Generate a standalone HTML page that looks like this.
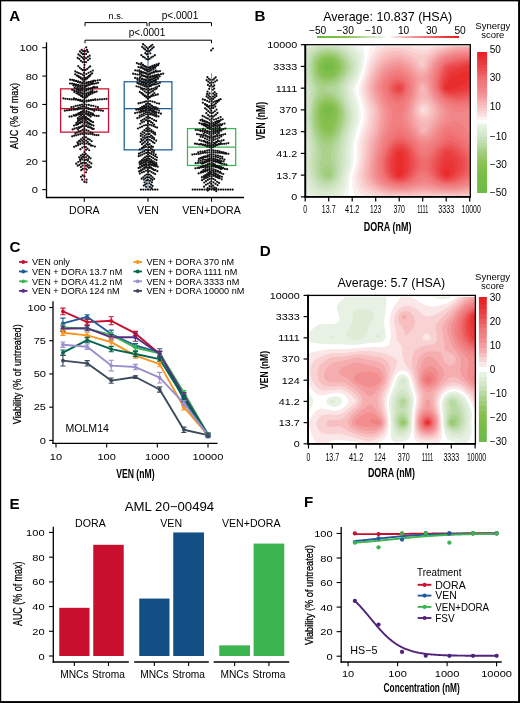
<!DOCTYPE html>
<html><head><meta charset="utf-8"><style>
html,body{margin:0;padding:0;background:#fff;}
svg{display:block;will-change:transform;}
text{font-family:"Liberation Sans", sans-serif;}
</style></head><body>
<svg width="520" height="703" viewBox="0 0 520 703">
<rect x="0" y="0" width="520" height="703" fill="#fff"/>
<text x="9.30" y="20.80" font-size="15.2" text-anchor="start" font-weight="bold" fill="#000" >A</text>
<polyline points="85.00,26.20 85.00,22.60 147.00,22.60 147.00,26.20" stroke="#000" stroke-width="1.0" fill="none" />
<polyline points="149.20,26.20 149.20,22.60 211.50,22.60 211.50,26.20" stroke="#000" stroke-width="1.0" fill="none" />
<polyline points="85.00,43.20 85.00,40.20 211.50,40.20 211.50,43.20" stroke="#000" stroke-width="1.0" fill="none" />
<text x="116.00" y="18.60" font-size="9.2" text-anchor="middle" font-weight="normal" fill="#000" >n.s.</text>
<text x="180.00" y="18.80" font-size="10" text-anchor="middle" font-weight="normal" fill="#000" >p&lt;.0001</text>
<text x="147.00" y="36.30" font-size="10" text-anchor="middle" font-weight="normal" fill="#000" >p&lt;.0001</text>
<line x1="46.50" y1="42.30" x2="46.50" y2="198.20" stroke="#000" stroke-width="1.3" />
<line x1="45.90" y1="197.50" x2="244.00" y2="197.50" stroke="#000" stroke-width="1.3" />
<line x1="42.30" y1="189.60" x2="46.50" y2="189.60" stroke="#000" stroke-width="1.1" />
<text x="38.00" y="193.10" font-size="9.8" text-anchor="end" font-weight="normal" fill="#000" textLength="6.16" lengthAdjust="spacingAndGlyphs">0</text>
<line x1="42.30" y1="161.22" x2="46.50" y2="161.22" stroke="#000" stroke-width="1.1" />
<text x="38.00" y="164.72" font-size="9.8" text-anchor="end" font-weight="normal" fill="#000" textLength="12.32" lengthAdjust="spacingAndGlyphs">20</text>
<line x1="42.30" y1="132.84" x2="46.50" y2="132.84" stroke="#000" stroke-width="1.1" />
<text x="38.00" y="136.34" font-size="9.8" text-anchor="end" font-weight="normal" fill="#000" textLength="12.32" lengthAdjust="spacingAndGlyphs">40</text>
<line x1="42.30" y1="104.46" x2="46.50" y2="104.46" stroke="#000" stroke-width="1.1" />
<text x="38.00" y="107.96" font-size="9.8" text-anchor="end" font-weight="normal" fill="#000" textLength="12.32" lengthAdjust="spacingAndGlyphs">60</text>
<line x1="42.30" y1="76.08" x2="46.50" y2="76.08" stroke="#000" stroke-width="1.1" />
<text x="38.00" y="79.58" font-size="9.8" text-anchor="end" font-weight="normal" fill="#000" textLength="12.32" lengthAdjust="spacingAndGlyphs">80</text>
<line x1="42.30" y1="47.70" x2="46.50" y2="47.70" stroke="#000" stroke-width="1.1" />
<text x="38.00" y="51.20" font-size="9.8" text-anchor="end" font-weight="normal" fill="#000" textLength="18.48" lengthAdjust="spacingAndGlyphs">100</text>
<line x1="84.30" y1="197.50" x2="84.30" y2="201.80" stroke="#000" stroke-width="1.1" />
<text x="84.30" y="214.40" font-size="10.6" text-anchor="middle" font-weight="normal" fill="#000" >DORA</text>
<line x1="148.00" y1="197.50" x2="148.00" y2="201.80" stroke="#000" stroke-width="1.1" />
<text x="148.00" y="214.40" font-size="10.6" text-anchor="middle" font-weight="normal" fill="#000" >VEN</text>
<line x1="211.50" y1="197.50" x2="211.50" y2="201.80" stroke="#000" stroke-width="1.1" />
<text x="211.50" y="214.40" font-size="10.6" text-anchor="middle" font-weight="normal" fill="#000" >VEN+DORA</text>
<text x="18.20" y="116.00" font-size="11.5" text-anchor="middle" font-weight="normal" fill="#000" textLength="66" lengthAdjust="spacingAndGlyphs" transform="rotate(-90 18.20 116.00)" stroke="#000" stroke-width="0.25">AUC (% of max)</text>
<line x1="84.30" y1="47.70" x2="84.30" y2="182.50" stroke="#C8102E" stroke-width="0.9" />
<rect x="60.60" y="88.85" width="47.90" height="43.28" fill="none" stroke="#C8102E" stroke-width="1.25"/>
<line x1="60.60" y1="108.72" x2="108.50" y2="108.72" stroke="#C8102E" stroke-width="1.25" />
<line x1="148.00" y1="47.70" x2="148.00" y2="189.60" stroke="#1B5E96" stroke-width="0.9" />
<rect x="124.20" y="81.76" width="47.70" height="68.11" fill="none" stroke="#1B5E96" stroke-width="1.25"/>
<line x1="124.20" y1="108.72" x2="171.90" y2="108.72" stroke="#1B5E96" stroke-width="1.25" />
<line x1="211.50" y1="73.24" x2="211.50" y2="189.60" stroke="#3CB44F" stroke-width="0.9" />
<rect x="187.50" y="128.58" width="48.20" height="36.89" fill="none" stroke="#3CB44F" stroke-width="1.25"/>
<line x1="187.50" y1="147.03" x2="235.70" y2="147.03" stroke="#3CB44F" stroke-width="1.25" />
<g fill="#111"><circle cx="84.38" cy="51.39" r="1.1"/><circle cx="84.07" cy="54.08" r="1.1"/><circle cx="84.19" cy="56.76" r="1.1"/><circle cx="84.09" cy="59.45" r="1.1"/><circle cx="84.46" cy="62.14" r="1.1"/><circle cx="84.49" cy="64.83" r="1.1"/><circle cx="84.21" cy="67.51" r="1.1"/><circle cx="84.19" cy="70.20" r="1.1"/><circle cx="84.07" cy="72.89" r="1.1"/><circle cx="84.05" cy="75.58" r="1.1"/><circle cx="84.43" cy="77.62" r="1.1"/><circle cx="84.36" cy="79.66" r="1.1"/><circle cx="84.03" cy="81.70" r="1.1"/><circle cx="84.29" cy="83.75" r="1.1"/><circle cx="84.24" cy="85.79" r="1.1"/><circle cx="84.51" cy="87.83" r="1.1"/><circle cx="84.43" cy="89.87" r="1.1"/><circle cx="84.36" cy="91.92" r="1.1"/><circle cx="84.33" cy="93.96" r="1.1"/><circle cx="84.57" cy="96.00" r="1.1"/><circle cx="84.59" cy="98.04" r="1.1"/><circle cx="84.20" cy="100.09" r="1.1"/><circle cx="84.14" cy="102.13" r="1.1"/><circle cx="84.48" cy="104.17" r="1.1"/><circle cx="84.04" cy="106.21" r="1.1"/><circle cx="84.22" cy="108.26" r="1.1"/><circle cx="84.04" cy="110.30" r="1.1"/><circle cx="84.19" cy="112.34" r="1.1"/><circle cx="84.04" cy="115.03" r="1.1"/><circle cx="84.17" cy="117.07" r="1.1"/><circle cx="84.47" cy="119.11" r="1.1"/><circle cx="84.54" cy="121.80" r="1.1"/><circle cx="84.48" cy="123.84" r="1.1"/><circle cx="84.34" cy="126.53" r="1.1"/><circle cx="84.37" cy="128.57" r="1.1"/><circle cx="84.22" cy="130.62" r="1.1"/><circle cx="84.10" cy="132.66" r="1.1"/><circle cx="84.26" cy="134.70" r="1.1"/><circle cx="84.44" cy="136.74" r="1.1"/><circle cx="84.04" cy="139.43" r="1.1"/><circle cx="84.01" cy="142.12" r="1.1"/><circle cx="84.46" cy="144.16" r="1.1"/><circle cx="84.42" cy="146.85" r="1.1"/><circle cx="84.56" cy="152.22" r="1.1"/><circle cx="84.24" cy="154.91" r="1.1"/><circle cx="84.22" cy="157.60" r="1.1"/><circle cx="84.48" cy="160.29" r="1.1"/><circle cx="84.46" cy="162.97" r="1.1"/><circle cx="84.44" cy="176.41" r="1.1"/><circle cx="84.37" cy="181.79" r="1.1"/><circle cx="86.21" cy="47.31" r="1.1"/><circle cx="83.01" cy="51.02" r="1.1"/><circle cx="81.72" cy="49.82" r="1.1"/><circle cx="85.65" cy="51.02" r="1.1"/><circle cx="87.01" cy="49.95" r="1.1"/><circle cx="82.85" cy="54.15" r="1.1"/><circle cx="81.40" cy="52.88" r="1.1"/><circle cx="79.94" cy="51.38" r="1.1"/><circle cx="86.10" cy="53.88" r="1.1"/><circle cx="87.90" cy="51.88" r="1.1"/><circle cx="82.83" cy="58.12" r="1.1"/><circle cx="81.36" cy="56.85" r="1.1"/><circle cx="79.89" cy="55.56" r="1.1"/><circle cx="78.42" cy="54.43" r="1.1"/><circle cx="86.08" cy="58.14" r="1.1"/><circle cx="87.87" cy="56.79" r="1.1"/><circle cx="89.65" cy="55.64" r="1.1"/><circle cx="82.64" cy="62.08" r="1.1"/><circle cx="80.98" cy="60.87" r="1.1"/><circle cx="79.32" cy="59.08" r="1.1"/><circle cx="77.66" cy="57.95" r="1.1"/><circle cx="86.16" cy="62.09" r="1.1"/><circle cx="88.02" cy="60.11" r="1.1"/><circle cx="89.88" cy="58.58" r="1.1"/><circle cx="82.79" cy="70.13" r="1.1"/><circle cx="81.28" cy="69.05" r="1.1"/><circle cx="79.77" cy="67.75" r="1.1"/><circle cx="78.25" cy="66.05" r="1.1"/><circle cx="85.77" cy="69.87" r="1.1"/><circle cx="87.24" cy="68.99" r="1.1"/><circle cx="88.71" cy="67.50" r="1.1"/><circle cx="90.17" cy="66.30" r="1.1"/><circle cx="82.49" cy="74.56" r="1.1"/><circle cx="80.69" cy="73.75" r="1.1"/><circle cx="78.88" cy="73.15" r="1.1"/><circle cx="77.07" cy="72.35" r="1.1"/><circle cx="75.27" cy="71.38" r="1.1"/><circle cx="86.43" cy="74.09" r="1.1"/><circle cx="88.56" cy="72.74" r="1.1"/><circle cx="90.68" cy="71.77" r="1.1"/><circle cx="92.81" cy="70.55" r="1.1"/><circle cx="82.47" cy="78.32" r="1.1"/><circle cx="80.65" cy="77.30" r="1.1"/><circle cx="78.82" cy="76.43" r="1.1"/><circle cx="77.00" cy="75.56" r="1.1"/><circle cx="75.17" cy="74.34" r="1.1"/><circle cx="85.89" cy="78.09" r="1.1"/><circle cx="87.47" cy="77.19" r="1.1"/><circle cx="89.06" cy="75.91" r="1.1"/><circle cx="90.65" cy="74.60" r="1.1"/><circle cx="92.23" cy="73.37" r="1.1"/><circle cx="82.54" cy="79.65" r="1.1"/><circle cx="80.79" cy="78.51" r="1.1"/><circle cx="79.03" cy="77.27" r="1.1"/><circle cx="77.28" cy="75.83" r="1.1"/><circle cx="85.72" cy="79.51" r="1.1"/><circle cx="87.14" cy="78.42" r="1.1"/><circle cx="88.56" cy="77.10" r="1.1"/><circle cx="89.98" cy="75.71" r="1.1"/><circle cx="82.27" cy="82.58" r="1.1"/><circle cx="80.24" cy="82.15" r="1.1"/><circle cx="78.20" cy="81.42" r="1.1"/><circle cx="76.17" cy="80.95" r="1.1"/><circle cx="74.14" cy="80.40" r="1.1"/><circle cx="72.11" cy="79.86" r="1.1"/><circle cx="70.08" cy="79.66" r="1.1"/><circle cx="86.53" cy="82.39" r="1.1"/><circle cx="88.76" cy="81.98" r="1.1"/><circle cx="90.99" cy="81.69" r="1.1"/><circle cx="93.22" cy="81.21" r="1.1"/><circle cx="95.45" cy="80.85" r="1.1"/><circle cx="97.68" cy="80.30" r="1.1"/><circle cx="99.90" cy="80.07" r="1.1"/><circle cx="82.15" cy="83.63" r="1.1"/><circle cx="80.00" cy="82.61" r="1.1"/><circle cx="77.85" cy="81.98" r="1.1"/><circle cx="75.70" cy="81.02" r="1.1"/><circle cx="73.55" cy="80.46" r="1.1"/><circle cx="86.23" cy="83.35" r="1.1"/><circle cx="88.16" cy="82.89" r="1.1"/><circle cx="90.08" cy="82.16" r="1.1"/><circle cx="92.01" cy="81.48" r="1.1"/><circle cx="93.94" cy="80.62" r="1.1"/><circle cx="82.26" cy="85.66" r="1.1"/><circle cx="80.22" cy="85.27" r="1.1"/><circle cx="78.17" cy="84.96" r="1.1"/><circle cx="76.13" cy="84.56" r="1.1"/><circle cx="74.09" cy="83.98" r="1.1"/><circle cx="72.05" cy="83.65" r="1.1"/><circle cx="70.00" cy="83.50" r="1.1"/><circle cx="86.26" cy="85.45" r="1.1"/><circle cx="88.21" cy="85.11" r="1.1"/><circle cx="90.17" cy="84.42" r="1.1"/><circle cx="92.13" cy="83.98" r="1.1"/><circle cx="94.08" cy="83.73" r="1.1"/><circle cx="96.04" cy="83.34" r="1.1"/><circle cx="98.00" cy="82.85" r="1.1"/><circle cx="82.29" cy="87.28" r="1.1"/><circle cx="80.28" cy="86.61" r="1.1"/><circle cx="78.27" cy="85.95" r="1.1"/><circle cx="76.26" cy="84.78" r="1.1"/><circle cx="74.25" cy="84.29" r="1.1"/><circle cx="86.02" cy="86.61" r="1.1"/><circle cx="87.74" cy="85.58" r="1.1"/><circle cx="89.46" cy="84.60" r="1.1"/><circle cx="91.17" cy="83.66" r="1.1"/><circle cx="92.89" cy="82.88" r="1.1"/><circle cx="82.13" cy="88.88" r="1.1"/><circle cx="79.96" cy="88.10" r="1.1"/><circle cx="77.79" cy="87.06" r="1.1"/><circle cx="75.62" cy="85.95" r="1.1"/><circle cx="73.46" cy="85.43" r="1.1"/><circle cx="86.44" cy="89.08" r="1.1"/><circle cx="88.57" cy="88.43" r="1.1"/><circle cx="90.71" cy="88.35" r="1.1"/><circle cx="92.84" cy="87.58" r="1.1"/><circle cx="94.98" cy="87.38" r="1.1"/><circle cx="97.11" cy="87.13" r="1.1"/><circle cx="82.38" cy="90.65" r="1.1"/><circle cx="80.45" cy="90.22" r="1.1"/><circle cx="78.53" cy="89.45" r="1.1"/><circle cx="76.61" cy="88.47" r="1.1"/><circle cx="74.69" cy="87.78" r="1.1"/><circle cx="86.23" cy="90.71" r="1.1"/><circle cx="88.15" cy="89.77" r="1.1"/><circle cx="90.08" cy="88.87" r="1.1"/><circle cx="92.01" cy="87.99" r="1.1"/><circle cx="93.93" cy="86.96" r="1.1"/><circle cx="82.28" cy="93.35" r="1.1"/><circle cx="80.25" cy="92.68" r="1.1"/><circle cx="78.23" cy="91.87" r="1.1"/><circle cx="76.20" cy="91.19" r="1.1"/><circle cx="74.18" cy="90.43" r="1.1"/><circle cx="72.15" cy="89.80" r="1.1"/><circle cx="86.37" cy="93.27" r="1.1"/><circle cx="88.43" cy="93.01" r="1.1"/><circle cx="90.50" cy="92.63" r="1.1"/><circle cx="92.56" cy="92.13" r="1.1"/><circle cx="94.63" cy="91.77" r="1.1"/><circle cx="96.69" cy="91.62" r="1.1"/><circle cx="82.48" cy="93.82" r="1.1"/><circle cx="80.67" cy="92.31" r="1.1"/><circle cx="78.85" cy="90.84" r="1.1"/><circle cx="77.03" cy="89.63" r="1.1"/><circle cx="86.33" cy="94.32" r="1.1"/><circle cx="88.36" cy="92.70" r="1.1"/><circle cx="90.40" cy="91.45" r="1.1"/><circle cx="92.43" cy="90.20" r="1.1"/><circle cx="82.32" cy="96.14" r="1.1"/><circle cx="80.33" cy="95.27" r="1.1"/><circle cx="78.35" cy="94.31" r="1.1"/><circle cx="76.37" cy="93.25" r="1.1"/><circle cx="74.38" cy="92.11" r="1.1"/><circle cx="86.36" cy="95.88" r="1.1"/><circle cx="88.43" cy="95.08" r="1.1"/><circle cx="90.49" cy="94.25" r="1.1"/><circle cx="92.55" cy="93.37" r="1.1"/><circle cx="94.61" cy="92.30" r="1.1"/><circle cx="82.67" cy="97.27" r="1.1"/><circle cx="81.03" cy="95.96" r="1.1"/><circle cx="79.40" cy="94.36" r="1.1"/><circle cx="77.76" cy="92.99" r="1.1"/><circle cx="85.82" cy="97.49" r="1.1"/><circle cx="87.33" cy="96.46" r="1.1"/><circle cx="88.85" cy="94.85" r="1.1"/><circle cx="90.37" cy="93.81" r="1.1"/><circle cx="91.89" cy="92.12" r="1.1"/><circle cx="82.20" cy="100.51" r="1.1"/><circle cx="80.10" cy="99.79" r="1.1"/><circle cx="78.00" cy="100.23" r="1.1"/><circle cx="75.91" cy="99.61" r="1.1"/><circle cx="73.81" cy="99.44" r="1.1"/><circle cx="71.71" cy="99.40" r="1.1"/><circle cx="69.61" cy="99.18" r="1.1"/><circle cx="67.51" cy="99.01" r="1.1"/><circle cx="65.41" cy="98.73" r="1.1"/><circle cx="63.32" cy="98.34" r="1.1"/><circle cx="86.52" cy="100.58" r="1.1"/><circle cx="88.75" cy="100.39" r="1.1"/><circle cx="90.97" cy="100.34" r="1.1"/><circle cx="93.19" cy="99.98" r="1.1"/><circle cx="95.42" cy="99.82" r="1.1"/><circle cx="97.64" cy="99.68" r="1.1"/><circle cx="99.86" cy="99.29" r="1.1"/><circle cx="102.09" cy="99.31" r="1.1"/><circle cx="104.31" cy="99.12" r="1.1"/><circle cx="106.53" cy="98.95" r="1.1"/><circle cx="82.23" cy="101.31" r="1.1"/><circle cx="80.16" cy="100.79" r="1.1"/><circle cx="78.09" cy="99.56" r="1.1"/><circle cx="76.01" cy="99.14" r="1.1"/><circle cx="73.94" cy="98.25" r="1.1"/><circle cx="86.47" cy="101.54" r="1.1"/><circle cx="88.65" cy="100.92" r="1.1"/><circle cx="90.82" cy="100.48" r="1.1"/><circle cx="92.99" cy="99.84" r="1.1"/><circle cx="95.17" cy="99.35" r="1.1"/><circle cx="82.15" cy="104.63" r="1.1"/><circle cx="79.99" cy="105.03" r="1.1"/><circle cx="77.84" cy="105.56" r="1.1"/><circle cx="75.68" cy="105.96" r="1.1"/><circle cx="73.53" cy="106.83" r="1.1"/><circle cx="71.37" cy="107.04" r="1.1"/><circle cx="86.56" cy="104.85" r="1.1"/><circle cx="88.83" cy="104.94" r="1.1"/><circle cx="91.09" cy="105.67" r="1.1"/><circle cx="93.35" cy="105.84" r="1.1"/><circle cx="95.61" cy="106.56" r="1.1"/><circle cx="97.88" cy="107.19" r="1.1"/><circle cx="82.30" cy="106.63" r="1.1"/><circle cx="80.29" cy="107.44" r="1.1"/><circle cx="78.29" cy="107.85" r="1.1"/><circle cx="76.29" cy="108.82" r="1.1"/><circle cx="74.29" cy="109.24" r="1.1"/><circle cx="86.29" cy="107.04" r="1.1"/><circle cx="88.27" cy="108.06" r="1.1"/><circle cx="90.26" cy="109.26" r="1.1"/><circle cx="92.25" cy="109.76" r="1.1"/><circle cx="94.23" cy="110.82" r="1.1"/><circle cx="82.13" cy="108.74" r="1.1"/><circle cx="79.97" cy="108.68" r="1.1"/><circle cx="77.80" cy="109.47" r="1.1"/><circle cx="75.64" cy="109.39" r="1.1"/><circle cx="73.47" cy="109.67" r="1.1"/><circle cx="71.30" cy="109.92" r="1.1"/><circle cx="69.14" cy="110.13" r="1.1"/><circle cx="66.97" cy="110.28" r="1.1"/><circle cx="64.81" cy="110.63" r="1.1"/><circle cx="86.37" cy="108.28" r="1.1"/><circle cx="88.44" cy="108.98" r="1.1"/><circle cx="90.52" cy="109.20" r="1.1"/><circle cx="92.59" cy="109.50" r="1.1"/><circle cx="94.66" cy="109.90" r="1.1"/><circle cx="96.73" cy="109.78" r="1.1"/><circle cx="98.81" cy="110.17" r="1.1"/><circle cx="100.88" cy="110.47" r="1.1"/><circle cx="102.95" cy="110.82" r="1.1"/><circle cx="82.60" cy="111.33" r="1.1"/><circle cx="80.90" cy="112.16" r="1.1"/><circle cx="79.20" cy="113.20" r="1.1"/><circle cx="77.50" cy="114.48" r="1.1"/><circle cx="75.80" cy="115.40" r="1.1"/><circle cx="86.44" cy="111.14" r="1.1"/><circle cx="88.58" cy="111.83" r="1.1"/><circle cx="90.71" cy="112.75" r="1.1"/><circle cx="92.85" cy="113.58" r="1.1"/><circle cx="82.28" cy="111.82" r="1.1"/><circle cx="80.25" cy="112.86" r="1.1"/><circle cx="78.23" cy="113.64" r="1.1"/><circle cx="76.20" cy="114.62" r="1.1"/><circle cx="74.18" cy="115.62" r="1.1"/><circle cx="86.54" cy="111.85" r="1.1"/><circle cx="88.78" cy="112.86" r="1.1"/><circle cx="91.02" cy="113.75" r="1.1"/><circle cx="93.27" cy="114.74" r="1.1"/><circle cx="82.70" cy="114.01" r="1.1"/><circle cx="81.09" cy="115.36" r="1.1"/><circle cx="79.49" cy="116.55" r="1.1"/><circle cx="77.88" cy="118.20" r="1.1"/><circle cx="85.89" cy="113.58" r="1.1"/><circle cx="87.48" cy="114.70" r="1.1"/><circle cx="89.08" cy="115.59" r="1.1"/><circle cx="90.67" cy="116.59" r="1.1"/><circle cx="82.18" cy="113.81" r="1.1"/><circle cx="80.06" cy="114.37" r="1.1"/><circle cx="77.94" cy="114.58" r="1.1"/><circle cx="75.83" cy="115.29" r="1.1"/><circle cx="73.71" cy="115.23" r="1.1"/><circle cx="71.59" cy="116.41" r="1.1"/><circle cx="69.47" cy="116.62" r="1.1"/><circle cx="86.34" cy="113.72" r="1.1"/><circle cx="88.38" cy="114.36" r="1.1"/><circle cx="90.42" cy="114.63" r="1.1"/><circle cx="92.46" cy="115.11" r="1.1"/><circle cx="94.50" cy="115.62" r="1.1"/><circle cx="96.54" cy="115.92" r="1.1"/><circle cx="98.58" cy="115.92" r="1.1"/><circle cx="82.72" cy="116.52" r="1.1"/><circle cx="81.15" cy="117.54" r="1.1"/><circle cx="79.57" cy="118.73" r="1.1"/><circle cx="77.99" cy="120.11" r="1.1"/><circle cx="85.84" cy="116.78" r="1.1"/><circle cx="87.38" cy="118.47" r="1.1"/><circle cx="88.93" cy="119.37" r="1.1"/><circle cx="90.47" cy="120.83" r="1.1"/><circle cx="82.71" cy="118.28" r="1.1"/><circle cx="81.12" cy="119.34" r="1.1"/><circle cx="79.53" cy="120.38" r="1.1"/><circle cx="77.94" cy="121.78" r="1.1"/><circle cx="76.35" cy="122.97" r="1.1"/><circle cx="86.06" cy="118.13" r="1.1"/><circle cx="87.81" cy="119.20" r="1.1"/><circle cx="89.57" cy="120.21" r="1.1"/><circle cx="91.32" cy="121.39" r="1.1"/><circle cx="93.08" cy="122.20" r="1.1"/><circle cx="82.59" cy="120.47" r="1.1"/><circle cx="80.88" cy="121.93" r="1.1"/><circle cx="79.16" cy="122.96" r="1.1"/><circle cx="77.45" cy="124.39" r="1.1"/><circle cx="85.83" cy="120.22" r="1.1"/><circle cx="87.36" cy="121.84" r="1.1"/><circle cx="88.89" cy="123.20" r="1.1"/><circle cx="90.42" cy="124.24" r="1.1"/><circle cx="82.25" cy="122.41" r="1.1"/><circle cx="80.20" cy="123.27" r="1.1"/><circle cx="78.15" cy="124.04" r="1.1"/><circle cx="76.10" cy="124.81" r="1.1"/><circle cx="74.05" cy="125.55" r="1.1"/><circle cx="86.15" cy="122.50" r="1.1"/><circle cx="88.00" cy="123.65" r="1.1"/><circle cx="89.85" cy="124.25" r="1.1"/><circle cx="91.70" cy="124.96" r="1.1"/><circle cx="93.55" cy="125.62" r="1.1"/><circle cx="82.69" cy="125.30" r="1.1"/><circle cx="81.09" cy="126.83" r="1.1"/><circle cx="79.48" cy="128.00" r="1.1"/><circle cx="77.88" cy="129.46" r="1.1"/><circle cx="86.39" cy="125.24" r="1.1"/><circle cx="88.47" cy="126.28" r="1.1"/><circle cx="90.56" cy="127.45" r="1.1"/><circle cx="92.65" cy="128.79" r="1.1"/><circle cx="82.36" cy="126.08" r="1.1"/><circle cx="80.41" cy="126.87" r="1.1"/><circle cx="78.47" cy="127.40" r="1.1"/><circle cx="76.52" cy="127.98" r="1.1"/><circle cx="74.58" cy="128.70" r="1.1"/><circle cx="72.64" cy="129.38" r="1.1"/><circle cx="86.19" cy="125.95" r="1.1"/><circle cx="88.07" cy="127.03" r="1.1"/><circle cx="89.96" cy="127.50" r="1.1"/><circle cx="91.85" cy="128.45" r="1.1"/><circle cx="93.73" cy="128.82" r="1.1"/><circle cx="82.52" cy="129.92" r="1.1"/><circle cx="80.74" cy="130.98" r="1.1"/><circle cx="78.96" cy="131.36" r="1.1"/><circle cx="77.18" cy="132.52" r="1.1"/><circle cx="75.40" cy="133.40" r="1.1"/><circle cx="86.36" cy="130.09" r="1.1"/><circle cx="88.42" cy="130.76" r="1.1"/><circle cx="90.48" cy="132.26" r="1.1"/><circle cx="92.55" cy="133.16" r="1.1"/><circle cx="82.27" cy="133.85" r="1.1"/><circle cx="80.25" cy="134.13" r="1.1"/><circle cx="78.22" cy="134.64" r="1.1"/><circle cx="76.20" cy="135.30" r="1.1"/><circle cx="74.17" cy="135.67" r="1.1"/><circle cx="72.15" cy="136.28" r="1.1"/><circle cx="86.30" cy="133.57" r="1.1"/><circle cx="88.31" cy="134.01" r="1.1"/><circle cx="90.31" cy="133.80" r="1.1"/><circle cx="92.32" cy="134.34" r="1.1"/><circle cx="94.32" cy="134.80" r="1.1"/><circle cx="96.32" cy="135.10" r="1.1"/><circle cx="98.33" cy="135.22" r="1.1"/><circle cx="82.59" cy="137.81" r="1.1"/><circle cx="80.87" cy="139.37" r="1.1"/><circle cx="79.16" cy="140.95" r="1.1"/><circle cx="77.44" cy="142.39" r="1.1"/><circle cx="86.13" cy="137.43" r="1.1"/><circle cx="87.95" cy="138.88" r="1.1"/><circle cx="89.78" cy="139.72" r="1.1"/><circle cx="91.60" cy="141.19" r="1.1"/><circle cx="82.26" cy="140.65" r="1.1"/><circle cx="80.22" cy="141.75" r="1.1"/><circle cx="78.19" cy="143.43" r="1.1"/><circle cx="86.05" cy="140.56" r="1.1"/><circle cx="87.80" cy="141.97" r="1.1"/><circle cx="89.54" cy="143.78" r="1.1"/><circle cx="91.29" cy="145.58" r="1.1"/><circle cx="82.26" cy="143.35" r="1.1"/><circle cx="80.21" cy="144.14" r="1.1"/><circle cx="78.17" cy="145.17" r="1.1"/><circle cx="76.13" cy="145.91" r="1.1"/><circle cx="74.09" cy="146.86" r="1.1"/><circle cx="86.43" cy="143.31" r="1.1"/><circle cx="88.55" cy="144.22" r="1.1"/><circle cx="90.68" cy="145.36" r="1.1"/><circle cx="92.80" cy="145.77" r="1.1"/><circle cx="94.93" cy="146.54" r="1.1"/><circle cx="82.34" cy="147.54" r="1.1"/><circle cx="80.38" cy="149.19" r="1.1"/><circle cx="85.93" cy="147.12" r="1.1"/><circle cx="87.57" cy="148.64" r="1.1"/><circle cx="89.20" cy="150.26" r="1.1"/><circle cx="86.03" cy="149.79" r="1.1"/><circle cx="82.58" cy="154.46" r="1.1"/><circle cx="80.86" cy="155.67" r="1.1"/><circle cx="79.14" cy="157.34" r="1.1"/><circle cx="85.88" cy="154.05" r="1.1"/><circle cx="87.45" cy="155.49" r="1.1"/><circle cx="89.03" cy="156.92" r="1.1"/><circle cx="90.60" cy="158.34" r="1.1"/><circle cx="82.90" cy="156.73" r="1.1"/><circle cx="81.51" cy="157.91" r="1.1"/><circle cx="80.11" cy="159.44" r="1.1"/><circle cx="86.24" cy="157.02" r="1.1"/><circle cx="88.18" cy="159.07" r="1.1"/><circle cx="82.27" cy="159.40" r="1.1"/><circle cx="80.24" cy="160.90" r="1.1"/><circle cx="78.21" cy="161.99" r="1.1"/><circle cx="76.18" cy="163.63" r="1.1"/><circle cx="86.06" cy="159.64" r="1.1"/><circle cx="87.82" cy="160.65" r="1.1"/><circle cx="89.58" cy="162.08" r="1.1"/><circle cx="91.34" cy="163.44" r="1.1"/><circle cx="82.66" cy="162.78" r="1.1"/><circle cx="81.01" cy="163.45" r="1.1"/><circle cx="79.37" cy="164.78" r="1.1"/><circle cx="77.73" cy="165.67" r="1.1"/><circle cx="85.94" cy="163.01" r="1.1"/><circle cx="87.59" cy="164.48" r="1.1"/><circle cx="89.23" cy="165.58" r="1.1"/><circle cx="90.88" cy="167.12" r="1.1"/><circle cx="82.60" cy="165.60" r="1.1"/><circle cx="80.90" cy="167.03" r="1.1"/><circle cx="85.84" cy="165.55" r="1.1"/><circle cx="87.37" cy="166.57" r="1.1"/><circle cx="88.91" cy="167.78" r="1.1"/><circle cx="82.79" cy="168.91" r="1.1"/><circle cx="81.27" cy="170.20" r="1.1"/><circle cx="85.57" cy="168.58" r="1.1"/><circle cx="86.83" cy="169.74" r="1.1"/><circle cx="86.03" cy="172.24" r="1.1"/><circle cx="82.67" cy="175.45" r="1.1"/><circle cx="81.03" cy="176.75" r="1.1"/><circle cx="82.23" cy="179.67" r="1.1"/><circle cx="86.54" cy="179.68" r="1.1"/><circle cx="86.45" cy="182.36" r="1.1"/></g>
<g fill="#111"><circle cx="147.90" cy="48.70" r="1.1"/><circle cx="148.07" cy="51.39" r="1.1"/><circle cx="147.70" cy="54.08" r="1.1"/><circle cx="148.16" cy="56.76" r="1.1"/><circle cx="148.16" cy="59.45" r="1.1"/><circle cx="148.15" cy="67.51" r="1.1"/><circle cx="147.96" cy="69.56" r="1.1"/><circle cx="147.89" cy="71.60" r="1.1"/><circle cx="148.19" cy="74.29" r="1.1"/><circle cx="147.94" cy="76.33" r="1.1"/><circle cx="147.78" cy="78.37" r="1.1"/><circle cx="148.27" cy="80.41" r="1.1"/><circle cx="147.78" cy="82.46" r="1.1"/><circle cx="148.16" cy="84.50" r="1.1"/><circle cx="147.83" cy="86.54" r="1.1"/><circle cx="148.22" cy="88.58" r="1.1"/><circle cx="148.07" cy="90.63" r="1.1"/><circle cx="148.27" cy="92.67" r="1.1"/><circle cx="148.06" cy="94.71" r="1.1"/><circle cx="148.21" cy="96.75" r="1.1"/><circle cx="148.00" cy="98.80" r="1.1"/><circle cx="148.23" cy="101.48" r="1.1"/><circle cx="147.95" cy="103.53" r="1.1"/><circle cx="148.26" cy="106.21" r="1.1"/><circle cx="148.09" cy="108.26" r="1.1"/><circle cx="148.25" cy="110.30" r="1.1"/><circle cx="147.73" cy="112.34" r="1.1"/><circle cx="147.92" cy="114.38" r="1.1"/><circle cx="148.24" cy="116.43" r="1.1"/><circle cx="147.86" cy="118.47" r="1.1"/><circle cx="148.03" cy="121.16" r="1.1"/><circle cx="147.95" cy="123.20" r="1.1"/><circle cx="147.71" cy="125.24" r="1.1"/><circle cx="147.72" cy="127.28" r="1.1"/><circle cx="147.99" cy="129.33" r="1.1"/><circle cx="147.93" cy="131.37" r="1.1"/><circle cx="148.23" cy="134.06" r="1.1"/><circle cx="147.90" cy="136.74" r="1.1"/><circle cx="147.79" cy="139.43" r="1.1"/><circle cx="147.77" cy="142.12" r="1.1"/><circle cx="147.95" cy="144.81" r="1.1"/><circle cx="148.29" cy="147.49" r="1.1"/><circle cx="148.24" cy="150.18" r="1.1"/><circle cx="148.02" cy="152.22" r="1.1"/><circle cx="148.01" cy="154.27" r="1.1"/><circle cx="148.07" cy="156.31" r="1.1"/><circle cx="148.15" cy="158.35" r="1.1"/><circle cx="147.73" cy="160.39" r="1.1"/><circle cx="148.26" cy="162.44" r="1.1"/><circle cx="148.23" cy="165.12" r="1.1"/><circle cx="147.98" cy="167.81" r="1.1"/><circle cx="147.90" cy="169.85" r="1.1"/><circle cx="148.02" cy="171.90" r="1.1"/><circle cx="148.00" cy="174.58" r="1.1"/><circle cx="147.89" cy="177.27" r="1.1"/><circle cx="147.77" cy="179.96" r="1.1"/><circle cx="146.35" cy="47.14" r="1.1"/><circle cx="144.71" cy="45.48" r="1.1"/><circle cx="143.06" cy="44.14" r="1.1"/><circle cx="149.45" cy="47.20" r="1.1"/><circle cx="150.90" cy="45.92" r="1.1"/><circle cx="152.36" cy="44.76" r="1.1"/><circle cx="146.55" cy="50.90" r="1.1"/><circle cx="145.11" cy="49.46" r="1.1"/><circle cx="143.66" cy="48.28" r="1.1"/><circle cx="142.22" cy="46.89" r="1.1"/><circle cx="149.40" cy="51.10" r="1.1"/><circle cx="150.80" cy="49.84" r="1.1"/><circle cx="152.20" cy="48.44" r="1.1"/><circle cx="153.61" cy="47.16" r="1.1"/><circle cx="146.69" cy="54.35" r="1.1"/><circle cx="145.37" cy="53.17" r="1.1"/><circle cx="150.32" cy="53.32" r="1.1"/><circle cx="146.34" cy="59.00" r="1.1"/><circle cx="144.69" cy="57.61" r="1.1"/><circle cx="143.03" cy="56.84" r="1.1"/><circle cx="141.37" cy="55.15" r="1.1"/><circle cx="149.72" cy="58.73" r="1.1"/><circle cx="151.43" cy="57.45" r="1.1"/><circle cx="153.15" cy="56.49" r="1.1"/><circle cx="154.86" cy="55.22" r="1.1"/><circle cx="146.14" cy="66.76" r="1.1"/><circle cx="144.29" cy="66.06" r="1.1"/><circle cx="142.43" cy="65.47" r="1.1"/><circle cx="140.57" cy="64.50" r="1.1"/><circle cx="138.71" cy="63.90" r="1.1"/><circle cx="136.86" cy="63.10" r="1.1"/><circle cx="150.16" cy="66.89" r="1.1"/><circle cx="152.32" cy="65.74" r="1.1"/><circle cx="154.48" cy="65.16" r="1.1"/><circle cx="156.64" cy="64.46" r="1.1"/><circle cx="158.80" cy="63.55" r="1.1"/><circle cx="146.34" cy="67.42" r="1.1"/><circle cx="144.68" cy="66.06" r="1.1"/><circle cx="143.03" cy="64.81" r="1.1"/><circle cx="141.37" cy="63.15" r="1.1"/><circle cx="150.17" cy="68.08" r="1.1"/><circle cx="152.34" cy="66.82" r="1.1"/><circle cx="154.51" cy="66.01" r="1.1"/><circle cx="156.68" cy="65.29" r="1.1"/><circle cx="146.08" cy="69.45" r="1.1"/><circle cx="144.16" cy="68.69" r="1.1"/><circle cx="142.25" cy="67.88" r="1.1"/><circle cx="140.33" cy="67.63" r="1.1"/><circle cx="138.41" cy="67.01" r="1.1"/><circle cx="150.02" cy="68.90" r="1.1"/><circle cx="152.04" cy="68.02" r="1.1"/><circle cx="154.05" cy="67.21" r="1.1"/><circle cx="156.07" cy="65.99" r="1.1"/><circle cx="158.09" cy="65.13" r="1.1"/><circle cx="146.29" cy="70.53" r="1.1"/><circle cx="144.58" cy="69.56" r="1.1"/><circle cx="142.87" cy="68.30" r="1.1"/><circle cx="141.16" cy="67.02" r="1.1"/><circle cx="149.82" cy="70.94" r="1.1"/><circle cx="151.63" cy="70.02" r="1.1"/><circle cx="153.45" cy="69.15" r="1.1"/><circle cx="155.26" cy="67.78" r="1.1"/><circle cx="145.86" cy="73.07" r="1.1"/><circle cx="143.73" cy="72.52" r="1.1"/><circle cx="141.59" cy="71.96" r="1.1"/><circle cx="139.46" cy="71.37" r="1.1"/><circle cx="137.32" cy="70.68" r="1.1"/><circle cx="135.18" cy="70.36" r="1.1"/><circle cx="150.00" cy="73.47" r="1.1"/><circle cx="152.00" cy="72.63" r="1.1"/><circle cx="154.01" cy="72.45" r="1.1"/><circle cx="156.01" cy="71.77" r="1.1"/><circle cx="158.01" cy="71.41" r="1.1"/><circle cx="160.01" cy="71.07" r="1.1"/><circle cx="146.27" cy="73.78" r="1.1"/><circle cx="144.53" cy="72.96" r="1.1"/><circle cx="142.80" cy="72.35" r="1.1"/><circle cx="141.07" cy="71.50" r="1.1"/><circle cx="139.34" cy="70.24" r="1.1"/><circle cx="149.96" cy="73.97" r="1.1"/><circle cx="151.92" cy="72.86" r="1.1"/><circle cx="153.89" cy="71.55" r="1.1"/><circle cx="155.85" cy="70.61" r="1.1"/><circle cx="145.88" cy="76.35" r="1.1"/><circle cx="143.75" cy="75.84" r="1.1"/><circle cx="141.63" cy="75.64" r="1.1"/><circle cx="139.51" cy="74.74" r="1.1"/><circle cx="137.38" cy="74.54" r="1.1"/><circle cx="135.26" cy="74.03" r="1.1"/><circle cx="133.13" cy="73.67" r="1.1"/><circle cx="150.17" cy="76.32" r="1.1"/><circle cx="152.34" cy="75.77" r="1.1"/><circle cx="154.51" cy="75.33" r="1.1"/><circle cx="156.68" cy="75.11" r="1.1"/><circle cx="158.85" cy="74.78" r="1.1"/><circle cx="161.02" cy="74.19" r="1.1"/><circle cx="163.19" cy="73.71" r="1.1"/><circle cx="146.37" cy="77.45" r="1.1"/><circle cx="144.73" cy="76.27" r="1.1"/><circle cx="143.10" cy="75.58" r="1.1"/><circle cx="141.47" cy="74.09" r="1.1"/><circle cx="139.83" cy="73.06" r="1.1"/><circle cx="150.00" cy="77.65" r="1.1"/><circle cx="152.00" cy="77.02" r="1.1"/><circle cx="154.01" cy="76.40" r="1.1"/><circle cx="156.01" cy="75.70" r="1.1"/><circle cx="158.01" cy="74.69" r="1.1"/><circle cx="145.86" cy="79.78" r="1.1"/><circle cx="143.72" cy="79.64" r="1.1"/><circle cx="141.57" cy="79.17" r="1.1"/><circle cx="139.43" cy="78.85" r="1.1"/><circle cx="137.29" cy="78.33" r="1.1"/><circle cx="135.15" cy="77.95" r="1.1"/><circle cx="149.93" cy="79.56" r="1.1"/><circle cx="151.87" cy="79.30" r="1.1"/><circle cx="153.80" cy="78.34" r="1.1"/><circle cx="155.74" cy="77.56" r="1.1"/><circle cx="157.67" cy="77.22" r="1.1"/><circle cx="159.61" cy="76.45" r="1.1"/><circle cx="146.03" cy="80.70" r="1.1"/><circle cx="144.06" cy="79.60" r="1.1"/><circle cx="142.10" cy="78.60" r="1.1"/><circle cx="140.13" cy="77.20" r="1.1"/><circle cx="150.08" cy="80.45" r="1.1"/><circle cx="152.16" cy="79.39" r="1.1"/><circle cx="154.24" cy="78.38" r="1.1"/><circle cx="156.32" cy="76.83" r="1.1"/><circle cx="145.89" cy="83.06" r="1.1"/><circle cx="143.79" cy="82.06" r="1.1"/><circle cx="141.68" cy="81.43" r="1.1"/><circle cx="139.58" cy="80.49" r="1.1"/><circle cx="137.47" cy="79.85" r="1.1"/><circle cx="150.00" cy="82.50" r="1.1"/><circle cx="152.01" cy="81.52" r="1.1"/><circle cx="154.01" cy="80.59" r="1.1"/><circle cx="156.01" cy="79.72" r="1.1"/><circle cx="158.01" cy="78.72" r="1.1"/><circle cx="145.98" cy="83.85" r="1.1"/><circle cx="143.96" cy="82.92" r="1.1"/><circle cx="141.94" cy="82.44" r="1.1"/><circle cx="139.92" cy="81.01" r="1.1"/><circle cx="149.91" cy="83.75" r="1.1"/><circle cx="151.82" cy="82.18" r="1.1"/><circle cx="153.72" cy="81.06" r="1.1"/><circle cx="155.63" cy="79.97" r="1.1"/><circle cx="145.86" cy="85.16" r="1.1"/><circle cx="143.72" cy="84.59" r="1.1"/><circle cx="141.58" cy="83.97" r="1.1"/><circle cx="139.45" cy="83.36" r="1.1"/><circle cx="137.31" cy="82.85" r="1.1"/><circle cx="149.99" cy="85.61" r="1.1"/><circle cx="151.99" cy="84.61" r="1.1"/><circle cx="153.98" cy="84.54" r="1.1"/><circle cx="155.97" cy="84.34" r="1.1"/><circle cx="157.97" cy="83.55" r="1.1"/><circle cx="159.96" cy="82.76" r="1.1"/><circle cx="146.14" cy="86.87" r="1.1"/><circle cx="144.27" cy="86.11" r="1.1"/><circle cx="142.41" cy="85.24" r="1.1"/><circle cx="140.54" cy="84.51" r="1.1"/><circle cx="138.68" cy="83.68" r="1.1"/><circle cx="149.59" cy="86.36" r="1.1"/><circle cx="151.18" cy="85.64" r="1.1"/><circle cx="152.77" cy="84.46" r="1.1"/><circle cx="154.36" cy="83.34" r="1.1"/><circle cx="155.95" cy="82.13" r="1.1"/><circle cx="146.09" cy="89.39" r="1.1"/><circle cx="144.17" cy="88.76" r="1.1"/><circle cx="142.26" cy="88.32" r="1.1"/><circle cx="140.34" cy="87.37" r="1.1"/><circle cx="138.43" cy="86.74" r="1.1"/><circle cx="136.51" cy="86.26" r="1.1"/><circle cx="149.85" cy="89.63" r="1.1"/><circle cx="151.71" cy="88.95" r="1.1"/><circle cx="153.56" cy="88.48" r="1.1"/><circle cx="155.42" cy="87.53" r="1.1"/><circle cx="157.27" cy="86.81" r="1.1"/><circle cx="159.13" cy="85.96" r="1.1"/><circle cx="146.29" cy="92.51" r="1.1"/><circle cx="144.58" cy="91.30" r="1.1"/><circle cx="142.87" cy="89.67" r="1.1"/><circle cx="141.16" cy="88.70" r="1.1"/><circle cx="149.70" cy="92.87" r="1.1"/><circle cx="151.40" cy="91.71" r="1.1"/><circle cx="153.10" cy="90.89" r="1.1"/><circle cx="154.80" cy="89.51" r="1.1"/><circle cx="156.50" cy="88.71" r="1.1"/><circle cx="146.37" cy="96.43" r="1.1"/><circle cx="144.73" cy="95.39" r="1.1"/><circle cx="143.10" cy="94.34" r="1.1"/><circle cx="141.46" cy="93.21" r="1.1"/><circle cx="139.83" cy="91.90" r="1.1"/><circle cx="149.96" cy="96.93" r="1.1"/><circle cx="151.91" cy="96.07" r="1.1"/><circle cx="153.87" cy="95.61" r="1.1"/><circle cx="155.83" cy="94.92" r="1.1"/><circle cx="157.79" cy="94.42" r="1.1"/><circle cx="146.44" cy="97.40" r="1.1"/><circle cx="144.87" cy="96.04" r="1.1"/><circle cx="143.31" cy="94.63" r="1.1"/><circle cx="141.75" cy="93.16" r="1.1"/><circle cx="149.59" cy="97.41" r="1.1"/><circle cx="151.18" cy="95.68" r="1.1"/><circle cx="152.78" cy="94.40" r="1.1"/><circle cx="154.37" cy="93.01" r="1.1"/><circle cx="146.10" cy="101.44" r="1.1"/><circle cx="144.20" cy="101.92" r="1.1"/><circle cx="142.30" cy="102.49" r="1.1"/><circle cx="140.40" cy="102.93" r="1.1"/><circle cx="138.51" cy="103.38" r="1.1"/><circle cx="150.22" cy="101.00" r="1.1"/><circle cx="152.44" cy="101.54" r="1.1"/><circle cx="154.66" cy="102.16" r="1.1"/><circle cx="156.88" cy="103.23" r="1.1"/><circle cx="159.10" cy="103.55" r="1.1"/><circle cx="146.07" cy="104.18" r="1.1"/><circle cx="144.15" cy="105.86" r="1.1"/><circle cx="142.22" cy="106.91" r="1.1"/><circle cx="140.30" cy="108.45" r="1.1"/><circle cx="149.81" cy="103.98" r="1.1"/><circle cx="151.63" cy="105.63" r="1.1"/><circle cx="153.44" cy="107.19" r="1.1"/><circle cx="155.25" cy="108.12" r="1.1"/><circle cx="146.11" cy="104.86" r="1.1"/><circle cx="144.22" cy="106.33" r="1.1"/><circle cx="142.33" cy="107.06" r="1.1"/><circle cx="140.44" cy="108.24" r="1.1"/><circle cx="138.54" cy="109.64" r="1.1"/><circle cx="149.96" cy="104.71" r="1.1"/><circle cx="151.91" cy="106.12" r="1.1"/><circle cx="153.87" cy="106.91" r="1.1"/><circle cx="155.82" cy="107.47" r="1.1"/><circle cx="157.78" cy="108.29" r="1.1"/><circle cx="146.22" cy="106.67" r="1.1"/><circle cx="144.43" cy="107.83" r="1.1"/><circle cx="142.65" cy="109.05" r="1.1"/><circle cx="140.86" cy="110.33" r="1.1"/><circle cx="149.79" cy="107.00" r="1.1"/><circle cx="151.58" cy="108.66" r="1.1"/><circle cx="153.36" cy="110.29" r="1.1"/><circle cx="155.15" cy="111.86" r="1.1"/><circle cx="146.04" cy="107.65" r="1.1"/><circle cx="144.08" cy="108.15" r="1.1"/><circle cx="142.12" cy="108.71" r="1.1"/><circle cx="140.15" cy="108.89" r="1.1"/><circle cx="138.19" cy="109.27" r="1.1"/><circle cx="136.23" cy="109.60" r="1.1"/><circle cx="150.22" cy="108.04" r="1.1"/><circle cx="152.44" cy="108.35" r="1.1"/><circle cx="154.65" cy="109.41" r="1.1"/><circle cx="156.87" cy="109.64" r="1.1"/><circle cx="159.09" cy="110.58" r="1.1"/><circle cx="145.98" cy="109.36" r="1.1"/><circle cx="143.96" cy="110.70" r="1.1"/><circle cx="141.95" cy="111.40" r="1.1"/><circle cx="139.93" cy="112.39" r="1.1"/><circle cx="149.63" cy="110.16" r="1.1"/><circle cx="151.25" cy="110.76" r="1.1"/><circle cx="152.88" cy="111.93" r="1.1"/><circle cx="154.51" cy="112.93" r="1.1"/><circle cx="156.13" cy="114.00" r="1.1"/><circle cx="145.85" cy="110.52" r="1.1"/><circle cx="143.69" cy="111.14" r="1.1"/><circle cx="141.54" cy="111.62" r="1.1"/><circle cx="139.39" cy="112.22" r="1.1"/><circle cx="137.23" cy="112.58" r="1.1"/><circle cx="135.08" cy="113.11" r="1.1"/><circle cx="150.15" cy="109.97" r="1.1"/><circle cx="152.30" cy="110.83" r="1.1"/><circle cx="154.45" cy="111.88" r="1.1"/><circle cx="156.60" cy="112.23" r="1.1"/><circle cx="158.75" cy="112.83" r="1.1"/><circle cx="160.90" cy="113.67" r="1.1"/><circle cx="145.94" cy="112.19" r="1.1"/><circle cx="143.88" cy="113.44" r="1.1"/><circle cx="141.82" cy="114.54" r="1.1"/><circle cx="139.76" cy="115.58" r="1.1"/><circle cx="149.65" cy="112.43" r="1.1"/><circle cx="151.30" cy="113.23" r="1.1"/><circle cx="152.95" cy="114.36" r="1.1"/><circle cx="154.60" cy="115.46" r="1.1"/><circle cx="156.25" cy="116.50" r="1.1"/><circle cx="145.87" cy="114.24" r="1.1"/><circle cx="143.74" cy="115.47" r="1.1"/><circle cx="141.60" cy="116.35" r="1.1"/><circle cx="139.47" cy="117.40" r="1.1"/><circle cx="137.34" cy="118.15" r="1.1"/><circle cx="150.10" cy="114.29" r="1.1"/><circle cx="152.20" cy="114.70" r="1.1"/><circle cx="154.30" cy="115.45" r="1.1"/><circle cx="156.40" cy="115.69" r="1.1"/><circle cx="158.50" cy="116.47" r="1.1"/><circle cx="146.26" cy="117.32" r="1.1"/><circle cx="144.52" cy="118.80" r="1.1"/><circle cx="142.78" cy="119.76" r="1.1"/><circle cx="141.05" cy="120.81" r="1.1"/><circle cx="150.03" cy="117.79" r="1.1"/><circle cx="152.07" cy="118.86" r="1.1"/><circle cx="154.10" cy="120.16" r="1.1"/><circle cx="156.13" cy="120.90" r="1.1"/><circle cx="146.06" cy="120.14" r="1.1"/><circle cx="144.12" cy="121.55" r="1.1"/><circle cx="142.19" cy="122.41" r="1.1"/><circle cx="140.25" cy="123.75" r="1.1"/><circle cx="149.53" cy="120.79" r="1.1"/><circle cx="151.05" cy="122.15" r="1.1"/><circle cx="152.58" cy="123.08" r="1.1"/><circle cx="154.10" cy="124.59" r="1.1"/><circle cx="145.99" cy="125.06" r="1.1"/><circle cx="143.97" cy="125.48" r="1.1"/><circle cx="141.96" cy="126.69" r="1.1"/><circle cx="139.94" cy="127.50" r="1.1"/><circle cx="137.93" cy="128.50" r="1.1"/><circle cx="149.82" cy="124.73" r="1.1"/><circle cx="151.65" cy="125.36" r="1.1"/><circle cx="153.47" cy="126.12" r="1.1"/><circle cx="155.29" cy="126.91" r="1.1"/><circle cx="157.12" cy="127.59" r="1.1"/><circle cx="146.21" cy="128.70" r="1.1"/><circle cx="144.41" cy="130.17" r="1.1"/><circle cx="142.62" cy="131.78" r="1.1"/><circle cx="140.83" cy="133.56" r="1.1"/><circle cx="149.73" cy="128.62" r="1.1"/><circle cx="151.46" cy="130.09" r="1.1"/><circle cx="153.20" cy="131.59" r="1.1"/><circle cx="154.93" cy="132.86" r="1.1"/><circle cx="146.19" cy="131.09" r="1.1"/><circle cx="144.38" cy="132.96" r="1.1"/><circle cx="142.57" cy="134.54" r="1.1"/><circle cx="140.76" cy="135.93" r="1.1"/><circle cx="149.80" cy="131.12" r="1.1"/><circle cx="151.60" cy="131.96" r="1.1"/><circle cx="153.41" cy="133.36" r="1.1"/><circle cx="155.21" cy="134.39" r="1.1"/><circle cx="146.29" cy="134.39" r="1.1"/><circle cx="144.58" cy="135.78" r="1.1"/><circle cx="142.88" cy="137.29" r="1.1"/><circle cx="141.17" cy="139.02" r="1.1"/><circle cx="149.51" cy="133.81" r="1.1"/><circle cx="151.02" cy="135.49" r="1.1"/><circle cx="152.53" cy="136.54" r="1.1"/><circle cx="154.04" cy="138.09" r="1.1"/><circle cx="146.50" cy="137.31" r="1.1"/><circle cx="145.00" cy="138.09" r="1.1"/><circle cx="143.50" cy="139.67" r="1.1"/><circle cx="141.99" cy="140.72" r="1.1"/><circle cx="140.49" cy="141.94" r="1.1"/><circle cx="150.05" cy="136.93" r="1.1"/><circle cx="152.09" cy="138.21" r="1.1"/><circle cx="154.14" cy="139.48" r="1.1"/><circle cx="156.19" cy="140.63" r="1.1"/><circle cx="146.51" cy="140.06" r="1.1"/><circle cx="145.01" cy="141.71" r="1.1"/><circle cx="143.52" cy="142.88" r="1.1"/><circle cx="142.03" cy="144.18" r="1.1"/><circle cx="149.63" cy="139.82" r="1.1"/><circle cx="151.26" cy="140.84" r="1.1"/><circle cx="152.89" cy="142.16" r="1.1"/><circle cx="154.52" cy="143.06" r="1.1"/><circle cx="146.57" cy="143.85" r="1.1"/><circle cx="145.14" cy="145.29" r="1.1"/><circle cx="143.71" cy="146.38" r="1.1"/><circle cx="142.28" cy="147.84" r="1.1"/><circle cx="149.64" cy="144.18" r="1.1"/><circle cx="151.28" cy="146.09" r="1.1"/><circle cx="152.91" cy="146.86" r="1.1"/><circle cx="145.97" cy="146.84" r="1.1"/><circle cx="143.94" cy="147.70" r="1.1"/><circle cx="141.90" cy="148.32" r="1.1"/><circle cx="139.87" cy="149.39" r="1.1"/><circle cx="149.49" cy="146.93" r="1.1"/><circle cx="150.98" cy="148.11" r="1.1"/><circle cx="152.47" cy="149.57" r="1.1"/><circle cx="153.96" cy="150.88" r="1.1"/><circle cx="146.18" cy="149.90" r="1.1"/><circle cx="144.36" cy="151.01" r="1.1"/><circle cx="142.55" cy="151.85" r="1.1"/><circle cx="140.73" cy="152.77" r="1.1"/><circle cx="138.91" cy="153.68" r="1.1"/><circle cx="149.94" cy="150.26" r="1.1"/><circle cx="151.87" cy="151.96" r="1.1"/><circle cx="153.81" cy="153.00" r="1.1"/><circle cx="155.75" cy="154.55" r="1.1"/><circle cx="146.15" cy="152.88" r="1.1"/><circle cx="144.31" cy="153.55" r="1.1"/><circle cx="142.46" cy="154.49" r="1.1"/><circle cx="140.61" cy="155.45" r="1.1"/><circle cx="138.76" cy="156.17" r="1.1"/><circle cx="149.78" cy="153.20" r="1.1"/><circle cx="151.56" cy="154.04" r="1.1"/><circle cx="153.34" cy="155.12" r="1.1"/><circle cx="155.13" cy="156.15" r="1.1"/><circle cx="156.91" cy="157.30" r="1.1"/><circle cx="146.48" cy="156.36" r="1.1"/><circle cx="144.95" cy="157.23" r="1.1"/><circle cx="143.43" cy="158.60" r="1.1"/><circle cx="141.90" cy="160.10" r="1.1"/><circle cx="140.38" cy="161.36" r="1.1"/><circle cx="149.72" cy="156.01" r="1.1"/><circle cx="151.45" cy="157.08" r="1.1"/><circle cx="153.17" cy="158.06" r="1.1"/><circle cx="154.89" cy="159.36" r="1.1"/><circle cx="156.61" cy="160.03" r="1.1"/><circle cx="146.30" cy="158.95" r="1.1"/><circle cx="144.60" cy="159.86" r="1.1"/><circle cx="142.91" cy="160.70" r="1.1"/><circle cx="141.21" cy="161.84" r="1.1"/><circle cx="139.51" cy="162.46" r="1.1"/><circle cx="149.66" cy="158.97" r="1.1"/><circle cx="151.31" cy="160.06" r="1.1"/><circle cx="152.97" cy="161.23" r="1.1"/><circle cx="154.62" cy="162.25" r="1.1"/><circle cx="156.28" cy="163.12" r="1.1"/><circle cx="146.04" cy="160.85" r="1.1"/><circle cx="144.08" cy="162.04" r="1.1"/><circle cx="142.12" cy="163.38" r="1.1"/><circle cx="140.16" cy="164.08" r="1.1"/><circle cx="149.78" cy="160.99" r="1.1"/><circle cx="151.57" cy="162.05" r="1.1"/><circle cx="153.35" cy="163.53" r="1.1"/><circle cx="155.14" cy="164.71" r="1.1"/><circle cx="145.95" cy="161.82" r="1.1"/><circle cx="143.90" cy="162.77" r="1.1"/><circle cx="141.86" cy="163.59" r="1.1"/><circle cx="139.81" cy="164.53" r="1.1"/><circle cx="150.13" cy="161.96" r="1.1"/><circle cx="152.25" cy="162.81" r="1.1"/><circle cx="154.38" cy="163.77" r="1.1"/><circle cx="156.50" cy="164.85" r="1.1"/><circle cx="146.02" cy="163.57" r="1.1"/><circle cx="144.05" cy="164.80" r="1.1"/><circle cx="142.07" cy="165.91" r="1.1"/><circle cx="140.09" cy="167.45" r="1.1"/><circle cx="149.88" cy="163.39" r="1.1"/><circle cx="151.76" cy="164.51" r="1.1"/><circle cx="153.63" cy="165.44" r="1.1"/><circle cx="155.51" cy="166.25" r="1.1"/><circle cx="146.10" cy="164.89" r="1.1"/><circle cx="144.20" cy="165.65" r="1.1"/><circle cx="142.31" cy="166.31" r="1.1"/><circle cx="140.41" cy="167.34" r="1.1"/><circle cx="138.51" cy="168.07" r="1.1"/><circle cx="149.94" cy="164.58" r="1.1"/><circle cx="151.89" cy="165.02" r="1.1"/><circle cx="153.83" cy="165.73" r="1.1"/><circle cx="155.77" cy="166.14" r="1.1"/><circle cx="157.71" cy="166.72" r="1.1"/><circle cx="146.14" cy="166.66" r="1.1"/><circle cx="144.28" cy="167.87" r="1.1"/><circle cx="142.42" cy="169.50" r="1.1"/><circle cx="140.56" cy="170.82" r="1.1"/><circle cx="149.61" cy="166.46" r="1.1"/><circle cx="151.22" cy="167.72" r="1.1"/><circle cx="152.83" cy="169.11" r="1.1"/><circle cx="154.44" cy="170.25" r="1.1"/><circle cx="146.23" cy="167.58" r="1.1"/><circle cx="144.45" cy="168.68" r="1.1"/><circle cx="142.68" cy="169.44" r="1.1"/><circle cx="140.91" cy="170.27" r="1.1"/><circle cx="139.13" cy="171.38" r="1.1"/><circle cx="149.87" cy="167.85" r="1.1"/><circle cx="151.74" cy="168.51" r="1.1"/><circle cx="153.60" cy="169.59" r="1.1"/><circle cx="155.47" cy="170.06" r="1.1"/><circle cx="157.34" cy="171.13" r="1.1"/><circle cx="145.96" cy="170.76" r="1.1"/><circle cx="143.92" cy="171.82" r="1.1"/><circle cx="141.88" cy="172.39" r="1.1"/><circle cx="139.84" cy="173.61" r="1.1"/><circle cx="149.80" cy="170.99" r="1.1"/><circle cx="151.60" cy="172.10" r="1.1"/><circle cx="153.39" cy="173.19" r="1.1"/><circle cx="155.19" cy="174.11" r="1.1"/><circle cx="146.40" cy="174.51" r="1.1"/><circle cx="144.81" cy="175.76" r="1.1"/><circle cx="143.21" cy="177.44" r="1.1"/><circle cx="141.62" cy="178.63" r="1.1"/><circle cx="149.54" cy="174.49" r="1.1"/><circle cx="151.09" cy="175.79" r="1.1"/><circle cx="152.63" cy="177.31" r="1.1"/><circle cx="154.18" cy="178.84" r="1.1"/><circle cx="146.64" cy="177.26" r="1.1"/><circle cx="145.27" cy="178.27" r="1.1"/><circle cx="143.91" cy="179.55" r="1.1"/><circle cx="149.45" cy="177.31" r="1.1"/><circle cx="150.90" cy="178.71" r="1.1"/><circle cx="152.35" cy="179.97" r="1.1"/><circle cx="146.27" cy="180.54" r="1.1"/><circle cx="144.54" cy="182.25" r="1.1"/><circle cx="149.96" cy="180.79" r="1.1"/><circle cx="151.92" cy="182.34" r="1.1"/><circle cx="146.60" cy="183.52" r="1.1"/><circle cx="145.20" cy="184.56" r="1.1"/><circle cx="143.80" cy="185.62" r="1.1"/><circle cx="149.52" cy="183.25" r="1.1"/><circle cx="151.04" cy="184.76" r="1.1"/><circle cx="152.56" cy="185.95" r="1.1"/><circle cx="146.12" cy="186.81" r="1.1"/><circle cx="149.84" cy="186.90" r="1.1"/><circle cx="151.68" cy="188.20" r="1.1"/><circle cx="148.00" cy="189.60" r="1.1"/><circle cx="150.35" cy="189.60" r="1.1"/><circle cx="145.65" cy="189.60" r="1.1"/><circle cx="152.70" cy="189.60" r="1.1"/><circle cx="143.30" cy="189.60" r="1.1"/><circle cx="155.05" cy="189.60" r="1.1"/><circle cx="140.95" cy="189.60" r="1.1"/><circle cx="157.40" cy="189.60" r="1.1"/></g>
<g fill="#111"><circle cx="211.48" cy="82.36" r="1.1"/><circle cx="211.23" cy="85.05" r="1.1"/><circle cx="211.58" cy="98.49" r="1.1"/><circle cx="211.66" cy="101.17" r="1.1"/><circle cx="211.56" cy="103.86" r="1.1"/><circle cx="211.33" cy="105.91" r="1.1"/><circle cx="211.64" cy="107.95" r="1.1"/><circle cx="211.27" cy="110.64" r="1.1"/><circle cx="211.72" cy="113.32" r="1.1"/><circle cx="211.79" cy="116.01" r="1.1"/><circle cx="211.68" cy="118.70" r="1.1"/><circle cx="211.46" cy="121.39" r="1.1"/><circle cx="211.43" cy="123.43" r="1.1"/><circle cx="211.73" cy="125.47" r="1.1"/><circle cx="211.21" cy="127.51" r="1.1"/><circle cx="211.74" cy="129.56" r="1.1"/><circle cx="211.37" cy="131.60" r="1.1"/><circle cx="211.42" cy="133.64" r="1.1"/><circle cx="211.38" cy="135.68" r="1.1"/><circle cx="211.44" cy="137.72" r="1.1"/><circle cx="211.63" cy="139.77" r="1.1"/><circle cx="211.80" cy="141.81" r="1.1"/><circle cx="211.44" cy="143.85" r="1.1"/><circle cx="211.34" cy="145.89" r="1.1"/><circle cx="211.37" cy="147.94" r="1.1"/><circle cx="211.56" cy="149.98" r="1.1"/><circle cx="211.62" cy="152.02" r="1.1"/><circle cx="211.61" cy="154.06" r="1.1"/><circle cx="211.56" cy="156.11" r="1.1"/><circle cx="211.62" cy="158.15" r="1.1"/><circle cx="211.59" cy="160.19" r="1.1"/><circle cx="211.72" cy="162.23" r="1.1"/><circle cx="211.59" cy="164.28" r="1.1"/><circle cx="211.79" cy="166.32" r="1.1"/><circle cx="211.59" cy="168.36" r="1.1"/><circle cx="211.65" cy="170.40" r="1.1"/><circle cx="211.23" cy="172.45" r="1.1"/><circle cx="211.68" cy="174.49" r="1.1"/><circle cx="211.66" cy="176.53" r="1.1"/><circle cx="211.46" cy="178.57" r="1.1"/><circle cx="211.30" cy="181.26" r="1.1"/><circle cx="211.27" cy="183.95" r="1.1"/><circle cx="211.37" cy="186.64" r="1.1"/><circle cx="210.14" cy="79.82" r="1.1"/><circle cx="208.77" cy="78.76" r="1.1"/><circle cx="207.41" cy="77.14" r="1.1"/><circle cx="212.90" cy="79.80" r="1.1"/><circle cx="214.30" cy="78.62" r="1.1"/><circle cx="215.70" cy="77.30" r="1.1"/><circle cx="209.89" cy="83.04" r="1.1"/><circle cx="208.28" cy="81.65" r="1.1"/><circle cx="206.67" cy="80.21" r="1.1"/><circle cx="213.32" cy="82.77" r="1.1"/><circle cx="215.13" cy="81.62" r="1.1"/><circle cx="216.95" cy="80.33" r="1.1"/><circle cx="209.72" cy="86.42" r="1.1"/><circle cx="207.95" cy="84.91" r="1.1"/><circle cx="212.88" cy="86.59" r="1.1"/><circle cx="214.26" cy="85.41" r="1.1"/><circle cx="209.18" cy="88.83" r="1.1"/><circle cx="212.87" cy="89.76" r="1.1"/><circle cx="214.24" cy="88.49" r="1.1"/><circle cx="209.53" cy="93.43" r="1.1"/><circle cx="207.56" cy="91.53" r="1.1"/><circle cx="213.09" cy="93.54" r="1.1"/><circle cx="214.68" cy="92.17" r="1.1"/><circle cx="210.01" cy="96.82" r="1.1"/><circle cx="208.53" cy="95.43" r="1.1"/><circle cx="207.04" cy="93.90" r="1.1"/><circle cx="213.13" cy="96.65" r="1.1"/><circle cx="214.75" cy="94.97" r="1.1"/><circle cx="216.38" cy="93.87" r="1.1"/><circle cx="209.84" cy="99.43" r="1.1"/><circle cx="208.18" cy="97.83" r="1.1"/><circle cx="206.52" cy="96.44" r="1.1"/><circle cx="213.15" cy="99.18" r="1.1"/><circle cx="214.79" cy="97.40" r="1.1"/><circle cx="216.44" cy="96.06" r="1.1"/><circle cx="209.32" cy="101.95" r="1.1"/><circle cx="207.14" cy="100.90" r="1.1"/><circle cx="204.96" cy="99.91" r="1.1"/><circle cx="202.78" cy="99.40" r="1.1"/><circle cx="213.31" cy="102.23" r="1.1"/><circle cx="215.11" cy="101.34" r="1.1"/><circle cx="216.92" cy="100.79" r="1.1"/><circle cx="218.72" cy="99.80" r="1.1"/><circle cx="220.53" cy="99.15" r="1.1"/><circle cx="209.34" cy="106.06" r="1.1"/><circle cx="207.18" cy="105.20" r="1.1"/><circle cx="205.02" cy="104.14" r="1.1"/><circle cx="202.86" cy="102.75" r="1.1"/><circle cx="212.97" cy="105.64" r="1.1"/><circle cx="214.43" cy="104.64" r="1.1"/><circle cx="215.90" cy="103.41" r="1.1"/><circle cx="217.36" cy="101.95" r="1.1"/><circle cx="218.83" cy="100.71" r="1.1"/><circle cx="210.04" cy="108.73" r="1.1"/><circle cx="208.58" cy="107.22" r="1.1"/><circle cx="207.13" cy="106.16" r="1.1"/><circle cx="205.67" cy="104.65" r="1.1"/><circle cx="213.41" cy="108.10" r="1.1"/><circle cx="215.32" cy="106.54" r="1.1"/><circle cx="209.90" cy="112.60" r="1.1"/><circle cx="208.30" cy="111.16" r="1.1"/><circle cx="206.70" cy="109.58" r="1.1"/><circle cx="205.10" cy="108.30" r="1.1"/><circle cx="213.18" cy="112.52" r="1.1"/><circle cx="214.87" cy="111.23" r="1.1"/><circle cx="216.55" cy="109.57" r="1.1"/><circle cx="209.78" cy="116.41" r="1.1"/><circle cx="208.07" cy="115.05" r="1.1"/><circle cx="206.35" cy="113.17" r="1.1"/><circle cx="212.99" cy="116.73" r="1.1"/><circle cx="214.48" cy="115.54" r="1.1"/><circle cx="215.97" cy="114.60" r="1.1"/><circle cx="217.46" cy="112.92" r="1.1"/><circle cx="209.72" cy="119.80" r="1.1"/><circle cx="207.94" cy="118.56" r="1.1"/><circle cx="206.16" cy="117.86" r="1.1"/><circle cx="204.39" cy="116.73" r="1.1"/><circle cx="202.61" cy="115.89" r="1.1"/><circle cx="213.77" cy="119.49" r="1.1"/><circle cx="216.05" cy="119.01" r="1.1"/><circle cx="218.32" cy="118.16" r="1.1"/><circle cx="220.59" cy="117.07" r="1.1"/><circle cx="209.32" cy="122.98" r="1.1"/><circle cx="207.14" cy="122.11" r="1.1"/><circle cx="204.96" cy="121.60" r="1.1"/><circle cx="202.78" cy="121.13" r="1.1"/><circle cx="200.60" cy="120.16" r="1.1"/><circle cx="213.36" cy="123.09" r="1.1"/><circle cx="215.22" cy="121.91" r="1.1"/><circle cx="217.09" cy="121.15" r="1.1"/><circle cx="218.95" cy="120.87" r="1.1"/><circle cx="220.81" cy="119.97" r="1.1"/><circle cx="222.67" cy="119.25" r="1.1"/><circle cx="209.66" cy="124.06" r="1.1"/><circle cx="207.83" cy="122.62" r="1.1"/><circle cx="205.99" cy="121.49" r="1.1"/><circle cx="204.16" cy="120.86" r="1.1"/><circle cx="202.32" cy="119.65" r="1.1"/><circle cx="213.52" cy="123.98" r="1.1"/><circle cx="215.54" cy="123.37" r="1.1"/><circle cx="217.57" cy="122.08" r="1.1"/><circle cx="219.59" cy="121.26" r="1.1"/><circle cx="209.48" cy="125.74" r="1.1"/><circle cx="207.47" cy="125.12" r="1.1"/><circle cx="205.45" cy="124.86" r="1.1"/><circle cx="203.44" cy="123.92" r="1.1"/><circle cx="201.42" cy="123.65" r="1.1"/><circle cx="199.41" cy="123.20" r="1.1"/><circle cx="213.67" cy="125.93" r="1.1"/><circle cx="215.83" cy="125.66" r="1.1"/><circle cx="218.00" cy="125.00" r="1.1"/><circle cx="220.17" cy="124.38" r="1.1"/><circle cx="222.33" cy="124.06" r="1.1"/><circle cx="224.50" cy="123.55" r="1.1"/><circle cx="209.82" cy="126.74" r="1.1"/><circle cx="208.14" cy="125.75" r="1.1"/><circle cx="206.46" cy="124.56" r="1.1"/><circle cx="204.78" cy="123.58" r="1.1"/><circle cx="213.27" cy="126.50" r="1.1"/><circle cx="215.03" cy="125.04" r="1.1"/><circle cx="216.80" cy="123.54" r="1.1"/><circle cx="218.57" cy="122.43" r="1.1"/><circle cx="209.62" cy="128.36" r="1.1"/><circle cx="207.75" cy="127.49" r="1.1"/><circle cx="205.87" cy="126.14" r="1.1"/><circle cx="204.00" cy="125.44" r="1.1"/><circle cx="202.12" cy="124.39" r="1.1"/><circle cx="213.48" cy="128.52" r="1.1"/><circle cx="215.46" cy="127.56" r="1.1"/><circle cx="217.44" cy="126.59" r="1.1"/><circle cx="219.42" cy="125.96" r="1.1"/><circle cx="221.40" cy="125.18" r="1.1"/><circle cx="209.77" cy="129.12" r="1.1"/><circle cx="208.04" cy="128.15" r="1.1"/><circle cx="206.31" cy="126.62" r="1.1"/><circle cx="204.58" cy="124.41" r="1.1"/><circle cx="213.57" cy="129.95" r="1.1"/><circle cx="215.65" cy="129.38" r="1.1"/><circle cx="217.72" cy="128.45" r="1.1"/><circle cx="219.79" cy="127.74" r="1.1"/><circle cx="209.25" cy="131.56" r="1.1"/><circle cx="207.00" cy="131.49" r="1.1"/><circle cx="204.75" cy="131.03" r="1.1"/><circle cx="202.50" cy="130.69" r="1.1"/><circle cx="200.25" cy="130.16" r="1.1"/><circle cx="198.00" cy="130.03" r="1.1"/><circle cx="195.75" cy="129.96" r="1.1"/><circle cx="213.48" cy="131.49" r="1.1"/><circle cx="215.46" cy="131.04" r="1.1"/><circle cx="217.43" cy="130.58" r="1.1"/><circle cx="219.41" cy="129.91" r="1.1"/><circle cx="221.39" cy="129.58" r="1.1"/><circle cx="223.37" cy="129.11" r="1.1"/><circle cx="225.35" cy="128.48" r="1.1"/><circle cx="209.39" cy="132.26" r="1.1"/><circle cx="207.28" cy="131.17" r="1.1"/><circle cx="205.18" cy="130.06" r="1.1"/><circle cx="203.07" cy="128.92" r="1.1"/><circle cx="213.56" cy="132.37" r="1.1"/><circle cx="215.62" cy="131.51" r="1.1"/><circle cx="217.69" cy="130.62" r="1.1"/><circle cx="219.75" cy="129.28" r="1.1"/><circle cx="209.29" cy="134.10" r="1.1"/><circle cx="207.08" cy="133.05" r="1.1"/><circle cx="204.87" cy="132.46" r="1.1"/><circle cx="202.66" cy="131.46" r="1.1"/><circle cx="200.45" cy="130.91" r="1.1"/><circle cx="213.48" cy="133.79" r="1.1"/><circle cx="215.45" cy="133.19" r="1.1"/><circle cx="217.43" cy="132.34" r="1.1"/><circle cx="219.40" cy="131.50" r="1.1"/><circle cx="221.38" cy="130.56" r="1.1"/><circle cx="209.43" cy="136.64" r="1.1"/><circle cx="207.36" cy="136.43" r="1.1"/><circle cx="205.29" cy="135.77" r="1.1"/><circle cx="203.22" cy="135.43" r="1.1"/><circle cx="201.15" cy="134.96" r="1.1"/><circle cx="199.08" cy="134.51" r="1.1"/><circle cx="197.01" cy="134.19" r="1.1"/><circle cx="213.46" cy="136.51" r="1.1"/><circle cx="215.42" cy="136.55" r="1.1"/><circle cx="217.38" cy="136.03" r="1.1"/><circle cx="219.34" cy="135.29" r="1.1"/><circle cx="221.29" cy="135.15" r="1.1"/><circle cx="223.25" cy="134.62" r="1.1"/><circle cx="225.21" cy="134.07" r="1.1"/><circle cx="209.53" cy="138.03" r="1.1"/><circle cx="207.57" cy="136.88" r="1.1"/><circle cx="205.60" cy="135.30" r="1.1"/><circle cx="203.63" cy="133.90" r="1.1"/><circle cx="213.31" cy="137.91" r="1.1"/><circle cx="215.12" cy="136.43" r="1.1"/><circle cx="216.93" cy="134.77" r="1.1"/><circle cx="218.74" cy="133.22" r="1.1"/><circle cx="209.33" cy="140.39" r="1.1"/><circle cx="207.16" cy="139.46" r="1.1"/><circle cx="204.98" cy="138.42" r="1.1"/><circle cx="202.81" cy="137.09" r="1.1"/><circle cx="200.64" cy="136.65" r="1.1"/><circle cx="213.45" cy="140.05" r="1.1"/><circle cx="215.40" cy="139.35" r="1.1"/><circle cx="217.35" cy="138.48" r="1.1"/><circle cx="219.30" cy="137.57" r="1.1"/><circle cx="221.25" cy="136.32" r="1.1"/><circle cx="209.48" cy="142.86" r="1.1"/><circle cx="207.47" cy="142.06" r="1.1"/><circle cx="205.45" cy="141.95" r="1.1"/><circle cx="203.43" cy="141.18" r="1.1"/><circle cx="201.42" cy="140.70" r="1.1"/><circle cx="199.40" cy="139.92" r="1.1"/><circle cx="213.52" cy="142.75" r="1.1"/><circle cx="215.54" cy="142.52" r="1.1"/><circle cx="217.57" cy="141.51" r="1.1"/><circle cx="219.59" cy="141.25" r="1.1"/><circle cx="221.61" cy="140.66" r="1.1"/><circle cx="223.63" cy="140.12" r="1.1"/><circle cx="209.43" cy="145.44" r="1.1"/><circle cx="207.36" cy="145.24" r="1.1"/><circle cx="205.28" cy="144.85" r="1.1"/><circle cx="203.21" cy="144.60" r="1.1"/><circle cx="201.14" cy="144.34" r="1.1"/><circle cx="199.07" cy="144.41" r="1.1"/><circle cx="197.00" cy="143.96" r="1.1"/><circle cx="194.93" cy="143.68" r="1.1"/><circle cx="213.60" cy="145.06" r="1.1"/><circle cx="215.71" cy="144.65" r="1.1"/><circle cx="217.81" cy="144.62" r="1.1"/><circle cx="219.92" cy="144.36" r="1.1"/><circle cx="222.02" cy="143.98" r="1.1"/><circle cx="224.13" cy="143.80" r="1.1"/><circle cx="226.23" cy="143.57" r="1.1"/><circle cx="228.34" cy="143.04" r="1.1"/><circle cx="209.66" cy="145.45" r="1.1"/><circle cx="207.82" cy="143.61" r="1.1"/><circle cx="205.98" cy="142.51" r="1.1"/><circle cx="204.14" cy="141.13" r="1.1"/><circle cx="213.15" cy="145.07" r="1.1"/><circle cx="214.80" cy="143.26" r="1.1"/><circle cx="216.45" cy="142.13" r="1.1"/><circle cx="218.10" cy="140.48" r="1.1"/><circle cx="209.33" cy="147.05" r="1.1"/><circle cx="207.17" cy="146.38" r="1.1"/><circle cx="205.00" cy="145.59" r="1.1"/><circle cx="202.83" cy="144.92" r="1.1"/><circle cx="200.67" cy="144.20" r="1.1"/><circle cx="213.36" cy="147.09" r="1.1"/><circle cx="215.21" cy="146.04" r="1.1"/><circle cx="217.07" cy="145.09" r="1.1"/><circle cx="218.92" cy="144.05" r="1.1"/><circle cx="220.78" cy="143.20" r="1.1"/><circle cx="209.27" cy="150.16" r="1.1"/><circle cx="207.05" cy="150.61" r="1.1"/><circle cx="204.82" cy="151.17" r="1.1"/><circle cx="202.59" cy="151.63" r="1.1"/><circle cx="200.36" cy="151.72" r="1.1"/><circle cx="198.14" cy="152.23" r="1.1"/><circle cx="213.52" cy="150.44" r="1.1"/><circle cx="215.53" cy="150.74" r="1.1"/><circle cx="217.55" cy="150.88" r="1.1"/><circle cx="219.56" cy="151.40" r="1.1"/><circle cx="221.58" cy="152.09" r="1.1"/><circle cx="223.59" cy="152.43" r="1.1"/><circle cx="225.61" cy="153.16" r="1.1"/><circle cx="209.37" cy="152.28" r="1.1"/><circle cx="207.24" cy="152.69" r="1.1"/><circle cx="205.11" cy="152.65" r="1.1"/><circle cx="202.98" cy="152.89" r="1.1"/><circle cx="200.85" cy="153.41" r="1.1"/><circle cx="198.72" cy="153.91" r="1.1"/><circle cx="196.59" cy="153.99" r="1.1"/><circle cx="194.46" cy="154.16" r="1.1"/><circle cx="192.33" cy="154.55" r="1.1"/><circle cx="213.62" cy="152.34" r="1.1"/><circle cx="215.73" cy="152.56" r="1.1"/><circle cx="217.85" cy="152.73" r="1.1"/><circle cx="219.97" cy="152.81" r="1.1"/><circle cx="222.08" cy="153.05" r="1.1"/><circle cx="224.20" cy="153.38" r="1.1"/><circle cx="226.32" cy="153.68" r="1.1"/><circle cx="228.43" cy="153.75" r="1.1"/><circle cx="209.63" cy="154.57" r="1.1"/><circle cx="207.77" cy="155.42" r="1.1"/><circle cx="205.90" cy="156.32" r="1.1"/><circle cx="204.03" cy="156.64" r="1.1"/><circle cx="202.17" cy="157.28" r="1.1"/><circle cx="200.30" cy="158.05" r="1.1"/><circle cx="213.65" cy="154.49" r="1.1"/><circle cx="215.79" cy="155.32" r="1.1"/><circle cx="217.94" cy="155.55" r="1.1"/><circle cx="220.09" cy="156.46" r="1.1"/><circle cx="222.23" cy="156.94" r="1.1"/><circle cx="209.40" cy="156.44" r="1.1"/><circle cx="207.30" cy="156.83" r="1.1"/><circle cx="205.20" cy="157.26" r="1.1"/><circle cx="203.10" cy="157.97" r="1.1"/><circle cx="201.00" cy="158.32" r="1.1"/><circle cx="198.90" cy="158.96" r="1.1"/><circle cx="213.66" cy="156.57" r="1.1"/><circle cx="215.83" cy="156.90" r="1.1"/><circle cx="217.99" cy="157.43" r="1.1"/><circle cx="220.16" cy="158.61" r="1.1"/><circle cx="222.32" cy="158.71" r="1.1"/><circle cx="224.49" cy="159.55" r="1.1"/><circle cx="209.88" cy="158.48" r="1.1"/><circle cx="208.25" cy="159.82" r="1.1"/><circle cx="206.63" cy="160.98" r="1.1"/><circle cx="205.01" cy="162.42" r="1.1"/><circle cx="203.39" cy="163.35" r="1.1"/><circle cx="213.68" cy="158.54" r="1.1"/><circle cx="215.87" cy="159.64" r="1.1"/><circle cx="218.05" cy="160.84" r="1.1"/><circle cx="220.23" cy="161.88" r="1.1"/><circle cx="209.34" cy="158.72" r="1.1"/><circle cx="207.19" cy="159.36" r="1.1"/><circle cx="205.03" cy="159.84" r="1.1"/><circle cx="202.87" cy="159.85" r="1.1"/><circle cx="200.72" cy="160.66" r="1.1"/><circle cx="198.56" cy="161.05" r="1.1"/><circle cx="213.50" cy="159.23" r="1.1"/><circle cx="215.50" cy="159.43" r="1.1"/><circle cx="217.50" cy="159.77" r="1.1"/><circle cx="219.51" cy="160.43" r="1.1"/><circle cx="221.51" cy="161.04" r="1.1"/><circle cx="223.51" cy="161.47" r="1.1"/><circle cx="209.58" cy="160.39" r="1.1"/><circle cx="207.67" cy="161.23" r="1.1"/><circle cx="205.75" cy="161.98" r="1.1"/><circle cx="203.83" cy="162.53" r="1.1"/><circle cx="201.91" cy="163.61" r="1.1"/><circle cx="213.40" cy="160.49" r="1.1"/><circle cx="215.29" cy="161.12" r="1.1"/><circle cx="217.19" cy="161.63" r="1.1"/><circle cx="219.09" cy="162.59" r="1.1"/><circle cx="220.99" cy="163.34" r="1.1"/><circle cx="209.24" cy="161.66" r="1.1"/><circle cx="206.98" cy="161.58" r="1.1"/><circle cx="204.71" cy="162.05" r="1.1"/><circle cx="202.45" cy="162.20" r="1.1"/><circle cx="200.19" cy="162.79" r="1.1"/><circle cx="197.93" cy="163.04" r="1.1"/><circle cx="195.67" cy="163.14" r="1.1"/><circle cx="213.63" cy="161.47" r="1.1"/><circle cx="215.76" cy="161.84" r="1.1"/><circle cx="217.89" cy="162.34" r="1.1"/><circle cx="220.03" cy="162.93" r="1.1"/><circle cx="222.16" cy="163.74" r="1.1"/><circle cx="224.29" cy="164.04" r="1.1"/><circle cx="226.42" cy="164.55" r="1.1"/><circle cx="209.60" cy="163.73" r="1.1"/><circle cx="207.70" cy="164.22" r="1.1"/><circle cx="205.81" cy="165.36" r="1.1"/><circle cx="203.91" cy="166.24" r="1.1"/><circle cx="202.01" cy="167.10" r="1.1"/><circle cx="213.23" cy="163.84" r="1.1"/><circle cx="214.96" cy="164.55" r="1.1"/><circle cx="216.70" cy="166.11" r="1.1"/><circle cx="218.43" cy="167.03" r="1.1"/><circle cx="220.16" cy="168.54" r="1.1"/><circle cx="209.38" cy="164.37" r="1.1"/><circle cx="207.25" cy="165.06" r="1.1"/><circle cx="205.13" cy="165.74" r="1.1"/><circle cx="203.01" cy="166.09" r="1.1"/><circle cx="200.88" cy="167.02" r="1.1"/><circle cx="198.76" cy="167.51" r="1.1"/><circle cx="213.43" cy="164.29" r="1.1"/><circle cx="215.36" cy="165.31" r="1.1"/><circle cx="217.28" cy="165.74" r="1.1"/><circle cx="219.21" cy="166.30" r="1.1"/><circle cx="221.14" cy="167.10" r="1.1"/><circle cx="223.07" cy="167.74" r="1.1"/><circle cx="209.47" cy="166.54" r="1.1"/><circle cx="207.45" cy="167.67" r="1.1"/><circle cx="205.42" cy="169.12" r="1.1"/><circle cx="203.39" cy="170.20" r="1.1"/><circle cx="213.40" cy="165.80" r="1.1"/><circle cx="215.31" cy="166.57" r="1.1"/><circle cx="217.21" cy="166.89" r="1.1"/><circle cx="219.12" cy="167.79" r="1.1"/><circle cx="221.02" cy="168.89" r="1.1"/><circle cx="209.49" cy="166.73" r="1.1"/><circle cx="207.47" cy="166.87" r="1.1"/><circle cx="205.46" cy="167.27" r="1.1"/><circle cx="203.45" cy="167.17" r="1.1"/><circle cx="201.44" cy="167.34" r="1.1"/><circle cx="199.42" cy="167.90" r="1.1"/><circle cx="197.41" cy="168.02" r="1.1"/><circle cx="195.40" cy="168.29" r="1.1"/><circle cx="213.73" cy="166.57" r="1.1"/><circle cx="215.96" cy="167.25" r="1.1"/><circle cx="218.19" cy="167.60" r="1.1"/><circle cx="220.42" cy="167.81" r="1.1"/><circle cx="222.66" cy="168.45" r="1.1"/><circle cx="224.89" cy="168.90" r="1.1"/><circle cx="227.12" cy="169.16" r="1.1"/><circle cx="209.50" cy="168.94" r="1.1"/><circle cx="207.51" cy="169.84" r="1.1"/><circle cx="205.51" cy="170.71" r="1.1"/><circle cx="203.51" cy="171.00" r="1.1"/><circle cx="201.52" cy="171.65" r="1.1"/><circle cx="213.64" cy="169.33" r="1.1"/><circle cx="215.79" cy="170.12" r="1.1"/><circle cx="217.93" cy="170.89" r="1.1"/><circle cx="220.07" cy="171.89" r="1.1"/><circle cx="209.35" cy="170.17" r="1.1"/><circle cx="207.20" cy="170.86" r="1.1"/><circle cx="205.06" cy="171.54" r="1.1"/><circle cx="202.91" cy="172.25" r="1.1"/><circle cx="200.76" cy="172.72" r="1.1"/><circle cx="198.61" cy="173.45" r="1.1"/><circle cx="213.46" cy="170.49" r="1.1"/><circle cx="215.43" cy="171.29" r="1.1"/><circle cx="217.39" cy="171.67" r="1.1"/><circle cx="219.36" cy="172.64" r="1.1"/><circle cx="221.32" cy="173.32" r="1.1"/><circle cx="223.29" cy="174.00" r="1.1"/><circle cx="209.92" cy="171.88" r="1.1"/><circle cx="208.34" cy="172.95" r="1.1"/><circle cx="206.76" cy="174.24" r="1.1"/><circle cx="205.18" cy="175.26" r="1.1"/><circle cx="203.60" cy="176.68" r="1.1"/><circle cx="213.46" cy="172.02" r="1.1"/><circle cx="215.41" cy="173.40" r="1.1"/><circle cx="217.37" cy="174.90" r="1.1"/><circle cx="219.32" cy="176.28" r="1.1"/><circle cx="209.57" cy="173.66" r="1.1"/><circle cx="207.65" cy="174.40" r="1.1"/><circle cx="205.72" cy="175.62" r="1.1"/><circle cx="203.79" cy="176.24" r="1.1"/><circle cx="201.87" cy="177.36" r="1.1"/><circle cx="213.60" cy="173.39" r="1.1"/><circle cx="215.70" cy="174.13" r="1.1"/><circle cx="217.80" cy="174.94" r="1.1"/><circle cx="219.90" cy="176.00" r="1.1"/><circle cx="222.00" cy="176.87" r="1.1"/><circle cx="209.80" cy="174.20" r="1.1"/><circle cx="208.10" cy="175.46" r="1.1"/><circle cx="206.41" cy="176.50" r="1.1"/><circle cx="204.71" cy="177.20" r="1.1"/><circle cx="213.33" cy="174.78" r="1.1"/><circle cx="215.16" cy="175.69" r="1.1"/><circle cx="216.99" cy="176.90" r="1.1"/><circle cx="218.82" cy="177.94" r="1.1"/><circle cx="209.61" cy="176.03" r="1.1"/><circle cx="207.72" cy="177.38" r="1.1"/><circle cx="205.83" cy="178.04" r="1.1"/><circle cx="203.94" cy="179.07" r="1.1"/><circle cx="202.05" cy="180.15" r="1.1"/><circle cx="213.54" cy="175.77" r="1.1"/><circle cx="215.58" cy="176.76" r="1.1"/><circle cx="217.62" cy="177.37" r="1.1"/><circle cx="219.65" cy="178.21" r="1.1"/><circle cx="221.69" cy="179.32" r="1.1"/><circle cx="209.68" cy="178.84" r="1.1"/><circle cx="207.86" cy="179.94" r="1.1"/><circle cx="206.04" cy="181.15" r="1.1"/><circle cx="204.23" cy="182.49" r="1.1"/><circle cx="213.38" cy="178.95" r="1.1"/><circle cx="215.26" cy="180.04" r="1.1"/><circle cx="217.14" cy="181.86" r="1.1"/><circle cx="219.02" cy="182.94" r="1.1"/><circle cx="209.64" cy="182.55" r="1.1"/><circle cx="207.78" cy="183.76" r="1.1"/><circle cx="205.92" cy="184.74" r="1.1"/><circle cx="204.06" cy="186.67" r="1.1"/><circle cx="213.51" cy="182.31" r="1.1"/><circle cx="215.51" cy="183.86" r="1.1"/><circle cx="217.52" cy="185.04" r="1.1"/><circle cx="209.59" cy="186.18" r="1.1"/><circle cx="207.68" cy="188.18" r="1.1"/><circle cx="213.11" cy="185.70" r="1.1"/><circle cx="214.71" cy="187.55" r="1.1"/><circle cx="216.32" cy="188.46" r="1.1"/><circle cx="209.62" cy="188.60" r="1.1"/><circle cx="207.74" cy="190.58" r="1.1"/><circle cx="213.08" cy="188.43" r="1.1"/><circle cx="214.67" cy="189.61" r="1.1"/><circle cx="216.25" cy="191.10" r="1.1"/><circle cx="211.50" cy="189.60" r="1.1"/><circle cx="213.85" cy="189.60" r="1.1"/><circle cx="209.15" cy="189.60" r="1.1"/><circle cx="216.20" cy="189.60" r="1.1"/><circle cx="206.80" cy="189.60" r="1.1"/><circle cx="218.55" cy="189.60" r="1.1"/><circle cx="204.45" cy="189.60" r="1.1"/><circle cx="220.90" cy="189.60" r="1.1"/><circle cx="202.10" cy="189.60" r="1.1"/><circle cx="223.25" cy="189.60" r="1.1"/><circle cx="199.75" cy="189.60" r="1.1"/><circle cx="225.60" cy="189.60" r="1.1"/><circle cx="197.40" cy="189.60" r="1.1"/><circle cx="227.95" cy="189.60" r="1.1"/><circle cx="195.05" cy="189.60" r="1.1"/><circle cx="230.30" cy="189.60" r="1.1"/><circle cx="192.70" cy="189.60" r="1.1"/><circle cx="232.65" cy="189.60" r="1.1"/><circle cx="211.20" cy="50.40" r="1.1"/><circle cx="212.90" cy="48.50" r="1.1"/></g>
<text x="254.50" y="21.00" font-size="15.2" text-anchor="start" font-weight="bold" fill="#000" >B</text>
<text x="323.20" y="20.50" font-size="13" text-anchor="start" font-weight="normal" fill="#000" textLength="129" lengthAdjust="spacingAndGlyphs">Average: 10.837 (HSA)</text>
<g><path fill="#fcf0f0" fill-rule="evenodd" d="M369.8 46.5L470 46.5L470 196L355.8 196L354.6 194.5L353.4 192L352.6 188.5L352.2 175.5L354.2 170L356 163L356.5 158.5L356.5 148L357 143L358.7 135L362.5 123L363.5 115.5L362.8 107.5L358.7 94L358.3 89L359.1 85.5L365.1 68.5Z"/><path fill="#fbe3e3" fill-rule="evenodd" d="M376.9 47L377.4 46.5L470 46.5L470 196L365.1 196L360.5 193.2L357.6 190L356.4 187.5L355.7 184.5L355.1 176L358.7 161L359.1 156L359.1 147L359.8 141.5L361.4 135L365 124L366.2 115L366.1 111.5L365.4 107.5L361.2 93.5L361 88L362.2 83L370.5 57.7L373.5 51.5Z"/><path fill="#fad7d7" fill-rule="evenodd" d="M384.1 47L385.1 46.5L409.3 46.5L418.5 49.7L422.5 50.4L426.5 49.5L433.8 46.5L470 46.5L470 196L376.6 196L370.5 194.2L366.5 192.3L363 190L360.5 187L359.3 184.5L358.5 181.5L358 178L358.1 174.5L361 160.5L362.3 142.5L363.6 137L367.5 125L368.9 114.5L368.3 108.5L363.6 93L363.2 89.5L363.5 86L364.7 81.5L370 65.9L373 58.8L375.4 55L378 51.8L381 49.1ZM422.5 108.8L421.8 109.5L422 110.7L423 111.3L424 111L424.4 110.5L424.5 109.5L423.5 108.7Z"/><path fill="#f9cbcb" fill-rule="evenodd" d="M439.5 47L441.4 46.5L470 46.5L470 195.3L466.1 196L446 195.7L430 196L423 195.4L418.6 196L401.4 196L399 195.7L396.8 196L383.2 196L371.5 191.5L366.5 188.6L363.5 185.4L361.5 181L360.7 175.5L361.1 171.5L363.2 160.5L364.8 143L366 138L369.8 127L371.6 114.5L371.1 109L365.9 93L365.4 89.5L365.5 86.5L367.1 80L373 64.3L376.1 59L380 54.5L385 50.9L390 48.8L396 48.1L403.5 48.8L409 50.5L418.5 54.5L422 55.1L425 54.2L434 49.2ZM423 106L421.5 106.7L420.4 108L419.8 109.5L419.9 111L420.7 112.5L422 113.6L423.5 114.2L425 114.1L426.5 113.3L427.4 112L427.8 110.5L427.6 109L426.9 107.5L425.8 106.5L424.5 105.9Z"/><path fill="#f8bfc0" fill-rule="evenodd" d="M447 47L448.5 46.5L470 46.5L470 193.8L461.5 195.2L457 195.5L446 194.6L435.5 194.8L423.5 193.8L410.5 195.3L399 194.5L390 195L383 193.8L374 190.1L369 187L366 183.8L364 179.5L363.3 174.5L367.2 143.5L368.4 139L372.2 128.5L373.6 120.5L374.3 112L374.1 109.5L370.1 99.5L368.2 93.5L367.5 90L367.5 86.5L369.2 79.5L374.7 66L379 59.7L384.5 54.9L390.5 52.1L393.5 51.5L397 51.3L401 51.7L404.5 52.5L411.8 56L415.3 58.5L417.9 61L420.8 66.5L422 67.3L423 67.3L424.1 66L424.4 62.5L425.2 60L427.1 57.5L429.6 55L433.5 52.1L437.5 49.9ZM423 102.8L421 104L419 106.3L418 109L418 111.5L419 114L421 116.3L423.5 117.8L425.5 117.8L427.5 116.9L429.5 114.8L430.5 112.3L430.6 109.5L429.4 106.5L427.5 104.1L425 102.8Z"/><path fill="#f7b5b6" fill-rule="evenodd" d="M452.1 47L453.8 46.5L470 46.5L470 192.2L461 193.7L456 194.1L437 193.5L424 192.3L409.5 193.8L399 193.4L391.5 193.5L384.5 192.4L376.5 189.1L371.6 186L368.5 182.8L366.4 178.5L365.7 174L366 170L369.6 144L371.2 138.5L374.4 131L376.1 120L376.7 112L376.4 109L372.3 99.5L370.1 93L369.4 89.5L369.4 86.5L371.2 79.5L376.5 67.5L380.5 62L386 57.5L392 55L398 54.3L403 55.3L408.5 57.8L413 61.4L419 68.3L421 69.3L423 69.4L424.5 68.6L425.5 67.6L429.2 59.5L431.1 57L433.9 54.5L437 52.4L440.5 50.7ZM422.5 87.3L421.6 88.5L422 89.6L423 90L423.7 89.5L424 88.5L423.5 87.6ZM423 98.4L420.5 100.6L417.5 105L416.3 108.5L416.1 111.5L417 115.1L419.5 119.2L422.5 122.4L424 123.2L425 123.3L428 121.6L431.5 117.5L433.1 114L433.4 110.5L432.1 106.5L429.5 102.5L425.5 98.8L424 98.2Z"/><path fill="#f5aaac" fill-rule="evenodd" d="M460.4 47L470 46.7L470 190.6L460.5 192.3L455 192.8L438.5 192.2L424 190.7L408.5 192.5L393.5 192.3L389.5 191.9L385.5 191L381.5 189.5L377.5 187.4L373.3 184.5L370.2 181L368.5 177L368 172.5L369.5 159L371.7 145.5L373.4 139L376.7 131.5L378.8 115.5L378.4 109L372.2 93L371.3 89.5L371.3 86.5L371.9 83.5L373.2 79.5L378.5 68.8L382.5 63.7L387.4 60L393 57.8L398.5 57.3L402.5 58.1L406.5 60L410.6 63L418 70.7L420.5 72L423 72L425 70.9L426.8 69L430.3 62L432.2 59L434.6 56.5L437.5 54.3L441.5 52.1L446 50.5L454 48.1ZM421.5 85.4L420.5 86.4L419.8 88L419.8 94L419.4 96.5L415.1 106L414.3 109L414.2 111.5L415.1 116.5L419.4 125.5L421.1 131L422 132.3L423 132.6L424.8 132L426.3 130.5L433 120.7L435.4 116L436.1 112L435.6 109L434.4 106L427.3 95L425.5 87L424.5 85.7L423.5 85.2Z"/><path fill="#f4a0a2" fill-rule="evenodd" d="M461.6 48.5L470 48.1L470 189.1L460 191L454 191.6L439.5 191L424 189L408 191.2L396 191.1L391.5 190.8L387.5 190L383.5 188.6L379.4 186.5L375.2 183.5L372.2 180L370.7 176.5L370.1 172L371.1 160.5L373.6 147L375.4 140L378.8 131L380.9 118L381 113L380.3 108.5L374.2 93L373.1 88.5L373.3 85.5L374.5 81.5L379 72.4L383 66.8L387.5 63.1L390.5 61.6L393.5 60.6L399 60.2L403 61.1L407 63.3L410.2 66L418 74.1L421 76.2L422.5 76.5L424.5 75.1L427 72.1L433.5 60.4L435.6 58L438.5 55.6L443 53.1L448.5 51.2L455.5 49.4ZM422 81.2L420 83.2L418.5 86.5L417.2 95.5L413 107L412.3 113L412.6 116L413.6 119.5L418.6 131L421 133.8L424 134.6L426 134L427.5 133.1L431 129L437.4 118.5L438.5 115.5L438.9 112.5L438.5 110L437.3 107L429.8 95L426.5 84.8L424 81.7L423 81.2Z"/><path fill="#f39799" fill-rule="evenodd" d="M469.8 49.5L470 187.5L460 189.7L453.5 190.4L440.5 189.9L424 187.3L420 187.6L408.5 189.8L398.5 190.1L393 189.7L388.5 188.8L384 187.1L380 184.9L376.4 182L373.8 178.5L372.4 174.5L372.1 170L372.9 160.5L374.7 153L375.6 147.5L377.6 140L381.4 129L383.2 118.5L383.3 113L382.4 108.5L375.9 92L374.8 88L375.4 85L376.8 81L381 73.2L384.8 68.5L389 65.3L394 63.2L398.5 62.7L402.5 63.6L406.5 65.9L411 70L415.6 75.5L417.3 78.5L417.6 82L415.3 95.5L410.7 109L410.2 113L410.5 117L412.7 124L417.6 133L419.5 134.9L421.5 136.1L423.5 136.6L426 136.4L429.5 134.5L432.5 131L440.2 119L441.3 116.5L441.8 114L441.7 111.5L440.6 108.5L433.5 98L431.3 94L427.2 80.5L427.1 78L427.5 76L432.4 65.5L434.8 61.5L437.5 58.5L440.8 56L444.5 54.1L450.5 52.1L456.5 50.7Z"/><path fill="#f28e90" fill-rule="evenodd" d="M467.7 51L470 50.8L470 185.9L460 188.4L453 189.3L446.5 189.2L440.5 188.7L427.5 185.8L424 185.5L420 185.9L408.4 188.5L399.5 189L394.5 188.7L390 187.8L386 186.4L382 184.3L378.5 181.5L375.8 178L374.4 174L374 169L374.7 160.5L377.5 148L379.6 140.5L383.9 128L385.7 119L385.7 113.5L384.9 109L378.3 92.5L377 88.5L377.1 86.5L378.2 83L381.6 76L385 71.6L389 68.2L393.5 66.1L398 65.2L401.5 65.9L405.5 68.1L409 71L412.5 75L414 77.5L415 80L415.3 82.5L415.1 86L413.7 95L409.8 105.5L408.6 110L408 115L408.4 119.5L409.5 123L411.2 126.5L414.5 132L416.9 135L419 136.9L421.5 138.4L424 139L426.5 138.8L430 137L433.5 133.4L443.5 119L444.7 116.5L445.1 114.5L445.1 112L444.1 109.5L434.4 96.5L432.3 92.5L430.9 88L429.6 82L429.4 78L430.4 74L433.1 67.5L435.3 63.5L437.7 60.5L441 57.6L444.5 55.7L449.5 53.8L455.5 52.3Z"/><path fill="#f28789" fill-rule="evenodd" d="M464.7 52.5L470 52.2L470 184.2L458.5 187.4L449 188.2L439.5 187.3L427 183.8L424 183.4L420.5 183.8L407.5 187.4L402.5 187.9L397.5 187.8L390.5 186.6L384 183.7L380.4 181L377.7 177.5L376.3 173.5L375.8 168L376.4 160.5L379.2 148.5L381.3 141.5L387.1 126L388.6 119L388.6 114.5L387.6 109L381.5 95L379.5 89L379.5 86.5L380 84L383 77.5L386 73.7L389.8 70.5L393.5 68.8L398 67.9L401 68.4L405 70.5L408.1 73L411 76.5L412.4 79L413.3 82L413.5 85.5L413.2 89.5L411.9 95.5L408 105L406.6 109.5L405.5 116L405.8 120.5L407 124L409.3 128L413.2 133.5L416.5 137.2L419.5 139.7L422 141.1L424.5 141.7L427 141.3L430.5 139.5L434 136.3L441 126.4L447.7 119L448.9 117L449.4 115L449.1 112.5L447.6 109.5L437.1 98L434.8 94.5L433.1 90.5L431.6 84.5L431.2 79.5L431.9 75L433.8 69.5L435.8 65.5L437.8 62.5L440.5 59.8L443.5 57.7L447.5 55.9L453 54.2L458.5 53.1Z"/><path fill="#f17f82" fill-rule="evenodd" d="M470 53.5L470 108.5L468.1 109L461.5 112.3L459.5 112.7L457.5 112.6L454 110.9L445 103.9L440.5 99.8L437 95.5L434.8 91.5L433.3 86.5L432.8 81L433.2 76.5L435 70.5L437.4 65.5L440.1 62L443.5 59.3L448 57.1L454.5 55.3L461.5 54.1ZM394.5 71L397 70.6L399.5 70.7L404 72.5L408.5 76.5L411.1 81L411.9 86L411.2 92.5L409.9 96.5L404.8 107.5L402.2 116L401.9 119.5L403.3 123.5L407.1 129L413.5 136.7L419.5 142.4L422.5 144.4L424.5 144.9L427 144.5L429.5 143.3L432.5 141L435.5 138L441.3 129.5L443.5 127L447.5 124L452.5 121.6L456 120.8L458.5 121.3L461.5 123.4L464.2 126.5L467.6 132.5L470 135.2L470 182.5L463.5 184.7L457.5 186.3L452.5 187L447 187.1L438.5 185.9L426 181.2L423 180.8L409 185.7L404 186.6L398.5 186.8L393 186L388 184.3L383.5 181.5L380.1 178L378.4 174.5L377.7 170.5L377.5 165L378.2 159.5L382.5 144L391.3 123.5L392.3 120.5L392.5 118L392 114L390.3 108L385 97.9L382.7 92.5L381.8 89L381.8 86L383.4 81L386.3 76.5L390.2 73Z"/><path fill="#f07a7c" fill-rule="evenodd" d="M466.1 55L470 54.8L470 105.9L461.5 107.7L457 107.6L452.5 106.2L447 103.1L442 99.3L438.5 95.5L436.4 92L434.8 87.5L434.2 82.5L434.6 77.5L436 72L437.9 67.5L440.1 64L443.3 61L447 59L452.5 57.1L459 55.8ZM394.5 73.5L397 73L399.5 73.2L402 74L404.5 75.4L406.8 77.5L408.6 80L409.7 82.5L410.3 85.5L410.1 90.5L408.6 95.5L402.7 105.5L400.9 110.5L400 111.6L398.5 112.3L397 112L396 111.1L393.4 106.5L387.7 98.5L385.3 93.5L384 88.5L384.4 84L386.6 79.5L390 75.9ZM396.2 125.5L397.5 125.2L399 125.5L403 128.3L418.7 145L423.5 151.2L424.5 150.8L429 147.2L435.5 141.3L439.1 137L443.1 130.5L445.5 128.3L449 126.8L452.5 126.5L456 127.3L458.9 129L470 140.9L470 180.6L463 183.4L456.5 185.2L450.5 186L445 185.9L439.5 184.8L434 182.8L428.1 179.5L423 175.5L419.5 179L415 181.9L410 184.1L404.5 185.4L399 185.7L394 185.1L389.5 183.5L385.5 181.2L382 177.7L380 173.5L379.1 167L379.7 160L382.3 150L385.5 141.5L392.5 129.1L394.5 126.7Z"/><path fill="#f07375" fill-rule="evenodd" d="M463.7 56.5L470 56.1L470 103.4L461.5 104.8L456.5 104.8L452 103.6L447 101.2L442.5 97.9L439.5 94.8L437.4 91.5L436.1 87.5L435.6 83L435.9 78.5L437.2 73L438.9 68.5L441 65L443.5 62.4L446.5 60.6L451 59L457.1 57.5ZM396.2 75.5L400.5 75.8L404.5 78L407.5 81.7L408.4 84L408.9 86.5L408.4 91.5L406.2 96.5L404 99.4L401.5 101.9L399.5 103.2L398 103.5L396 103.1L394 102L390.1 98L387.2 93L386.1 88L386.6 84L388.8 80L392.2 77ZM396.9 130.5L399 130L401 130.7L409 137.5L413.4 142L416.6 146L418.4 149L420.9 154.5L422 155.4L423.5 155.9L425.3 155.5L427 154.2L431.8 148.5L439.4 140.5L442.5 136.5L445.5 130.9L447.5 130.2L450.5 130.3L453 131L456 132.6L461.5 137.1L470 146.1L470 178.6L463.5 181.6L456.5 183.9L450.5 184.9L445 184.8L440 183.7L435 181.6L430.3 178.5L425.5 174L423 173.1L420.9 174L417.2 178L414 180.5L410 182.6L405.5 184L400.5 184.7L396 184.3L392 183.2L388 181.2L384 177.6L381.8 173.5L380.7 167L381.2 160.5L383.4 152L387 142.9L392 135.4L395 132Z"/><path fill="#ef6b6d" fill-rule="evenodd" d="M467.6 57.5L470 57.5L470 101L462.5 102.3L458.5 102.5L454 102L449.5 100.6L445 98.2L441.7 95.5L439.3 92.5L437.7 89L436.9 85L437 80.5L438.1 75L439.8 70L441.2 67L443 64.6L447 61.8L456.5 59ZM395.3 78L399.5 77.8L403 79.3L405.7 82L407.3 86L407.1 90.5L405.5 94.5L402.5 97.9L399 99.7L397.5 99.8L395.5 99.3L392.5 97.3L389.9 94L388.3 89.5L388.2 86L389.6 82.5L392 79.8ZM397.6 135L399.5 134.6L402 135.4L406 137.9L409.5 140.8L412.5 143.9L414.8 147L419.5 156.2L421.5 158.2L424 159.2L426 158.8L428.4 157L435.4 148L447.5 136.1L449 135.4L450.5 135.5L455.5 137.4L461.5 142L470 151.1L470 176.2L463.1 180L456.7 182.5L450.5 183.8L445 183.7L440.5 182.6L436 180.5L432.1 177.5L426.5 171.2L425 170.3L423.5 170.1L421.5 170.7L420 171.8L415.4 177L413 179.1L410 181L406.6 182.5L402.5 183.4L398 183.5L394 182.7L390.5 181.2L386.4 178L383.8 174L382.4 168L382.6 161L384.7 153L388.3 144.5L392.5 138.8L395 136.6Z"/><path fill="#ee6264" fill-rule="evenodd" d="M465.1 59L470 58.8L470 98.6L462.5 100L458 100.4L453 99.9L448.5 98.5L445 96.6L441.8 94L439.7 91L438.6 88L438.1 84.5L438.5 80L439.8 74.5L441.5 69.6L443.8 65.5L447 63.2L454.5 60.9ZM396.3 80L399.5 79.9L402.5 81.2L404.7 83.5L405.8 86.5L405.7 90L404.5 93L402 95.7L399 97L396 96.7L393.5 95.2L391.4 92.5L390.2 89L390.4 86L391.5 83.4L393.5 81.3ZM398.7 138.5L401.5 138.6L404.5 139.8L408 142.1L411 145.1L414.3 150L417 156.2L420.2 162L420.8 164.5L420.3 166.5L419.1 168.5L415.1 174.5L412.4 177.5L409.8 179.5L407 181L404 182L400.5 182.5L397 182.3L394 181.5L391 180L388 177.5L386.4 175.5L385.2 173L384.3 170L383.9 166L384.1 161.5L385.1 157L386.9 151.5L388.9 147L391 143.8L393.5 141.2L396 139.5ZM448.1 141L450 140.6L452.5 140.8L457 142.8L461 146.1L467.9 153.5L470 157.1L470 171.3L469 173.5L467.6 175L461.3 179L454 181.9L447.5 182.8L444 182.4L441 181.6L437.8 180L435.1 178L432.8 175.5L430.5 172L428.4 167.5L427.9 165L429.1 161.5L437 149.5L442.5 144.3L445.5 142.2Z"/><path fill="#ed5759" fill-rule="evenodd" d="M464.1 60.5L470 60.1L470 96.3L462 97.9L457 98.4L451.5 97.8L447 96.3L444 94.4L441.6 92L440.2 89.5L439.4 86.5L439.4 83L440.1 79L441.7 73.5L443.8 68L445.5 65.5L447.5 64.5L454.4 62.5ZM396.8 82L399 81.8L401.5 82.7L403.4 84.5L404.3 86.5L404.4 89L403.5 91.5L401.8 93.5L399.5 94.6L397 94.6L395 93.6L393.4 92L392.3 89.5L392.2 87L393 84.9L394.7 83ZM398.2 141.5L401 141.3L404 142.1L407 143.9L409.7 146.5L411.5 149L413.3 152.5L416.2 160L416.9 163.5L416.7 166.5L415.6 169.5L413.8 173L411.5 176L409.3 178L406.5 179.8L403.5 181L400.5 181.4L397.5 181.3L395 180.6L392.5 179.4L390 177.5L388.3 175.5L386.9 173L386 170L385.5 166.5L385.6 162.5L386.3 158.5L387.8 153.5L389.5 149.5L391.3 146.5L393.5 144.1L396 142.3ZM448.1 144.5L451.5 144.4L455 145.6L458 147.6L463 152.2L465.3 155L466.9 158L467.9 161L468.1 164.5L467.7 168L466.8 171L465.2 173.5L463.2 175.5L459.5 178L455 180.2L451 181.4L447 181.7L444 181.3L441.5 180.5L438.8 179L436.4 177L434.4 174.5L433.1 172L432.1 169L431.8 166L432.2 163L433.4 160L438.2 151.5L440.4 149L443 146.8L445.5 145.4Z"/><path fill="#ec4d4f" fill-rule="evenodd" d="M467.6 61.5L470 61.5L470 94.1L460.5 96L454.5 96.5L449 95.6L444.5 93.4L442.5 91.5L441.3 89.5L440.6 87L440.5 84.5L441.1 81L442.5 76L446.3 66.5L459.3 63ZM397.1 84L399 83.8L400.5 84.2L401.7 85L402.7 86.5L403 88L402.6 90L401.5 91.5L400 92.4L398 92.6L396.5 92.1L395.2 91L394.4 89.5L394.2 87.5L394.7 86L395.5 85ZM398 144L400.5 143.7L403.5 144.3L406 145.7L408.5 148L410.2 150.5L411.8 154L413.5 159L414.2 163L414 166L413.2 169.5L411.8 172.5L410.1 175L408 177.2L405.5 178.9L403 179.9L400.5 180.4L398 180.3L395.5 179.6L393 178.3L391 176.5L388.5 172.5L387.2 166.5L387.8 159L390.3 151.5L393.5 146.7L395.5 145.1ZM447.3 147.5L450 147.4L453 148.1L456 149.9L459.5 152.9L461.9 155.5L463.5 158L464.6 161L465 164L464.7 167L463.9 170L462.5 172.5L460.3 175L457 177.5L454 179.1L450.5 180.3L447.5 180.6L445 180.4L442.5 179.7L438.6 177L436.9 175L435.6 172.5L434.8 170L434.6 167.5L434.9 164.5L435.7 161.5L439.4 153.5L443 149.5L445 148.3Z"/><path fill="#eb4547" fill-rule="evenodd" d="M466.8 63L470 62.9L470 91.8L459.5 94.1L454 94.7L448.5 94L444.5 92L442.2 89L441.7 87L441.8 84.5L444 76.7L447.5 69.2L448.8 68L451.2 67ZM397.4 86L399.5 85.7L401 86.7L401.5 88.5L400.5 90.2L398.5 90.7L397.5 90.4L396.6 89.5L396.2 87.5ZM398.9 146L401 145.9L403.5 146.6L405.7 148L407.6 150L409.1 152.5L410.2 155.5L411.7 163L411 169L408.7 174L407 176L404.5 177.9L402.5 178.9L400 179.3L398 179.2L395.8 178.5L394 177.4L392 175.5L389.9 171.5L389 166L389.6 159L391.8 152L393.4 149.5L395 147.9L397 146.6ZM447.3 150L449.5 150.1L452.1 151L455 152.9L457.8 155.5L459.5 157.5L460.9 160L461.6 162.5L461.8 165L461.5 167.5L460.4 170.5L457.1 175L454.6 177L452 178.4L449.5 179.3L447 179.5L443.5 178.8L440.1 176.5L437.9 173L437 168.5L438.1 162.5L441.5 154.5L444 151.3Z"/><path fill="#ea3c3e" fill-rule="evenodd" d="M467 64.5L470 64.3L470 89.4L458 92.2L453 92.9L448.5 92.6L444.9 91L443.6 89.5L443 88L443 84.5L446 76.7L449 71.5L450.7 70L453 68.9ZM398.5 87.5L399.5 87.4L400 88L399.5 88.9L399 89L398.3 88.5ZM399.1 148L401 148L403 148.6L405 150L406.5 151.9L408.4 156.5L409.3 163.5L408.8 169L406.9 173.5L405.3 175.5L403.6 177L401.5 178L399.5 178.3L396.3 177.5L393.5 175L391.6 171L390.9 166L391.5 159L393.2 153L395.8 149.5ZM445.9 152.5L447.5 152.3L449.4 153L454.1 156.5L457.2 160.5L458.5 165L457.7 169.5L455.1 174L451.7 177L447.5 178.4L444.5 178L442.1 176.5L440.3 174L439.4 170.5L439.5 167.5L440.5 164.1L444.2 154.5L445 153.1Z"/><path fill="#ea3536" fill-rule="evenodd" d="M468.1 66L470 65.8L470 85.7L466.4 87.5L452.9 91L448 91.1L445 89.7L444 87.5L444.5 84.5L448 77.7L451 73.6L455 71ZM398.7 150L400.5 149.9L402 150.3L404.5 152.6L406 156.5L406.6 162.5L406.4 168.5L405.2 172.5L402.6 176L401 176.9L399.5 177.2L397 176.5L395 174.5L393.6 171L393.1 167L393.5 160.5L394.5 154.5L396.2 151.5ZM447.4 160L449.5 159.6L452.5 161.5L454.1 164L454.7 167.5L453.9 171L451.9 174.5L449.5 176.5L446.5 177.3L444.5 176.8L443 175.5L441.9 173L441.7 170.5L442.2 168L443.5 165L445.5 162Z"/><path fill="#e92d2d" fill-rule="evenodd" d="M465.7 71.5L467.5 71.4L468.5 71.9L469.4 75L469.2 77.5L468.6 79.5L466 82.9L462.5 85L451.8 89L448 89.7L446.5 89.5L445.5 88.8L445.1 87.5L446 85.1L450.5 79.1L453 76.5L457.5 73.8ZM398.3 152L400 151.7L401.6 152.5L402.9 154.5L403.3 157L403.4 168.5L403 171.5L401.5 175L399.5 176.2L398 175.8L396.9 174.5L396 170L396.6 161L396.5 155L397.2 153ZM447 168L448.5 167.8L449.5 168.4L450.2 170L450.3 171.5L449.8 173.5L448.8 175L447.5 176L446 176.2L444.4 175L444 172.5L445 169.8Z"/><path fill="#f1f7ef" fill-rule="evenodd" d="M306 46.5L362 46.5L364 50.5L364.6 54L364.7 58L363.5 67L361.2 75L356 87L355.5 89L356 93.5L359 102.5L360.2 107.5L360.9 112.5L360.9 117L360 122.5L356.4 134L354.3 144L353.7 152.5L353.9 161L352.4 168L350.2 175.5L348.7 191L349 196L306 196Z"/><path fill="#e6f1e1" fill-rule="evenodd" d="M306 46.5L355.3 46.5L357.5 48.5L359.5 51L360.9 53.5L361.7 56L362.2 59.5L362.2 63L360.8 70.5L357.5 79.1L352.3 88.5L353.6 94L357.4 106L358.3 112L358.4 117.5L357.2 124L354.2 133L352 144L351.1 153L351.5 160.5L350.6 166L348.3 175L346.5 185L343.3 196L307.5 196L306 192.6Z"/><path fill="#e0edd9" fill-rule="evenodd" d="M306 46.5L350.6 46.5L354.1 49.5L356.7 52.5L358.5 55.5L359.7 59L360.1 65L358.8 71L356.3 77.5L351 86.5L350.4 88.5L351 93L355 105.5L356 112L356.1 116L355.3 122.5L352.2 132L349.5 146L349 151L349.2 160L348.6 165.5L345.3 180L343.8 185L341 190.8L337.2 196L313.1 196L310.7 193L308.7 189.5L306 181.8Z"/><path fill="#daead1" fill-rule="evenodd" d="M307.2 47L307.6 46.5L347.2 46.5L352.1 51L355 54.5L357.1 58.5L358.1 62.5L358.1 67L356.7 72L354.2 77.5L349.5 85.5L348.6 88.5L348.5 91L348.9 93.5L352.8 105.5L353.9 113.5L354 117L353.2 123L350.3 132L347.3 146.5L346.8 150.5L346.7 163.5L344.5 175.3L343.2 180L341.6 184L339.5 187.6L337.1 190.5L335 192.3L332.5 193.7L325 195.8L321.5 195.7L318.5 194.6L315.5 192.6L312.5 189.4L310.5 186.2L309 182.7L306 170.8L306 157.9L307 152.5L306 135.2L306 49Z"/><path fill="#d3e6c8" fill-rule="evenodd" d="M310.7 47L311.3 46.5L343.7 46.5L349 50.9L352.6 55L355.2 59.5L356.3 64L356.2 67.5L355.1 71.5L353 76L347.8 85L346.6 89L346.6 91.5L347 94L350.9 106L352 113.5L352.1 117.5L351.2 123.5L348.2 133.5L345 147.5L344.6 164L343.1 173.5L340.7 181L339 184L337 186.6L335 188.5L332.5 190.1L329.5 191.3L326.5 192L323 192L319.5 191L316.5 189.1L314 186.5L312.1 183.5L310.6 180L307.6 167.5L307.5 162L308.7 154.5L308.9 150.5L307.4 132L306 124L306 115.9L307 110L306.8 101.5L307.7 90L307.4 87L306 82.1L306 55.3L308 50.5Z"/><path fill="#cce2be" fill-rule="evenodd" d="M314.5 47L315.4 46.5L339.5 46.5L345 50L349.7 54.5L353 59.6L354.6 65L354.5 67.5L353.4 71L351.3 75.5L346 84.5L344.5 89.5L344.9 94L349.2 106.5L350.2 113.5L350.3 117.5L349.4 124L345.8 136L342.7 148L342.4 165L341.3 173.5L339.2 179.5L336 184.3L334 186.1L331.5 187.6L326.5 189L323 188.8L320 187.8L317.5 186.1L315.1 183.5L313.3 180.5L312 177L310.3 171L309.7 166.5L309.6 162.5L310.6 154L310.7 149L308.9 132.5L307.5 124L307.2 119.5L308.1 110L308.3 101.5L309.5 90L309.1 86.5L306.8 78L306.4 72.5L307.1 66.5L307.1 60L307.9 56L310.5 50.8Z"/><path fill="#c5dfb4" fill-rule="evenodd" d="M319.5 47L324.7 46.5L334 47L337.5 47.8L340.5 49.2L345.2 52.5L348.9 56.5L351.5 61L353 66L352.7 68L351.1 72L343.7 85L342.2 89.5L342.8 94L347.5 106.5L348.5 112.5L348.7 117L347.6 124.5L341.6 143.5L340.4 148.5L340.2 166.5L339.4 173.5L337.7 178.5L334.8 182.5L331 185.2L326.5 186.3L322 185.6L318 183L315.2 179L313.1 173.5L312.2 169L311.8 165L312.8 152L312.7 148L308.6 121L309.7 103L311.4 91L311 87L308.8 79L308.1 75L308.7 60L310 55.5L312.5 51.5L315.5 48.9Z"/><path fill="#bcdba8" fill-rule="evenodd" d="M321.2 48.5L325 48.1L333 48.6L336.5 49.3L340.2 51L344.3 54L347.4 57.5L349.7 61.5L351 66L350.6 68.5L348.8 73L341.1 85.5L339.7 89.5L340.3 93.5L344.3 102L345.9 106.5L346.9 111.5L347.2 116.5L346.8 120.5L345.8 125L339.1 144.5L338 149L337.7 155L338.1 168L337.7 173L336.2 177.5L334 180.6L331 182.8L327 183.9L323 183.3L319.5 181L317 177.6L315.2 173L314.2 165.5L315.1 152.5L315.1 149L310.6 126L309.9 120L311 104.5L313.3 93.5L313.5 90.5L313.1 87L310.5 79L309.6 74.5L309.4 70L310.1 61L311.4 56.5L314 52.6L317.3 50Z"/><path fill="#b3d69a" fill-rule="evenodd" d="M322.2 50L326.5 49.6L332.5 50L336 50.8L339.5 52.5L343 55.1L346 58.5L348.1 62.5L348.9 66L348.3 69.5L346.2 74.5L343.3 79L337.1 87L336.2 89L336.8 92L342 101L344.3 106.5L345.5 112.5L345.5 118.5L344.7 123L343.1 128.5L336.3 145.5L335 150L334.9 157L336.1 169.5L335.5 174.5L334.2 177.5L332.5 179.5L330 181.1L327 181.7L324 181.2L321 179.2L319 176.5L317.5 172.5L316.8 166L317.9 153.5L317.8 149.5L312.4 128L311.2 119L311.4 113.5L312.4 104.5L315.7 93L316 90.5L315.4 87L312.2 79L311.1 74.5L310.8 69.5L311.3 62.5L312.5 58L315 54.1L318.2 51.5Z"/><path fill="#aad28c" fill-rule="evenodd" d="M325.9 51L330 51.1L334 51.7L337 52.8L340 54.6L342.7 57L345 60L346.5 63.5L346.9 66.5L346.5 69.5L345.1 73L343 76.7L340 80.4L334.5 85.2L332 86.4L328.3 87L327.5 87.5L326.9 88.5L327.6 90L332 92L334.5 93.9L339.5 100L341.5 103.5L342.9 107L343.9 111L344.2 115L343.5 121.5L341 130L338.5 136L332.6 147L331.2 150.5L331.4 158.5L333.9 170L333.6 174.5L332.8 176.5L331.5 178.1L329.5 179.3L327.5 179.7L325 179.2L323 177.9L321.1 175.5L320 172.5L319.7 167L321.4 156.5L321.7 151L321 148L317 138.5L315 132.2L313.1 124L312.5 117.5L312.9 110.5L314 103.9L315.4 99.5L318.8 92.5L319.5 90L319.1 88L314.8 80.5L312.9 75.5L312.1 69.5L312.6 62.5L314.2 58L317 54.4L321 52Z"/><path fill="#a3ce80" fill-rule="evenodd" d="M324.8 52.5L328.5 52.3L332.5 52.8L336 54L339 55.7L341.5 58L343.6 61L344.8 64L345.1 67L344.4 70.5L342.9 74L340.5 77.4L337.5 80.4L335 82.3L332 83.7L324 85.4L322 85L320 83.8L316.3 79.5L314 74L313.4 67.5L314.3 61.5L316.5 57.2L320 54.1ZM323.8 93.5L326.5 93.4L330.5 94.5L333.5 96.2L336 98.3L338.6 101.5L340.8 105.5L342.2 109.5L342.7 113.5L342.5 118L341.7 122.5L339.7 129L337.6 134L335 138.4L332 142.2L329 144.8L327 145.4L325 145L323 143.6L321 141.3L318.8 137.5L315.4 128L313.8 119L314.2 110L316 102.6L317.5 99.4L319.5 96.5L321.5 94.6ZM326.4 165L328 165.5L329.5 167.1L331 169.7L331.7 172L331.8 174L331.1 176L330 177.1L328.5 177.7L326.5 177.5L325 176.6L323.7 175L323 173L322.9 170.5L323.5 168L325 165.7Z"/><path fill="#9ccb73" fill-rule="evenodd" d="M324.3 54L327.5 53.6L331 53.8L334 54.6L336.9 56L339.5 58L341.2 60L342.6 62.5L343.4 65.5L343.3 68.5L342.4 71.5L340.8 74.5L338.8 77L336.5 79.1L333.5 81L330.5 82.1L327 82.8L324.5 82.8L322.5 82.3L319 79.9L316.1 75.5L314.7 70L315 64L316.7 59.5L319.8 56ZM324.1 96.5L326.5 96.1L329.5 96.6L332.5 97.9L335 99.8L337.4 102.5L339.3 105.5L340.6 109L341.2 112.5L341.2 116.5L340.5 120.7L338.7 127L336.9 131.5L335 135L332.5 138.1L330 140.1L327.5 141L325.5 140.8L323.5 139.7L321.5 137.8L320 135.5L318.5 132.4L316.9 127.5L315.2 118.5L315.4 111L317 104.2L318.3 101.5L320 99.2L322 97.5ZM326.9 173L328 172.5L329 173L329.8 174.5L329.5 175.5L328.5 176L327.2 175.5L326.7 174.5Z"/><path fill="#95c767" fill-rule="evenodd" d="M326.1 55L329 54.9L332 55.3L334.5 56.2L337 57.7L338.9 59.5L340.5 61.7L341.5 64L341.9 66.5L341.6 69L340.8 71.5L339.3 74L337.5 76.2L335 78.2L332.5 79.6L329.5 80.5L327 80.8L323 80.2L319.5 77.7L316.9 73.5L315.9 68.5L316.4 63.5L318.5 59.3L321.7 56.5ZM325.5 98.5L328 98.4L330.5 99L333 100.3L335 102L337 104.4L338.5 107L339.5 110L339.9 113L339.7 116.5L338.9 120.5L337.1 126.5L335.2 131L333.5 133.9L331.6 136L329.5 137.3L327.5 137.8L325.5 137.5L323.5 136.3L320.5 132.3L317.7 124.5L316.5 116.5L316.8 110L318.5 104.5L321.5 100.5L323.5 99.2Z"/><path fill="#8ec45b" fill-rule="evenodd" d="M325.2 56.5L330 56.2L334.5 57.7L336.5 59.1L338.4 61L340.2 65L340.3 67L340 69.5L338.9 72L337.5 74L333.5 77.3L329 78.9L325 78.8L321.5 77.2L318.8 74L317.4 70L317.3 65.5L318.6 61.5L321.5 58.2ZM325.5 100.5L327.5 100.3L330 100.7L334 103.1L335.7 105L337.2 107.5L338.4 112.5L338.2 116L337.5 119.5L334 129.2L331.3 133.5L329.5 134.7L328 135.1L326 134.8L324.5 134L322 130.8L319.1 123L317.9 116L318.1 110.5L319.5 105.8L322 102.4Z"/><path fill="#87c150" fill-rule="evenodd" d="M326.5 57.5L330.5 57.6L334.5 59.2L337.5 62.2L338.9 66L338.3 70L336.1 73.5L332.5 76.2L328.5 77.4L325 77L322 75.4L319.7 72.5L318.5 68.5L318.8 64.5L320.5 61L323 58.8ZM325.1 102.5L327 102.1L329 102.2L332.8 104L335.5 107.1L336.9 111.5L336.7 116L335 121.4L330.7 131L329.5 132.4L328.5 132.8L327 132.5L326 131.9L323.5 128.5L320.6 121.5L319.3 115.5L319.4 111L320.3 107.5L322.2 104.5Z"/><path fill="#84c04e" fill-rule="evenodd" d="M325.5 59L329 58.6L332.5 59.5L335.3 61.5L337.1 64.5L337.4 68L336.3 71L334 73.6L330.5 75.4L327 75.8L324 74.9L321.8 73L320.1 70L319.8 66.5L320.8 63L322.8 60.5ZM325.8 104L329 103.8L332 105.1L334.5 108L335.5 111.5L335.1 115.5L333.5 119.8L330.5 124.6L329 126.2L328 126.7L327 126.6L326 125.9L324 123.3L321.8 118.5L320.8 114L320.9 110.5L321.9 107.5L323.5 105.4Z"/><path fill="#80bf4c" fill-rule="evenodd" d="M326.4 60L329.5 59.8L332.5 60.8L334.5 62.5L335.9 65L336 68L335 70.5L333 72.7L330 74.1L327 74.3L324.5 73.4L322.4 71.5L321.3 69L321.1 66L321.9 63.5L324 61.1ZM326.3 105.5L329 105.3L331.5 106.4L333.2 108.5L334 111L333.8 114L332.5 117.1L330.5 119.7L328 121L326.5 120.6L324.5 118.7L323 116L322.3 113L322.4 110.5L323 108.5L324.5 106.5Z"/><path fill="#7dbe4a" fill-rule="evenodd" d="M327.4 61L330 61.1L332.2 62L334 63.9L334.8 66L334.5 68.5L333.4 70.5L331.5 72.1L329 72.9L326.5 72.7L324.5 71.6L323.1 70L322.4 68L322.5 65.5L323.4 63.5L325 61.9ZM326.5 107L328 106.6L330 107L331.5 108.2L332.4 110L332.5 112L331.6 114.5L330 116.2L328.5 116.9L327 116.7L325.5 115.6L324 112.5L324 110.5L324.5 109Z"/><path fill="#79bd48" fill-rule="evenodd" d="M326.4 62.5L328 62.1L330 62.3L331.6 63L332.9 64.5L333.5 66L333.3 68L332.5 69.6L331 70.9L329 71.5L327 71.4L325.3 70.5L324.1 69L323.6 67.5L323.8 65.5L325 63.5ZM328.3 108L329.5 108.2L330.5 109L331 111L330 113L328 113.7L327 113.4L326.2 112.5L325.7 110.5L326.5 108.8Z"/><path fill="#76bc46" fill-rule="evenodd" d="M327 63.5L328.5 63.2L330 63.4L331.9 65L332.2 67.5L331.5 68.8L330.5 69.7L329 70.2L327.5 70.1L326.3 69.5L325.4 68.5L324.9 67L325.1 65.5L326 64.2ZM328 109.5L329.2 109.5L329.5 110L329 111L328.2 111L327.7 110.5Z"/><path fill="#74bc46" fill-rule="evenodd" d="M327.6 64.5L329.5 64.4L330.8 65.5L331 67L330 68.5L328 68.9L326.5 67.8L326.2 66Z"/><path fill="#72bc47" fill-rule="evenodd" d="M328.1 65.5L329 65.4L329.7 66L329.8 67L329 67.6L328 67.5L327.5 67L327.6 66Z"/></g>
<rect x="305.50" y="44.70" width="164.80" height="152.00" fill="none" stroke="#000" stroke-width="1.3"/>
<line x1="305.20" y1="44.00" x2="305.20" y2="197.50" stroke="#000" stroke-width="1.8" />
<line x1="304.50" y1="196.80" x2="471.00" y2="196.80" stroke="#000" stroke-width="1.8" />
<line x1="300.80" y1="44.70" x2="305.00" y2="44.70" stroke="#000" stroke-width="1.2" />
<text x="297.30" y="48.15" font-size="9.8" text-anchor="end" font-weight="normal" fill="#000" textLength="29.98" lengthAdjust="spacingAndGlyphs">10000</text>
<line x1="300.80" y1="66.44" x2="305.00" y2="66.44" stroke="#000" stroke-width="1.2" />
<text x="297.30" y="69.89" font-size="9.8" text-anchor="end" font-weight="normal" fill="#000" textLength="23.98" lengthAdjust="spacingAndGlyphs">3333</text>
<line x1="300.80" y1="88.18" x2="305.00" y2="88.18" stroke="#000" stroke-width="1.2" />
<text x="297.30" y="91.63" font-size="9.8" text-anchor="end" font-weight="normal" fill="#000" textLength="21.58" lengthAdjust="spacingAndGlyphs">1111</text>
<line x1="300.80" y1="109.92" x2="305.00" y2="109.92" stroke="#000" stroke-width="1.2" />
<text x="297.30" y="113.37" font-size="9.8" text-anchor="end" font-weight="normal" fill="#000" textLength="17.99" lengthAdjust="spacingAndGlyphs">370</text>
<line x1="300.80" y1="131.66" x2="305.00" y2="131.66" stroke="#000" stroke-width="1.2" />
<text x="297.30" y="135.11" font-size="9.8" text-anchor="end" font-weight="normal" fill="#000" textLength="17.99" lengthAdjust="spacingAndGlyphs">123</text>
<line x1="300.80" y1="153.40" x2="305.00" y2="153.40" stroke="#000" stroke-width="1.2" />
<text x="297.30" y="156.85" font-size="9.8" text-anchor="end" font-weight="normal" fill="#000" textLength="20.98" lengthAdjust="spacingAndGlyphs">41.2</text>
<line x1="300.80" y1="175.14" x2="305.00" y2="175.14" stroke="#000" stroke-width="1.2" />
<text x="297.30" y="178.59" font-size="9.8" text-anchor="end" font-weight="normal" fill="#000" textLength="20.98" lengthAdjust="spacingAndGlyphs">13.7</text>
<line x1="300.80" y1="196.88" x2="305.00" y2="196.88" stroke="#000" stroke-width="1.2" />
<text x="297.30" y="200.33" font-size="9.8" text-anchor="end" font-weight="normal" fill="#000" textLength="6.00" lengthAdjust="spacingAndGlyphs">0</text>
<line x1="305.20" y1="197.00" x2="305.20" y2="201.50" stroke="#000" stroke-width="1.2" />
<text x="305.20" y="212.80" font-size="10.4" text-anchor="middle" font-weight="normal" fill="#000" textLength="3.8" lengthAdjust="spacingAndGlyphs">0</text>
<line x1="328.70" y1="197.00" x2="328.70" y2="201.50" stroke="#000" stroke-width="1.2" />
<text x="328.70" y="212.80" font-size="10.4" text-anchor="middle" font-weight="normal" fill="#000" textLength="13.8" lengthAdjust="spacingAndGlyphs">13.7</text>
<line x1="352.20" y1="197.00" x2="352.20" y2="201.50" stroke="#000" stroke-width="1.2" />
<text x="352.20" y="212.80" font-size="10.4" text-anchor="middle" font-weight="normal" fill="#000" textLength="14.3" lengthAdjust="spacingAndGlyphs">41.2</text>
<line x1="375.70" y1="197.00" x2="375.70" y2="201.50" stroke="#000" stroke-width="1.2" />
<text x="375.70" y="212.80" font-size="10.4" text-anchor="middle" font-weight="normal" fill="#000" textLength="11.2" lengthAdjust="spacingAndGlyphs">123</text>
<line x1="399.20" y1="197.00" x2="399.20" y2="201.50" stroke="#000" stroke-width="1.2" />
<text x="399.20" y="212.80" font-size="10.4" text-anchor="middle" font-weight="normal" fill="#000" textLength="11.5" lengthAdjust="spacingAndGlyphs">370</text>
<line x1="422.70" y1="197.00" x2="422.70" y2="201.50" stroke="#000" stroke-width="1.2" />
<text x="422.70" y="212.80" font-size="10.4" text-anchor="middle" font-weight="normal" fill="#000" textLength="11" lengthAdjust="spacingAndGlyphs">1111</text>
<line x1="446.20" y1="197.00" x2="446.20" y2="201.50" stroke="#000" stroke-width="1.2" />
<text x="446.20" y="212.80" font-size="10.4" text-anchor="middle" font-weight="normal" fill="#000" textLength="15.8" lengthAdjust="spacingAndGlyphs">3333</text>
<line x1="469.70" y1="197.00" x2="469.70" y2="201.50" stroke="#000" stroke-width="1.2" />
<text x="471.20" y="212.80" font-size="10.4" text-anchor="middle" font-weight="normal" fill="#000" textLength="19.2" lengthAdjust="spacingAndGlyphs">10000</text>
<text x="363.80" y="230.60" font-size="12.8" text-anchor="start" font-weight="bold" fill="#000" textLength="47.6" lengthAdjust="spacingAndGlyphs">DORA (nM)</text>
<text x="265.40" y="121.00" font-size="12.5" text-anchor="middle" font-weight="bold" fill="#000" textLength="38" lengthAdjust="spacingAndGlyphs" transform="rotate(-90 265.40 121.00)">VEN (nM)</text>
<g><rect x="317" y="36" width="1" height="2" fill="#6cbb48"/><rect x="318" y="36" width="1" height="2" fill="#6dbb48"/><rect x="319" y="36" width="1" height="2" fill="#6ebb48"/><rect x="320" y="36" width="1" height="2" fill="#6ebb48"/><rect x="321" y="36" width="1" height="2" fill="#6fbb47"/><rect x="322" y="36" width="1" height="2" fill="#70bb47"/><rect x="323" y="36" width="1" height="2" fill="#71bb47"/><rect x="324" y="36" width="1" height="2" fill="#71bc47"/><rect x="325" y="36" width="1" height="2" fill="#72bc47"/><rect x="326" y="36" width="1" height="2" fill="#73bc47"/><rect x="327" y="36" width="1" height="2" fill="#73bc47"/><rect x="328" y="36" width="1" height="2" fill="#74bc46"/><rect x="329" y="36" width="1" height="2" fill="#75bc46"/><rect x="330" y="36" width="1" height="2" fill="#76bc46"/><rect x="331" y="36" width="1" height="2" fill="#76bc46"/><rect x="332" y="36" width="1" height="2" fill="#78bc47"/><rect x="333" y="36" width="1" height="2" fill="#79bd48"/><rect x="334" y="36" width="1" height="2" fill="#7abd48"/><rect x="335" y="36" width="1" height="2" fill="#7bbe49"/><rect x="336" y="36" width="1" height="2" fill="#7cbe4a"/><rect x="337" y="36" width="1" height="2" fill="#7ebe4a"/><rect x="338" y="36" width="1" height="2" fill="#7fbf4b"/><rect x="339" y="36" width="1" height="2" fill="#80bf4c"/><rect x="340" y="36" width="1" height="2" fill="#81bf4d"/><rect x="341" y="36" width="1" height="2" fill="#82c04d"/><rect x="342" y="36" width="1" height="2" fill="#84c04e"/><rect x="343" y="36" width="1" height="2" fill="#85c04f"/><rect x="344" y="36" width="1" height="2" fill="#86c14f"/><rect x="345" y="36" width="1" height="2" fill="#87c150"/><rect x="346" y="36" width="1" height="2" fill="#8ac254"/><rect x="347" y="36" width="1" height="2" fill="#8cc358"/><rect x="348" y="36" width="1" height="2" fill="#8ec45c"/><rect x="349" y="36" width="1" height="2" fill="#91c660"/><rect x="350" y="36" width="1" height="2" fill="#93c764"/><rect x="351" y="36" width="1" height="2" fill="#96c868"/><rect x="352" y="36" width="1" height="2" fill="#98c96d"/><rect x="353" y="36" width="1" height="2" fill="#9bca71"/><rect x="354" y="36" width="1" height="2" fill="#9dcc76"/><rect x="355" y="36" width="1" height="2" fill="#a0cd7a"/><rect x="356" y="36" width="1" height="2" fill="#a2ce7e"/><rect x="357" y="36" width="1" height="2" fill="#a5cf83"/><rect x="358" y="36" width="1" height="2" fill="#a7d187"/><rect x="359" y="36" width="1" height="2" fill="#aad28c"/><rect x="360" y="36" width="1" height="2" fill="#add390"/><rect x="361" y="36" width="1" height="2" fill="#b0d595"/><rect x="362" y="36" width="1" height="2" fill="#b3d69a"/><rect x="363" y="36" width="1" height="2" fill="#b6d89f"/><rect x="364" y="36" width="1" height="2" fill="#badaa4"/><rect x="365" y="36" width="1" height="2" fill="#bddba9"/><rect x="366" y="36" width="1" height="2" fill="#c0ddae"/><rect x="367" y="36" width="1" height="2" fill="#c3deb2"/><rect x="368" y="36" width="1" height="2" fill="#c6dfb6"/><rect x="369" y="36" width="1" height="2" fill="#c8e1b9"/><rect x="370" y="36" width="1" height="2" fill="#cbe2bc"/><rect x="371" y="36" width="1" height="2" fill="#cde3c0"/><rect x="372" y="36" width="1" height="2" fill="#d0e4c3"/><rect x="373" y="36" width="1" height="2" fill="#d2e6c7"/><rect x="374" y="36" width="1" height="2" fill="#d5e7ca"/><rect x="375" y="36" width="1" height="2" fill="#d7e8cd"/><rect x="376" y="36" width="1" height="2" fill="#d9e9d0"/><rect x="377" y="36" width="1" height="2" fill="#dcebd3"/><rect x="378" y="36" width="1" height="2" fill="#deecd6"/><rect x="379" y="36" width="1" height="2" fill="#e0edd9"/><rect x="380" y="36" width="1" height="2" fill="#e2eedc"/><rect x="381" y="36" width="1" height="2" fill="#e4f0df"/><rect x="382" y="36" width="1" height="2" fill="#e6f1e2"/><rect x="383" y="36" width="1" height="2" fill="#e9f3e5"/><rect x="384" y="36" width="1" height="2" fill="#eef5eb"/><rect x="391" y="36" width="1" height="2" fill="#fceded"/><rect x="392" y="36" width="1" height="2" fill="#fbe8e8"/><rect x="393" y="36" width="1" height="2" fill="#fbe4e4"/><rect x="394" y="36" width="1" height="2" fill="#fadfdf"/><rect x="395" y="36" width="1" height="2" fill="#fadbdb"/><rect x="396" y="36" width="1" height="2" fill="#fad7d7"/><rect x="397" y="36" width="1" height="2" fill="#f9d3d3"/><rect x="398" y="36" width="1" height="2" fill="#f9cece"/><rect x="399" y="36" width="1" height="2" fill="#f9caca"/><rect x="400" y="36" width="1" height="2" fill="#f8c6c6"/><rect x="401" y="36" width="1" height="2" fill="#f8c2c2"/><rect x="402" y="36" width="1" height="2" fill="#f8bebe"/><rect x="403" y="36" width="1" height="2" fill="#f7babb"/><rect x="404" y="36" width="1" height="2" fill="#f7b7b7"/><rect x="405" y="36" width="1" height="2" fill="#f6b3b4"/><rect x="406" y="36" width="1" height="2" fill="#f6afb0"/><rect x="407" y="36" width="1" height="2" fill="#f6abad"/><rect x="408" y="36" width="1" height="2" fill="#f5a7a9"/><rect x="409" y="36" width="1" height="2" fill="#f5a4a6"/><rect x="410" y="36" width="1" height="2" fill="#f4a1a3"/><rect x="411" y="36" width="1" height="2" fill="#f49ea0"/><rect x="412" y="36" width="1" height="2" fill="#f49a9c"/><rect x="413" y="36" width="1" height="2" fill="#f39799"/><rect x="414" y="36" width="1" height="2" fill="#f39496"/><rect x="415" y="36" width="1" height="2" fill="#f39193"/><rect x="416" y="36" width="1" height="2" fill="#f28e90"/><rect x="417" y="36" width="1" height="2" fill="#f28b8d"/><rect x="418" y="36" width="1" height="2" fill="#f2888b"/><rect x="419" y="36" width="1" height="2" fill="#f28688"/><rect x="420" y="36" width="1" height="2" fill="#f18386"/><rect x="421" y="36" width="1" height="2" fill="#f18183"/><rect x="422" y="36" width="1" height="2" fill="#f17e81"/><rect x="423" y="36" width="1" height="2" fill="#f17c7f"/><rect x="424" y="36" width="1" height="2" fill="#f17a7d"/><rect x="425" y="36" width="1" height="2" fill="#f0787b"/><rect x="426" y="36" width="1" height="2" fill="#f07779"/><rect x="427" y="36" width="1" height="2" fill="#f07476"/><rect x="428" y="36" width="1" height="2" fill="#ef7173"/><rect x="429" y="36" width="1" height="2" fill="#ef6e70"/><rect x="430" y="36" width="1" height="2" fill="#ef6b6d"/><rect x="431" y="36" width="1" height="2" fill="#ee686a"/><rect x="432" y="36" width="1" height="2" fill="#ee6567"/><rect x="433" y="36" width="1" height="2" fill="#ee6264"/><rect x="434" y="36" width="1" height="2" fill="#ed5e60"/><rect x="435" y="36" width="1" height="2" fill="#ed5a5c"/><rect x="436" y="36" width="1" height="2" fill="#ed5759"/><rect x="437" y="36" width="1" height="2" fill="#ec5355"/><rect x="438" y="36" width="1" height="2" fill="#ec4f51"/><rect x="439" y="36" width="1" height="2" fill="#ec4c4e"/><rect x="440" y="36" width="1" height="2" fill="#eb494b"/><rect x="441" y="36" width="1" height="2" fill="#eb4648"/><rect x="442" y="36" width="1" height="2" fill="#eb4345"/><rect x="443" y="36" width="1" height="2" fill="#ea4042"/><rect x="444" y="36" width="1" height="2" fill="#ea3d3f"/><rect x="445" y="36" width="1" height="2" fill="#ea3a3c"/><rect x="446" y="36" width="1" height="2" fill="#ea3839"/><rect x="447" y="36" width="1" height="2" fill="#ea3536"/><rect x="448" y="36" width="1" height="2" fill="#e93233"/><rect x="449" y="36" width="1" height="2" fill="#e93030"/><rect x="450" y="36" width="1" height="2" fill="#e92d2d"/><rect x="451" y="36" width="1" height="2" fill="#e92b2b"/><rect x="452" y="36" width="1" height="2" fill="#e92829"/><rect x="453" y="36" width="1" height="2" fill="#e92627"/><rect x="454" y="36" width="1" height="2" fill="#e82325"/><rect x="455" y="36" width="1" height="2" fill="#e82122"/><rect x="456" y="36" width="1" height="2" fill="#e81e20"/><rect x="457" y="36" width="1" height="2" fill="#e81d1f"/><rect x="458" y="36" width="1" height="2" fill="#e81c1e"/></g>
<text x="317.60" y="33.80" font-size="10.2" text-anchor="middle" font-weight="normal" fill="#000" >−50</text>
<text x="345.20" y="33.80" font-size="10.2" text-anchor="middle" font-weight="normal" fill="#000" >−30</text>
<text x="373.60" y="33.80" font-size="10.2" text-anchor="middle" font-weight="normal" fill="#000" >−10</text>
<text x="403.60" y="33.80" font-size="10.2" text-anchor="middle" font-weight="normal" fill="#000" >10</text>
<text x="431.60" y="33.80" font-size="10.2" text-anchor="middle" font-weight="normal" fill="#000" >30</text>
<text x="460.10" y="33.80" font-size="10.2" text-anchor="middle" font-weight="normal" fill="#000" >50</text>
<g><rect x="477.10" y="52.00" width="10.00" height="1" fill="#e81f21"/><rect x="477.10" y="53.00" width="10.00" height="3" fill="#e92627"/><rect x="477.10" y="56.00" width="10.00" height="3" fill="#e92d2d"/><rect x="477.10" y="59.00" width="10.00" height="3" fill="#ea3536"/><rect x="477.10" y="62.00" width="10.00" height="3" fill="#ea3c3e"/><rect x="477.10" y="65.00" width="10.00" height="3" fill="#eb4547"/><rect x="477.10" y="68.00" width="10.00" height="3" fill="#ec4d4f"/><rect x="477.10" y="71.00" width="10.00" height="3" fill="#ed5759"/><rect x="477.10" y="74.00" width="10.00" height="2" fill="#ee6264"/><rect x="477.10" y="76.00" width="10.00" height="3" fill="#ef6b6d"/><rect x="477.10" y="79.00" width="10.00" height="3" fill="#f07375"/><rect x="477.10" y="82.00" width="10.00" height="3" fill="#f07a7c"/><rect x="477.10" y="85.00" width="10.00" height="3" fill="#f17f82"/><rect x="477.10" y="88.00" width="10.00" height="3" fill="#f28789"/><rect x="477.10" y="91.00" width="10.00" height="3" fill="#f28e90"/><rect x="477.10" y="94.00" width="10.00" height="3" fill="#f39799"/><rect x="477.10" y="97.00" width="10.00" height="2" fill="#f4a0a2"/><rect x="477.10" y="99.00" width="10.00" height="3" fill="#f5aaac"/><rect x="477.10" y="102.00" width="10.00" height="3" fill="#f7b5b6"/><rect x="477.10" y="105.00" width="10.00" height="3" fill="#f8bfc0"/><rect x="477.10" y="108.00" width="10.00" height="3" fill="#f9cbcb"/><rect x="477.10" y="111.00" width="10.00" height="3" fill="#fad7d7"/><rect x="477.10" y="114.00" width="10.00" height="3" fill="#fbe3e3"/><rect x="477.10" y="117.00" width="10.00" height="3" fill="#fcf0f0"/><rect x="477.10" y="123.00" width="10.00" height="2" fill="#f1f7ef"/><rect x="477.10" y="125.00" width="10.00" height="3" fill="#e6f1e1"/><rect x="477.10" y="128.00" width="10.00" height="3" fill="#e0edd9"/><rect x="477.10" y="131.00" width="10.00" height="3" fill="#daead1"/><rect x="477.10" y="134.00" width="10.00" height="3" fill="#d3e6c8"/><rect x="477.10" y="137.00" width="10.00" height="3" fill="#cce2be"/><rect x="477.10" y="140.00" width="10.00" height="3" fill="#c5dfb4"/><rect x="477.10" y="143.00" width="10.00" height="3" fill="#bcdba8"/><rect x="477.10" y="146.00" width="10.00" height="2" fill="#b3d69a"/><rect x="477.10" y="148.00" width="10.00" height="3" fill="#aad28c"/><rect x="477.10" y="151.00" width="10.00" height="3" fill="#a3ce80"/><rect x="477.10" y="154.00" width="10.00" height="3" fill="#9ccb73"/><rect x="477.10" y="157.00" width="10.00" height="3" fill="#95c767"/><rect x="477.10" y="160.00" width="10.00" height="3" fill="#8ec45b"/><rect x="477.10" y="163.00" width="10.00" height="3" fill="#87c150"/><rect x="477.10" y="166.00" width="10.00" height="3" fill="#84c04e"/><rect x="477.10" y="169.00" width="10.00" height="2" fill="#80bf4c"/><rect x="477.10" y="171.00" width="10.00" height="3" fill="#7dbe4a"/><rect x="477.10" y="174.00" width="10.00" height="3" fill="#79bd48"/><rect x="477.10" y="177.00" width="10.00" height="3" fill="#76bc46"/><rect x="477.10" y="180.00" width="10.00" height="3" fill="#74bc46"/><rect x="477.10" y="183.00" width="10.00" height="3" fill="#72bc47"/><rect x="477.10" y="186.00" width="10.00" height="3" fill="#70bb47"/><rect x="477.10" y="189.00" width="10.00" height="3" fill="#6ebb48"/><rect x="477.10" y="192.00" width="10.00" height="1" fill="#6cbb48"/></g>
<text x="489.80" y="53.00" font-size="10" text-anchor="start" font-weight="normal" fill="#000" >50</text>
<text x="489.80" y="81.40" font-size="10" text-anchor="start" font-weight="normal" fill="#000" >30</text>
<text x="489.80" y="110.10" font-size="10" text-anchor="start" font-weight="normal" fill="#000" >10</text>
<text x="489.80" y="140.20" font-size="10" text-anchor="start" font-weight="normal" fill="#000" >−10</text>
<text x="489.80" y="168.20" font-size="10" text-anchor="start" font-weight="normal" fill="#000" >−30</text>
<text x="489.80" y="196.40" font-size="10" text-anchor="start" font-weight="normal" fill="#000" >−50</text>
<text x="492.80" y="29.20" font-size="9.5" text-anchor="middle" font-weight="normal" fill="#000" >Synergy</text>
<text x="492.80" y="38.40" font-size="9.5" text-anchor="middle" font-weight="normal" fill="#000" >score</text>
<text x="9.50" y="252.00" font-size="15.2" text-anchor="start" font-weight="bold" fill="#000" >C</text>
<line x1="19.00" y1="262.00" x2="27.50" y2="262.00" stroke="#C8102E" stroke-width="1.8" />
<circle cx="23.25" cy="262.00" r="1.9" fill="#C8102E"/>
<text x="32.00" y="265.20" font-size="9.1" text-anchor="start" font-weight="normal" fill="#000" >VEN only</text>
<line x1="19.00" y1="271.50" x2="27.50" y2="271.50" stroke="#1F5C99" stroke-width="1.8" />
<circle cx="23.25" cy="271.50" r="1.9" fill="#1F5C99"/>
<text x="32.00" y="274.70" font-size="9.1" text-anchor="start" font-weight="normal" fill="#000" >VEN + DORA 13.7 nM</text>
<line x1="19.00" y1="281.30" x2="27.50" y2="281.30" stroke="#3CB44F" stroke-width="1.8" />
<circle cx="23.25" cy="281.30" r="1.9" fill="#3CB44F"/>
<text x="32.00" y="284.50" font-size="9.1" text-anchor="start" font-weight="normal" fill="#000" >VEN + DORA 41.2 nM</text>
<line x1="19.00" y1="290.90" x2="27.50" y2="290.90" stroke="#5B2C83" stroke-width="1.8" />
<circle cx="23.25" cy="290.90" r="1.9" fill="#5B2C83"/>
<text x="32.00" y="294.10" font-size="9.1" text-anchor="start" font-weight="normal" fill="#000" >VEN + DORA 124 nM</text>
<line x1="133.50" y1="262.00" x2="142.00" y2="262.00" stroke="#F7941D" stroke-width="1.8" />
<circle cx="137.75" cy="262.00" r="1.9" fill="#F7941D"/>
<text x="146.50" y="265.20" font-size="9.1" text-anchor="start" font-weight="normal" fill="#000" >VEN + DORA 370 nM</text>
<line x1="133.50" y1="271.50" x2="142.00" y2="271.50" stroke="#00664F" stroke-width="1.8" />
<circle cx="137.75" cy="271.50" r="1.9" fill="#00664F"/>
<text x="146.50" y="274.70" font-size="9.1" text-anchor="start" font-weight="normal" fill="#000" >VEN + DORA 1111 nM</text>
<line x1="133.50" y1="281.30" x2="142.00" y2="281.30" stroke="#9C8FD0" stroke-width="1.8" />
<circle cx="137.75" cy="281.30" r="1.9" fill="#9C8FD0"/>
<text x="146.50" y="284.50" font-size="9.1" text-anchor="start" font-weight="normal" fill="#000" >VEN + DORA 3333 nM</text>
<line x1="133.50" y1="290.90" x2="142.00" y2="290.90" stroke="#3C4A5C" stroke-width="1.8" />
<circle cx="137.75" cy="290.90" r="1.9" fill="#3C4A5C"/>
<text x="146.50" y="294.10" font-size="9.1" text-anchor="start" font-weight="normal" fill="#000" >VEN + DORA 10000 nM</text>
<line x1="53.00" y1="301.30" x2="53.00" y2="444.00" stroke="#000" stroke-width="1.3" />
<line x1="52.40" y1="443.30" x2="217.50" y2="443.30" stroke="#000" stroke-width="1.3" />
<line x1="49.20" y1="440.40" x2="53.00" y2="440.40" stroke="#000" stroke-width="1.1" />
<text x="46.00" y="443.70" font-size="9.8" text-anchor="end" font-weight="normal" fill="#000" textLength="6.16" lengthAdjust="spacingAndGlyphs">0</text>
<line x1="49.20" y1="407.17" x2="53.00" y2="407.17" stroke="#000" stroke-width="1.1" />
<text x="46.00" y="410.47" font-size="9.8" text-anchor="end" font-weight="normal" fill="#000" textLength="12.32" lengthAdjust="spacingAndGlyphs">25</text>
<line x1="49.20" y1="373.95" x2="53.00" y2="373.95" stroke="#000" stroke-width="1.1" />
<text x="46.00" y="377.25" font-size="9.8" text-anchor="end" font-weight="normal" fill="#000" textLength="12.32" lengthAdjust="spacingAndGlyphs">50</text>
<line x1="49.20" y1="340.72" x2="53.00" y2="340.72" stroke="#000" stroke-width="1.1" />
<text x="46.00" y="344.02" font-size="9.8" text-anchor="end" font-weight="normal" fill="#000" textLength="12.32" lengthAdjust="spacingAndGlyphs">75</text>
<line x1="49.20" y1="307.50" x2="53.00" y2="307.50" stroke="#000" stroke-width="1.1" />
<text x="46.00" y="310.80" font-size="9.8" text-anchor="end" font-weight="normal" fill="#000" textLength="18.48" lengthAdjust="spacingAndGlyphs">100</text>
<line x1="56.00" y1="443.30" x2="56.00" y2="447.60" stroke="#000" stroke-width="1.1" />
<text x="56.00" y="460.20" font-size="9.8" text-anchor="middle" font-weight="normal" fill="#000" textLength="12.32" lengthAdjust="spacingAndGlyphs">10</text>
<line x1="106.67" y1="443.30" x2="106.67" y2="447.60" stroke="#000" stroke-width="1.1" />
<text x="106.67" y="460.20" font-size="9.8" text-anchor="middle" font-weight="normal" fill="#000" textLength="18.48" lengthAdjust="spacingAndGlyphs">100</text>
<line x1="157.34" y1="443.30" x2="157.34" y2="447.60" stroke="#000" stroke-width="1.1" />
<text x="157.34" y="460.20" font-size="9.8" text-anchor="middle" font-weight="normal" fill="#000" textLength="24.64" lengthAdjust="spacingAndGlyphs">1000</text>
<line x1="208.01" y1="443.30" x2="208.01" y2="447.60" stroke="#000" stroke-width="1.1" />
<text x="208.01" y="460.20" font-size="9.8" text-anchor="middle" font-weight="normal" fill="#000" textLength="30.80" lengthAdjust="spacingAndGlyphs">10000</text>
<text x="116.20" y="477.70" font-size="12.3" text-anchor="start" font-weight="bold" fill="#000" textLength="38.4" lengthAdjust="spacingAndGlyphs">VEN (nM)</text>
<text x="21.40" y="374.20" font-size="11.8" text-anchor="middle" font-weight="normal" fill="#000" textLength="100" lengthAdjust="spacingAndGlyphs" transform="rotate(-90 21.40 374.20)" stroke="#000" stroke-width="0.25">Viability (% of untreated)</text>
<text x="65.50" y="432.00" font-size="10.4" text-anchor="start" font-weight="normal" fill="#000" textLength="43.4" lengthAdjust="spacingAndGlyphs">MOLM14</text>
<polyline points="62.93,311.49 87.16,322.12 111.23,320.79 135.46,333.42 159.66,354.01 183.83,396.54 208.01,435.08" stroke="#C8102E" stroke-width="1.9" fill="none" stroke-linejoin="round"/>
<polyline points="62.93,323.45 87.16,316.80 111.23,334.08 135.46,345.51 159.66,352.69 183.83,399.20 208.01,436.41" stroke="#1F5C99" stroke-width="1.9" fill="none" stroke-linejoin="round"/>
<polyline points="62.93,327.43 87.16,328.76 111.23,334.88 135.46,347.77 159.66,353.35 183.83,392.56 208.01,434.42" stroke="#3CB44F" stroke-width="1.9" fill="none" stroke-linejoin="round"/>
<polyline points="62.93,328.76 87.16,328.10 111.23,337.27 135.46,337.27 159.66,354.01 183.83,395.21 208.01,435.08" stroke="#5B2C83" stroke-width="1.9" fill="none" stroke-linejoin="round"/>
<polyline points="62.93,332.75 87.16,335.41 111.23,342.05 135.46,355.61 159.66,364.12 183.83,407.17 208.01,435.08" stroke="#F7941D" stroke-width="1.9" fill="none" stroke-linejoin="round"/>
<polyline points="62.93,352.69 87.16,340.06 111.23,349.10 135.46,354.01 159.66,359.07 183.83,397.87 208.01,434.42" stroke="#00664F" stroke-width="1.9" fill="none" stroke-linejoin="round"/>
<polyline points="62.93,344.71 87.16,346.71 111.23,365.58 135.46,367.04 159.66,377.67 183.83,403.19 208.01,435.08" stroke="#9C8FD0" stroke-width="1.9" fill="none" stroke-linejoin="round"/>
<polyline points="62.93,360.66 87.16,363.32 111.23,380.59 135.46,377.01 159.66,389.50 183.83,429.77 208.01,435.08" stroke="#3C4A5C" stroke-width="1.9" fill="none" stroke-linejoin="round"/>
<path d="M62.93 308.16V314.81M60.33 308.16h5.2M60.33 314.81h5.2" stroke="#C8102E" stroke-width="1.1" fill="none"/>
<circle cx="62.93" cy="311.49" r="1.9" fill="#C8102E"/>
<path d="M87.16 319.46V324.78M84.56 319.46h5.2M84.56 324.78h5.2" stroke="#C8102E" stroke-width="1.1" fill="none"/>
<circle cx="87.16" cy="322.12" r="1.9" fill="#C8102E"/>
<path d="M111.23 316.80V324.78M108.63 316.80h5.2M108.63 324.78h5.2" stroke="#C8102E" stroke-width="1.1" fill="none"/>
<circle cx="111.23" cy="320.79" r="1.9" fill="#C8102E"/>
<path d="M135.46 331.42V335.41M132.86 331.42h5.2M132.86 335.41h5.2" stroke="#C8102E" stroke-width="1.1" fill="none"/>
<circle cx="135.46" cy="333.42" r="1.9" fill="#C8102E"/>
<path d="M159.66 351.36V356.67M157.06 351.36h5.2M157.06 356.67h5.2" stroke="#C8102E" stroke-width="1.1" fill="none"/>
<circle cx="159.66" cy="354.01" r="1.9" fill="#C8102E"/>
<path d="M183.83 393.88V399.20M181.23 393.88h5.2M181.23 399.20h5.2" stroke="#C8102E" stroke-width="1.1" fill="none"/>
<circle cx="183.83" cy="396.54" r="1.9" fill="#C8102E"/>
<path d="M208.01 433.75V436.41M205.41 433.75h5.2M205.41 436.41h5.2" stroke="#C8102E" stroke-width="1.1" fill="none"/>
<circle cx="208.01" cy="435.08" r="1.9" fill="#C8102E"/>
<path d="M62.93 318.13V328.76M60.33 318.13h5.2M60.33 328.76h5.2" stroke="#1F5C99" stroke-width="1.1" fill="none"/>
<circle cx="62.93" cy="323.45" r="1.9" fill="#1F5C99"/>
<path d="M87.16 314.81V318.80M84.56 314.81h5.2M84.56 318.80h5.2" stroke="#1F5C99" stroke-width="1.1" fill="none"/>
<circle cx="87.16" cy="316.80" r="1.9" fill="#1F5C99"/>
<path d="M111.23 330.09V338.07M108.63 330.09h5.2M108.63 338.07h5.2" stroke="#1F5C99" stroke-width="1.1" fill="none"/>
<circle cx="111.23" cy="334.08" r="1.9" fill="#1F5C99"/>
<path d="M135.46 343.52V347.50M132.86 343.52h5.2M132.86 347.50h5.2" stroke="#1F5C99" stroke-width="1.1" fill="none"/>
<circle cx="135.46" cy="345.51" r="1.9" fill="#1F5C99"/>
<path d="M159.66 348.70V356.67M157.06 348.70h5.2M157.06 356.67h5.2" stroke="#1F5C99" stroke-width="1.1" fill="none"/>
<circle cx="159.66" cy="352.69" r="1.9" fill="#1F5C99"/>
<path d="M183.83 396.54V401.86M181.23 396.54h5.2M181.23 401.86h5.2" stroke="#1F5C99" stroke-width="1.1" fill="none"/>
<circle cx="183.83" cy="399.20" r="1.9" fill="#1F5C99"/>
<path d="M208.01 435.08V437.74M205.41 435.08h5.2M205.41 437.74h5.2" stroke="#1F5C99" stroke-width="1.1" fill="none"/>
<circle cx="208.01" cy="436.41" r="1.9" fill="#1F5C99"/>
<path d="M62.93 324.78V330.09M60.33 324.78h5.2M60.33 330.09h5.2" stroke="#3CB44F" stroke-width="1.1" fill="none"/>
<circle cx="62.93" cy="327.43" r="1.9" fill="#3CB44F"/>
<path d="M87.16 326.77V330.76M84.56 326.77h5.2M84.56 330.76h5.2" stroke="#3CB44F" stroke-width="1.1" fill="none"/>
<circle cx="87.16" cy="328.76" r="1.9" fill="#3CB44F"/>
<path d="M111.23 332.22V337.54M108.63 332.22h5.2M108.63 337.54h5.2" stroke="#3CB44F" stroke-width="1.1" fill="none"/>
<circle cx="111.23" cy="334.88" r="1.9" fill="#3CB44F"/>
<path d="M135.46 345.11V350.43M132.86 345.11h5.2M132.86 350.43h5.2" stroke="#3CB44F" stroke-width="1.1" fill="none"/>
<circle cx="135.46" cy="347.77" r="1.9" fill="#3CB44F"/>
<path d="M159.66 351.36V355.34M157.06 351.36h5.2M157.06 355.34h5.2" stroke="#3CB44F" stroke-width="1.1" fill="none"/>
<circle cx="159.66" cy="353.35" r="1.9" fill="#3CB44F"/>
<path d="M183.83 390.56V394.55M181.23 390.56h5.2M181.23 394.55h5.2" stroke="#3CB44F" stroke-width="1.1" fill="none"/>
<circle cx="183.83" cy="392.56" r="1.9" fill="#3CB44F"/>
<path d="M208.01 433.09V435.75M205.41 433.09h5.2M205.41 435.75h5.2" stroke="#3CB44F" stroke-width="1.1" fill="none"/>
<circle cx="208.01" cy="434.42" r="1.9" fill="#3CB44F"/>
<path d="M62.93 326.11V331.42M60.33 326.11h5.2M60.33 331.42h5.2" stroke="#5B2C83" stroke-width="1.1" fill="none"/>
<circle cx="62.93" cy="328.76" r="1.9" fill="#5B2C83"/>
<path d="M87.16 325.44V330.76M84.56 325.44h5.2M84.56 330.76h5.2" stroke="#5B2C83" stroke-width="1.1" fill="none"/>
<circle cx="87.16" cy="328.10" r="1.9" fill="#5B2C83"/>
<path d="M111.23 334.61V339.93M108.63 334.61h5.2M108.63 339.93h5.2" stroke="#5B2C83" stroke-width="1.1" fill="none"/>
<circle cx="111.23" cy="337.27" r="1.9" fill="#5B2C83"/>
<path d="M135.46 333.28V341.26M132.86 333.28h5.2M132.86 341.26h5.2" stroke="#5B2C83" stroke-width="1.1" fill="none"/>
<circle cx="135.46" cy="337.27" r="1.9" fill="#5B2C83"/>
<path d="M159.66 351.36V356.67M157.06 351.36h5.2M157.06 356.67h5.2" stroke="#5B2C83" stroke-width="1.1" fill="none"/>
<circle cx="159.66" cy="354.01" r="1.9" fill="#5B2C83"/>
<path d="M183.83 392.56V397.87M181.23 392.56h5.2M181.23 397.87h5.2" stroke="#5B2C83" stroke-width="1.1" fill="none"/>
<circle cx="183.83" cy="395.21" r="1.9" fill="#5B2C83"/>
<path d="M208.01 433.75V436.41M205.41 433.75h5.2M205.41 436.41h5.2" stroke="#5B2C83" stroke-width="1.1" fill="none"/>
<circle cx="208.01" cy="435.08" r="1.9" fill="#5B2C83"/>
<path d="M62.93 330.09V335.41M60.33 330.09h5.2M60.33 335.41h5.2" stroke="#F7941D" stroke-width="1.1" fill="none"/>
<circle cx="62.93" cy="332.75" r="1.9" fill="#F7941D"/>
<path d="M87.16 332.75V338.07M84.56 332.75h5.2M84.56 338.07h5.2" stroke="#F7941D" stroke-width="1.1" fill="none"/>
<circle cx="87.16" cy="335.41" r="1.9" fill="#F7941D"/>
<path d="M111.23 338.07V346.04M108.63 338.07h5.2M108.63 346.04h5.2" stroke="#F7941D" stroke-width="1.1" fill="none"/>
<circle cx="111.23" cy="342.05" r="1.9" fill="#F7941D"/>
<path d="M135.46 352.95V358.27M132.86 352.95h5.2M132.86 358.27h5.2" stroke="#F7941D" stroke-width="1.1" fill="none"/>
<circle cx="135.46" cy="355.61" r="1.9" fill="#F7941D"/>
<path d="M159.66 361.46V366.77M157.06 361.46h5.2M157.06 366.77h5.2" stroke="#F7941D" stroke-width="1.1" fill="none"/>
<circle cx="159.66" cy="364.12" r="1.9" fill="#F7941D"/>
<path d="M183.83 404.52V409.83M181.23 404.52h5.2M181.23 409.83h5.2" stroke="#F7941D" stroke-width="1.1" fill="none"/>
<circle cx="183.83" cy="407.17" r="1.9" fill="#F7941D"/>
<path d="M208.01 433.75V436.41M205.41 433.75h5.2M205.41 436.41h5.2" stroke="#F7941D" stroke-width="1.1" fill="none"/>
<circle cx="208.01" cy="435.08" r="1.9" fill="#F7941D"/>
<path d="M62.93 350.03V355.34M60.33 350.03h5.2M60.33 355.34h5.2" stroke="#00664F" stroke-width="1.1" fill="none"/>
<circle cx="62.93" cy="352.69" r="1.9" fill="#00664F"/>
<path d="M87.16 337.40V342.72M84.56 337.40h5.2M84.56 342.72h5.2" stroke="#00664F" stroke-width="1.1" fill="none"/>
<circle cx="87.16" cy="340.06" r="1.9" fill="#00664F"/>
<path d="M111.23 346.44V351.76M108.63 346.44h5.2M108.63 351.76h5.2" stroke="#00664F" stroke-width="1.1" fill="none"/>
<circle cx="111.23" cy="349.10" r="1.9" fill="#00664F"/>
<path d="M135.46 351.36V356.67M132.86 351.36h5.2M132.86 356.67h5.2" stroke="#00664F" stroke-width="1.1" fill="none"/>
<circle cx="135.46" cy="354.01" r="1.9" fill="#00664F"/>
<path d="M159.66 357.07V361.06M157.06 357.07h5.2M157.06 361.06h5.2" stroke="#00664F" stroke-width="1.1" fill="none"/>
<circle cx="159.66" cy="359.07" r="1.9" fill="#00664F"/>
<path d="M183.83 395.21V400.53M181.23 395.21h5.2M181.23 400.53h5.2" stroke="#00664F" stroke-width="1.1" fill="none"/>
<circle cx="183.83" cy="397.87" r="1.9" fill="#00664F"/>
<path d="M208.01 433.09V435.75M205.41 433.09h5.2M205.41 435.75h5.2" stroke="#00664F" stroke-width="1.1" fill="none"/>
<circle cx="208.01" cy="434.42" r="1.9" fill="#00664F"/>
<path d="M62.93 342.05V347.37M60.33 342.05h5.2M60.33 347.37h5.2" stroke="#9C8FD0" stroke-width="1.1" fill="none"/>
<circle cx="62.93" cy="344.71" r="1.9" fill="#9C8FD0"/>
<path d="M87.16 344.05V349.36M84.56 344.05h5.2M84.56 349.36h5.2" stroke="#9C8FD0" stroke-width="1.1" fill="none"/>
<circle cx="87.16" cy="346.71" r="1.9" fill="#9C8FD0"/>
<path d="M111.23 360.26V370.89M108.63 360.26h5.2M108.63 370.89h5.2" stroke="#9C8FD0" stroke-width="1.1" fill="none"/>
<circle cx="111.23" cy="365.58" r="1.9" fill="#9C8FD0"/>
<path d="M135.46 364.38V369.70M132.86 364.38h5.2M132.86 369.70h5.2" stroke="#9C8FD0" stroke-width="1.1" fill="none"/>
<circle cx="135.46" cy="367.04" r="1.9" fill="#9C8FD0"/>
<path d="M159.66 372.36V382.99M157.06 372.36h5.2M157.06 382.99h5.2" stroke="#9C8FD0" stroke-width="1.1" fill="none"/>
<circle cx="159.66" cy="377.67" r="1.9" fill="#9C8FD0"/>
<path d="M183.83 400.53V405.85M181.23 400.53h5.2M181.23 405.85h5.2" stroke="#9C8FD0" stroke-width="1.1" fill="none"/>
<circle cx="183.83" cy="403.19" r="1.9" fill="#9C8FD0"/>
<path d="M208.01 433.75V436.41M205.41 433.75h5.2M205.41 436.41h5.2" stroke="#9C8FD0" stroke-width="1.1" fill="none"/>
<circle cx="208.01" cy="435.08" r="1.9" fill="#9C8FD0"/>
<path d="M62.93 355.34V365.98M60.33 355.34h5.2M60.33 365.98h5.2" stroke="#3C4A5C" stroke-width="1.1" fill="none"/>
<circle cx="62.93" cy="360.66" r="1.9" fill="#3C4A5C"/>
<path d="M87.16 360.66V365.98M84.56 360.66h5.2M84.56 365.98h5.2" stroke="#3C4A5C" stroke-width="1.1" fill="none"/>
<circle cx="87.16" cy="363.32" r="1.9" fill="#3C4A5C"/>
<path d="M111.23 377.94V383.25M108.63 377.94h5.2M108.63 383.25h5.2" stroke="#3C4A5C" stroke-width="1.1" fill="none"/>
<circle cx="111.23" cy="380.59" r="1.9" fill="#3C4A5C"/>
<path d="M135.46 375.68V378.34M132.86 375.68h5.2M132.86 378.34h5.2" stroke="#3C4A5C" stroke-width="1.1" fill="none"/>
<circle cx="135.46" cy="377.01" r="1.9" fill="#3C4A5C"/>
<path d="M159.66 386.84V392.16M157.06 386.84h5.2M157.06 392.16h5.2" stroke="#3C4A5C" stroke-width="1.1" fill="none"/>
<circle cx="159.66" cy="389.50" r="1.9" fill="#3C4A5C"/>
<path d="M183.83 427.11V432.43M181.23 427.11h5.2M181.23 432.43h5.2" stroke="#3C4A5C" stroke-width="1.1" fill="none"/>
<circle cx="183.83" cy="429.77" r="1.9" fill="#3C4A5C"/>
<path d="M208.01 433.75V436.41M205.41 433.75h5.2M205.41 436.41h5.2" stroke="#3C4A5C" stroke-width="1.1" fill="none"/>
<circle cx="208.01" cy="435.08" r="1.9" fill="#3C4A5C"/>
<text x="259.80" y="256.20" font-size="15.2" text-anchor="start" font-weight="bold" fill="#000" >D</text>
<text x="337.50" y="287.10" font-size="13" text-anchor="start" font-weight="normal" fill="#000" textLength="107.7" lengthAdjust="spacingAndGlyphs">Average: 5.7 (HSA)</text>
<g><path fill="#fbe7e7" fill-rule="evenodd" d="M400.4 297.5L400.9 297L410.8 297L425 304.9L429 306.2L432.5 306.5L439 305.6L447 303.3L452.5 300.3L455.9 297L475 297L475 411.9L473.4 407L469.5 399L466.9 395.5L463.7 392.5L459.5 389.9L455.5 388.8L451.5 388.9L447.5 390.4L444.5 392.4L442.2 395L440.7 398L439.8 401.5L439.7 405.5L441.4 417L442.1 431.5L441.9 437L440.7 440.5L439.5 442L437.9 443L430.5 443L427.5 442.4L420.4 443L417.5 442.1L416 441L414.7 439L413.9 436.5L413.5 433L413.9 415L416.1 401.5L415.6 395.5L411.3 379.5L409.9 376L408 373.2L406 371.5L403.5 370.4L401.5 370.4L399.5 371.1L398 372.2L395 376L387.3 396.5L386.7 400L386.6 404.5L388.7 418.5L388.8 425.5L388.2 430L387.2 434L385.8 437L384 439.2L377.4 443L358.9 443L357 442L354.5 441.4L337 439.8L331 440.9L327.4 443L316.3 443L313.7 439L311.8 435L309 425.5L309 421.5L311 417.5L313.5 413.7L317 410.1L320.5 408.6L323.5 408.7L334.5 410.7L337.5 410.5L340 409.9L343.3 408L346.1 405.5L348 403L348.5 400.5L347.9 398.5L346.4 396.5L344 394.6L341.5 393.5L338.5 392.9L334 393L323 395.5L320 395.6L316.5 394L312.2 389.5L309 385.2L309 353.2L316.5 351.2L329.5 349.2L347 349.1L366.5 347.2L384.5 346.8L388 346L389 345L389.5 343.8L390.8 336.5L390.8 332L389.5 322L389.7 318.5L390.5 314.5L391.7 311L393.5 307.2ZM474.9 418.5L475 418.2L475 426.3L473.8 422.5Z"/><path fill="#f9d3d3" fill-rule="evenodd" d="M459.3 297.5L459.7 297L475 297L475 403.8L471.9 398L469.3 394.5L465 390.4L460.5 387.5L456.5 386L453 385.8L449.5 386.6L445.5 388.7L442.5 391.2L440.2 394L438.7 397L437.9 400.5L437.9 406L440 416L440.6 422L440.4 430L439.2 435L437 437.9L433.5 439.6L427.5 439.9L422 439.3L419 437.9L417 435.8L415.7 433L414.9 429L414.7 423L415 416.5L418.1 401L418.1 397.5L417.6 394.5L411.6 374L409.5 370L404.8 363.5L403.8 361.5L403.6 359L402.2 355.5L402.5 349.5L402 347L400.8 345L397.9 341.5L396.9 339.5L396 330.5L394 321L394.4 316L396.2 312L399 308.8L403 306.5L407 305.7L410.5 306.2L414.5 307.9L417.6 310L423 314.6L425.5 316L428 316.6L431.5 316.1L436.5 313.9L450.5 305.4L455.5 301.5ZM426 333.4L424.3 334L423 335.2L422.3 337L422.5 338.5L423.5 339.6L425.5 340.3L427.5 340.4L429 340L430.5 338.5L430.4 336L428.5 333.9ZM359.4 351L371.5 351.1L382.7 353L394.1 357.5L396.5 359.4L397.3 361.5L396.7 365L392.8 374L389.3 384.5L385.4 394L384.4 398L384.3 405.5L386.9 417L387.4 421L387.2 425L386.3 429L384.1 433.5L381.1 436.5L375.5 439.5L370.5 441L368 441.1L364.5 440.5L341 433.9L336.5 433.7L329 434.5L324.4 434L321.5 432.7L319.5 431L317.6 428L316.7 425L316.7 422.5L317.5 420L319 417.5L321 415.8L323 414.9L326 414.3L336 414.8L341 413.8L344 412.2L347.6 409.5L356 401.5L353.8 398L350.6 394.5L347.3 392L344 390.4L341 389.7L338 389.6L327 390.5L323.5 390.5L320.5 389.8L317.6 388L313.1 382.5L311.8 380L311 377.5L310.5 373.5L310.6 369.5L311.2 366L312.3 363L314.4 360.5L317.5 358.3L323.6 355.5L328 354L333 353.2L344 352.9Z"/><path fill="#f8bfc0" fill-rule="evenodd" d="M463.3 297.5L463.9 297L475 297L475 397.3L471.4 393L466.5 388.5L461.5 384.8L457.5 382.9L454 382.2L451 382.5L448 383.8L444.5 386.2L441 389.3L438.2 392.5L436.6 395.5L435.8 399L435.6 402.5L435.9 406L438.7 416L439.5 421L439.3 427.5L438.1 432L436 435.1L433 436.9L428.5 437.7L423.5 437L420.5 435.7L418.5 433.8L417 431L416 427L415.7 422.5L416.1 417.5L416.9 413.5L419.6 404.5L420.3 397L419.6 393L416.2 383.5L412.2 366L411.8 361L412.6 355.5L414.8 351L418 348.2L422.1 346.5L431.5 344.5L434 343.4L435.8 342L436.7 340.5L437.2 338.5L435.6 328L435.8 325.5L436.6 323.5L442.3 317ZM402.9 311.5L405 311.1L407 311.2L409 311.8L410.9 313L413.7 316.5L415 321L414.9 324.5L413.6 327.5L409.5 332.6L406 335.6L405.6 335.5L405.3 333.5L404.1 330.5L399.2 322.5L398 319L398.2 316.5L399.1 314.5L400.5 312.8ZM354.5 354.5L359 354.2L363.5 354.4L380.5 357.1L383.2 358.5L387.1 361.5L389 364L389.8 366.5L389.9 371.5L388.5 379.5L386.9 384.5L382.5 394L381.5 399L381.9 406.5L385.9 420L386 423L385.6 425.5L383.9 429.5L381 432.9L377.5 435.2L372.5 436.9L367 437.2L361 436L350.5 432.2L340 426.6L337.5 426.2L332 427.3L330 427.2L327.6 426L326.4 424L326.5 422.5L326.9 421.5L327.9 420.5L329.5 419.7L332 419.4L338.5 420.5L340.5 419.8L343 418.2L356.5 406L358.6 403L358.9 400L357.7 397L354.8 393.5L350.5 389.9L346 387.4L341 386.2L327.5 386.5L324 385.7L321.5 384.3L318.8 381L317.3 377L317.1 372.5L318.1 368.5L319.8 365.5L322.5 362.5L326.8 359.5L330.5 357.6L333 357.1L342 356.7Z"/><path fill="#f6adaf" fill-rule="evenodd" d="M467.9 297.5L468.6 297L475 297L475 392.4L462 381.3L456.5 377.8L454 377L452 376.9L450 377.6L447.5 379.4L436 391L434.2 393.5L433.1 396.5L433 400.5L433.5 405.5L437.3 415.5L438.3 420L438.3 425.5L437.2 430L435 433.1L432 435L428 435.6L424 435L421 433.5L419 431.3L417.6 428.5L416.9 424.5L416.8 420.5L417.4 417L418.5 413.2L421.7 405.5L423.1 396.5L422.4 393L418.3 384L417.2 379L416.5 368L416.8 364L417.7 360.5L419.9 356L423.5 353.1L429 351.4L435.5 351.2L439.5 351.9L441.3 353L443.9 360.5L445.5 362.8L447.5 364.6L449.5 365.4L451 365.3L453 364.5L454.5 363.1L455.4 361.5L455.7 359.5L455.5 358L454.5 356.2L451.5 353.6L445.9 351L444.6 349.5L444.3 343L442.2 332L442.4 327L443.2 324.5L445.2 321L453.1 311L463 301.3ZM403.7 315L405.5 315.3L406.7 316.5L406.9 318L405.5 319.5L403.5 319.4L402.1 318L401.9 317L402.2 316ZM355.3 357.5L360 357.8L366.5 359.5L375.4 361L378.5 361.9L381 363.4L383.5 365.6L385 367.8L386 370.5L386.5 376L385.7 381L384.4 384.5L379.1 394L378.1 397L377.8 399.5L378.1 403.5L378.8 406.5L384.3 419.5L384.6 422L384.4 424L383.3 427L381 429.8L378 431.9L374 433.4L370.5 434L367 434L359 432.2L354.9 430.5L351.5 428.5L349.3 426.5L348.1 424.5L347.7 421.5L349.1 418L351.6 415L359.7 407L362.2 403L362.6 401L362.3 398.5L361 395.5L359.1 393L354 388.4L346 383.3L340.5 382.1L332 382.5L329.5 382.1L326 380.2L324.7 378.5L324.2 377L324.1 373.5L325.5 369.6L327.9 366.5L331.5 363.5L334.5 362.2L346 359.9Z"/><path fill="#f49d9f" fill-rule="evenodd" d="M473.6 297.5L475 297L475 388.5L471 385.7L468 383L463.4 377.5L461.2 374L460.1 370L461.1 362.5L460.6 358.5L458.6 354.5L453.2 347.5L451.2 344L447.7 335L446.9 330L447.4 326.5L448.9 322.5L456.4 311L460.5 306.7L465.5 302.3L469.5 299.6ZM426.9 357L429 356.8L431 357.2L433.5 358.5L435.5 360.1L442.3 368.5L443.5 371L444 373.5L443.7 376L442.7 378.5L439 384L433 389.9L430.5 391.6L428.5 392.3L427 392L425.5 391L422 387L419.8 382.5L419 378L419.6 371L422.5 362.5L424.2 359L425.5 357.7ZM353.7 363L357.5 362.6L362.5 364.1L374.5 366.5L379.5 368.9L382.1 372L383.1 374.5L383.7 377.5L383.6 380L383 382L381.5 384.5L378 388.9L373.5 393.9L371 396L369.5 396.3L368 395.6L360.6 389L352.5 383.3L347.5 378.6L341.3 375L339.1 373L338.8 372L339.2 370.5L341.6 368L346.6 365.5ZM426.6 399.5L428 399.1L429.5 400.4L430.2 405.5L435.7 415L436.8 418L437.4 421.5L437 426.2L435.4 430L432.5 432.7L428.5 433.8L424.5 433.3L421 431.2L418.8 428L417.8 423.5L418 419.5L419 415.7L420.5 412.6L424.7 406L425.6 401ZM369.8 404.5L371.5 404.8L373.5 406.4L381.5 417.2L383.2 421.5L383.1 423.5L382.3 425.5L380.5 427.5L378 429.2L374.5 430.4L371 430.9L367 430.8L362.5 430L358 428.6L354.8 427L352.7 425L351.8 423L351.8 421L352.9 418.5L355 416L359.5 411.9L367 405.9Z"/><path fill="#f28e90" fill-rule="evenodd" d="M473.9 300L475 299.5L475 385L472.5 383.5L470.5 381.5L468.9 379L467.7 375.5L467.3 371L469 363.5L468.8 360.5L467.1 358L458.5 348L455.3 343.5L453.7 340.5L451.7 334.5L450.9 330L451.2 326.5L452.5 322.5L455.2 317L458.1 312.5L461.5 308.6L465.5 305.1L469.5 302.3ZM429.1 366L430.5 365.9L432.5 366.5L436 369.1L438.4 372.5L439.1 376L438.2 380L435.7 384L432 387L428.5 388L425.5 387.1L423 384.8L421.4 381.5L421 378L421.6 374.5L423.5 370.7L426.5 367.4ZM363.2 371.5L370.5 371.6L374.5 372.3L376.5 373.1L378.5 374.6L380.3 377L381.1 379.5L380.8 381L379 383L375 385.9L372.5 387.1L370 387.6L366.5 386.9L355.2 381.5L354.1 380L353.9 378.5L354.1 377L355 375.2L358 372.9ZM426.1 410L427.5 409.7L429 410.1L432 412.3L434.7 416L436.2 420.5L436.1 425L434.7 428.5L432.2 431L429 432.1L425 431.8L422 430.1L420 427.5L418.9 424L419.1 419.5L420.5 415.6L423 412.1ZM367.1 412.5L369.5 412.2L372 412.6L374.5 413.8L378 416.5L380.5 419.1L381.6 421L381.8 423L381 424.7L379.5 425.9L377 427L371 427.6L361.5 426.2L357.5 425L355.5 423.9L354.9 423L354.9 421.5L357 418.8L362 414.9Z"/><path fill="#f18284" fill-rule="evenodd" d="M474.9 302L475 356.8L471 354.8L467 352L463 348.3L459.5 344.3L457.6 341.5L456.2 338.5L454.6 333L454.2 329.5L454.6 325.5L455.7 321.5L457.8 317L460.3 313L463.5 309.5L467 306.5L471 303.9ZM474.9 372L475 381.8L473.5 380.5L472.8 378L473.3 375ZM427.4 372.5L430 372L432.5 372.8L434.3 374.5L435.2 377L435.1 379.5L434 382L432 384.1L429.5 385.2L427.5 385.2L425.5 384.3L423.7 382.5L423 380.5L423 378L423.7 376L425.2 374ZM427.4 412.5L430 413.2L432.8 415.5L434.5 418.5L435.3 422L434.8 425.5L433.5 428L431 430L428 430.7L425 430.3L422.2 428.5L420.5 425.9L419.8 422.5L420.4 419L422 415.8L424.5 413.4ZM372.1 419L375 419.2L378 420.1L380 421.4L380.5 422.2L380.4 423L379 424L377 424.2L375 424L372.1 423L370 421.5L369.6 420.5L370.5 419.5Z"/><path fill="#f0787a" fill-rule="evenodd" d="M474.5 304.5L475 304.3L475 353.1L471 351L467.5 348.6L464.1 345.5L461.5 342.5L459.6 339.5L458.5 336.5L457.5 332.5L457.2 329L457.4 325.5L458.3 321.5L459.7 318L461.8 314.5L464.2 311.5L467 308.9L470.5 306.5ZM428 376L429.5 376L430.6 376.5L431.5 377.5L432 379L431.8 380.5L431 381.7L430 382.6L428.5 383L426 382.3L425.3 381.5L424.7 380L425.5 377.5L426.5 376.6ZM427.4 414.5L430 415.1L432 416.7L433.5 419L434.2 422L433.8 425L432.5 427.2L430.5 428.7L428 429.4L425.5 429.1L423 427.6L421.5 425.4L420.9 422.5L421.3 419.5L422.7 417L425 415.1Z"/><path fill="#ef6b6d" fill-rule="evenodd" d="M475 306.5L475 350L468.3 346L465.5 343.5L463.5 341L462.2 338.5L460.9 335L459.9 328L460.2 324.5L460.9 321L462.1 318L463.8 315L466 312.3L468.5 310L471.5 308.1ZM427.4 379L428.2 379L428.8 379.5L428.8 380.5L428 381.1L426.7 380.5L426.8 379.5ZM425.7 416.5L428 416.2L430 416.8L431.9 418.5L432.9 420.5L433.2 423L432.6 425L431.5 426.6L429.5 427.8L427 428.1L425 427.5L423.5 426.4L422.3 424.5L421.9 422.5L422.3 420L423.5 418Z"/><path fill="#ed5b5d" fill-rule="evenodd" d="M473.9 309L475 308.6L475 347.1L469.7 344L466 340L463.7 334.5L462.6 327.5L463.2 321.5L465.2 316.5L468.9 312ZM425.6 418L427.5 417.6L429 417.8L430.5 418.7L431.8 420.5L432.1 422L431.9 424L431 425.5L429.5 426.6L428 427L426 426.7L424.5 425.9L423.4 424.5L422.9 423L423.1 421L424 419.3Z"/><path fill="#ec4a4c" fill-rule="evenodd" d="M473.7 311L475 310.5L475 344L470.8 341.5L468.1 338L466.2 332.5L465.3 326L465.7 321L467.2 317L470 313.3ZM426.5 419L429 419.2L430.1 420L431 421.5L430.7 424L430 425L428.5 425.8L426 425.6L425 424.9L424.1 423.5L424.2 421L425 419.9Z"/><path fill="#ea3c3e" fill-rule="evenodd" d="M474.6 312.5L475 312.4L475 340.9L472.3 339L470.5 336L468.7 329.5L468 323.5L468.4 319.5L469.7 316.5L471.8 314ZM426 420.5L428 420.1L429.6 421L430 423L429 424.5L427 424.9L425.5 424L425 422Z"/><path fill="#e93030" fill-rule="evenodd" d="M474 314.5L475 314.1L475 337.2L471.5 325.4L470.9 321.5L471 319L471.7 317L472.7 315.5ZM426.4 421.5L427.5 421.1L428.6 421.5L429 422.5L428.6 423.5L427.5 423.9L426.4 423.5L426 422.5Z"/><path fill="#e82425" fill-rule="evenodd" d="M474.6 316L475 315.8L475 320.9L473.8 318L473.9 317ZM427 422.5L427.5 422.1L428 422.5L427.5 423Z"/><path fill="#e8f2e4" fill-rule="evenodd" d="M345 297.5L345.8 297L386.5 297L386.2 306.5L384 323L385.9 336L385.4 338.5L384 340.5L382 341.9L379.5 342.6L368.5 343.1L357.5 344.8L353 345.1L339 344.2L328 344.3L314 343.1L309 341.6L309 332.7L312 329.4L315.5 326.5L318.5 324.8L321.5 324L334 323.9L336.4 323L338.2 321.5L339.3 319.5L339.4 317.5L338.8 314.5L336.8 309L336.8 306.5L337.7 304.5L339.3 302.5ZM432 297L451.7 297L448 298.4L442.5 298.9L437.5 298.4ZM400.9 374.5L403 374.2L405.5 374.9L407.5 376.5L408.8 378.5L410.9 387.5L413.8 396.5L414.2 402L412.6 413L412.3 427L411.3 432.5L410 436.8L408.5 439.1L406.5 440.4L399.5 442.3L396.5 442.6L394.5 442.3L392.6 441L391.5 439.3L390.9 437L390.2 419L389 406.5L389 401.5L390.2 395.5L393.6 387L396.1 379.5L398 376.5ZM451.5 391.5L454.5 391.3L457.5 391.8L460.5 393.2L463.5 395.4L465.5 397.6L467.4 400.5L471.2 409.5L472.1 415L471.3 423L471.7 430L471.4 433.5L469.8 439L468.5 441.1L466.7 443L455.9 443L450 440.5L448 439.4L446.6 438L444.6 433.5L442.9 424.5L442.5 414.5L441.5 405.5L441.8 401.5L442.9 398L445 395L448 392.7ZM309 393L312.4 398L313.4 401.5L312.5 405L309 410.8ZM332.5 396.5L337.5 396.5L339.5 397.3L341.1 398.5L341.9 400L342.1 401.5L341.4 403.5L340.1 405L337.5 406.5L334 406.9L330 406L327.1 404L326.2 402L326.9 399.5L329.3 397.5Z"/><path fill="#deecd6" fill-rule="evenodd" d="M359.1 309L365 309.4L371 311.3L372.5 312.2L373.6 313.5L374.3 315L374.3 316.5L373 319.5L368.6 325.5L368.2 327.5L368.1 332L367 334L363.8 337L360.3 339.5L357.5 340.6L354.5 340.8L351.5 339.9L348.6 338L347 335.5L346.9 333L347.6 331L350.9 325.5L352.2 322.5L352.7 320L352.6 315.5L353.5 312.7L355.8 310ZM375.9 335L377.5 334.7L379.5 335.4L380.6 336.5L380.7 338L379.5 338.7L377.4 338L375.9 336.5L375.7 335.5ZM331.9 335.5L333.5 335.5L334.5 336.1L334.8 337.5L334 338.5L332 339L330.5 338L330.5 336.5ZM402.6 377L405 377.4L407 379.5L407.5 381.5L408.2 388L412 398L412.3 402.5L411 412.5L411.5 423L410.5 428.8L408 433.8L406.5 435.4L404.5 436.6L400 437.3L397.5 436.8L395.5 435.5L394 433.5L392.7 430L391.9 423.5L391.2 403L392.3 397L396.6 387.5L398.6 380.5L400.3 378ZM450.6 394L453.5 393.6L456.5 394L459 395L461.7 397L463.9 399.5L465.6 402.5L467.5 407L468.7 411L469.2 418L468.5 426.5L467.6 430.5L466.5 433L464.5 435.4L462.5 436.8L460 437.7L457.5 437.9L454.5 437.6L451.5 436.7L449.5 435.5L448 434.2L446.5 432L444.3 426L443.9 422L443.9 413.5L443.3 405L443.5 402L444.5 399L446 396.8L448 395.2ZM331.6 400L333 399.7L334.1 400L335.2 401L335.1 402L333.5 403.1L331.5 402.8L330.7 401.5L331 400.5Z"/><path fill="#d3e6c8" fill-rule="evenodd" d="M402.5 379.5L404 379.3L405 380.5L404.5 382.4L403 383.5L402 382.8L401.6 381.5L401.8 380.5ZM402.2 389L404 389.6L407 392.7L409 395.7L410.2 399L410.5 403L409.3 411.5L410.5 422L409.8 426.5L408 430.1L405 432.9L401.5 433.8L398 432.9L396.5 431.7L395.2 430L393.7 425.5L393.3 420L393.8 412L393.6 403.5L394.3 399L395.5 396L397.5 393L400.5 389.9ZM451 396L453.5 395.7L456 396.2L458.5 397.5L460.5 399.2L462.2 401.5L463.9 405L466.2 413L466.6 420.5L466 424.8L465 428L463.6 430.5L462 432.2L460 433.4L457.5 434.1L453 433.9L449.5 432.1L446.6 428.5L445.1 424L445 420.5L445.6 412L445.2 405L445.4 402L446.1 400L447.5 398L449 396.8Z"/><path fill="#c7e0b8" fill-rule="evenodd" d="M400.6 395L402 394.6L403.5 394.6L406 395.9L408 398.5L408.7 401.5L407 411L409.2 420L409.1 424.5L408.1 427L406.5 429.1L404.5 430.5L402 431.1L399.3 430.5L397 428.6L395.5 425.7L394.9 422L395.1 418.5L396.4 411L396.1 403.5L396.3 401L397.8 397.5ZM450.8 398L453 397.7L455 398.2L457 399.3L458.6 401L461.3 406.5L463.9 415.5L464.1 421L462.9 426L461.7 428L460.3 429.5L458.5 430.6L456.5 431.3L453 431.2L450 429.8L447.5 427L446.2 423.5L446.2 420L447.7 411L447.3 402L448.5 399.5Z"/><path fill="#b9d9a3" fill-rule="evenodd" d="M401.5 398L403.5 397.8L405 398.4L406.1 399.5L406.8 401.5L406.5 403.3L405.5 405.3L403.5 407.7L402 408.5L401 407.9L400 406.5L399.2 404.5L398.9 402.5L399.5 399.8ZM450.5 400L452 399.6L453.5 399.9L455.8 402L460.5 414.5L461.5 418L461.5 421.5L460.5 425L458.5 427.5L455.5 428.9L452.5 428.8L450 427.6L448.2 425.5L447.3 423L447.5 419.5L450.6 410.5L450.5 408L449.2 402.5L449.5 401ZM401.5 411.5L402 411.4L403 412L405.5 415.1L407.5 418.6L408.3 421.5L408.1 424L406.8 426.5L405 428.1L402.5 428.8L400.5 428.5L398.5 427.2L397.1 425L396.5 422.5L396.7 419.5L397.7 416.5L399.5 413.4Z"/><path fill="#aad28c" fill-rule="evenodd" d="M402.6 400.5L404 400.4L404.6 401L404.7 402L404 402.8L403 402.9L402.3 402.5L402 401.5ZM453.2 415L455 414.7L457 415.9L458.3 418L458.9 420.5L458.6 423L457.5 425L455.5 426.5L453.5 426.9L451.5 426.5L450 425.7L448.7 424L448.4 422.5L448.6 420.5L449.5 418.6L451.5 416.1ZM400.7 417L402.5 416.6L404 417L405.5 418.3L406.9 420.5L407.2 422.5L406.9 424L405.5 425.9L404 426.7L402.5 427L400.7 426.5L399.4 425.5L398.5 423.9L398.2 422L398.5 420L399.5 418.1Z"/><path fill="#9ecc77" fill-rule="evenodd" d="M452 419L453.5 418.7L454.5 419L455.5 419.9L456 421L455.5 423.5L453.5 424.9L451 424.7L449.6 423L450 420.7ZM401.4 419.5L403.5 419.2L405.5 420.7L406 423L405.5 424.1L404.5 425L402.5 425.3L400.5 424L400 423L400 421.5Z"/><path fill="#92c663" fill-rule="evenodd" d="M402.1 421.5L403.5 421L404.5 421.5L404.9 422.5L404.5 423.4L403.5 423.9L402.3 423.5L401.8 422.5ZM451.8 421.5L452.5 421.6L452.9 422.5L452.5 423.1L451.5 423.4L450.7 422.5L451 421.9Z"/></g>
<rect x="308.20" y="295.40" width="167.20" height="148.30" fill="none" stroke="#000" stroke-width="1.3"/>
<line x1="308.00" y1="294.70" x2="308.00" y2="444.60" stroke="#000" stroke-width="1.8" />
<line x1="307.30" y1="443.80" x2="476.00" y2="443.80" stroke="#000" stroke-width="1.8" />
<line x1="303.60" y1="295.40" x2="307.80" y2="295.40" stroke="#000" stroke-width="1.2" />
<text x="299.80" y="298.85" font-size="9.8" text-anchor="end" font-weight="normal" fill="#000" textLength="29.98" lengthAdjust="spacingAndGlyphs">10000</text>
<line x1="303.60" y1="316.60" x2="307.80" y2="316.60" stroke="#000" stroke-width="1.2" />
<text x="299.80" y="320.05" font-size="9.8" text-anchor="end" font-weight="normal" fill="#000" textLength="23.98" lengthAdjust="spacingAndGlyphs">3333</text>
<line x1="303.60" y1="337.80" x2="307.80" y2="337.80" stroke="#000" stroke-width="1.2" />
<text x="299.80" y="341.25" font-size="9.8" text-anchor="end" font-weight="normal" fill="#000" textLength="21.58" lengthAdjust="spacingAndGlyphs">1111</text>
<line x1="303.60" y1="359.00" x2="307.80" y2="359.00" stroke="#000" stroke-width="1.2" />
<text x="299.80" y="362.45" font-size="9.8" text-anchor="end" font-weight="normal" fill="#000" textLength="17.99" lengthAdjust="spacingAndGlyphs">370</text>
<line x1="303.60" y1="380.20" x2="307.80" y2="380.20" stroke="#000" stroke-width="1.2" />
<text x="299.80" y="383.65" font-size="9.8" text-anchor="end" font-weight="normal" fill="#000" textLength="17.99" lengthAdjust="spacingAndGlyphs">124</text>
<line x1="303.60" y1="401.40" x2="307.80" y2="401.40" stroke="#000" stroke-width="1.2" />
<text x="299.80" y="404.85" font-size="9.8" text-anchor="end" font-weight="normal" fill="#000" textLength="20.98" lengthAdjust="spacingAndGlyphs">41.2</text>
<line x1="303.60" y1="422.60" x2="307.80" y2="422.60" stroke="#000" stroke-width="1.2" />
<text x="299.80" y="426.05" font-size="9.8" text-anchor="end" font-weight="normal" fill="#000" textLength="20.98" lengthAdjust="spacingAndGlyphs">13.7</text>
<line x1="303.60" y1="443.80" x2="307.80" y2="443.80" stroke="#000" stroke-width="1.2" />
<text x="299.80" y="447.25" font-size="9.8" text-anchor="end" font-weight="normal" fill="#000" textLength="6.00" lengthAdjust="spacingAndGlyphs">0</text>
<line x1="308.50" y1="444.00" x2="308.50" y2="448.50" stroke="#000" stroke-width="1.2" />
<text x="308.50" y="460.80" font-size="10.4" text-anchor="middle" font-weight="normal" fill="#000" textLength="3.8" lengthAdjust="spacingAndGlyphs">0</text>
<line x1="332.30" y1="444.00" x2="332.30" y2="448.50" stroke="#000" stroke-width="1.2" />
<text x="332.30" y="460.80" font-size="10.4" text-anchor="middle" font-weight="normal" fill="#000" textLength="13.8" lengthAdjust="spacingAndGlyphs">13.7</text>
<line x1="356.10" y1="444.00" x2="356.10" y2="448.50" stroke="#000" stroke-width="1.2" />
<text x="356.10" y="460.80" font-size="10.4" text-anchor="middle" font-weight="normal" fill="#000" textLength="14.3" lengthAdjust="spacingAndGlyphs">41.2</text>
<line x1="379.90" y1="444.00" x2="379.90" y2="448.50" stroke="#000" stroke-width="1.2" />
<text x="379.90" y="460.80" font-size="10.4" text-anchor="middle" font-weight="normal" fill="#000" textLength="11.6" lengthAdjust="spacingAndGlyphs">124</text>
<line x1="403.70" y1="444.00" x2="403.70" y2="448.50" stroke="#000" stroke-width="1.2" />
<text x="403.70" y="460.80" font-size="10.4" text-anchor="middle" font-weight="normal" fill="#000" textLength="11.9" lengthAdjust="spacingAndGlyphs">370</text>
<line x1="427.50" y1="444.00" x2="427.50" y2="448.50" stroke="#000" stroke-width="1.2" />
<text x="427.50" y="460.80" font-size="10.4" text-anchor="middle" font-weight="normal" fill="#000" textLength="11.6" lengthAdjust="spacingAndGlyphs">1111</text>
<line x1="451.30" y1="444.00" x2="451.30" y2="448.50" stroke="#000" stroke-width="1.2" />
<text x="451.30" y="460.80" font-size="10.4" text-anchor="middle" font-weight="normal" fill="#000" textLength="15.8" lengthAdjust="spacingAndGlyphs">3333</text>
<line x1="475.10" y1="444.00" x2="475.10" y2="448.50" stroke="#000" stroke-width="1.2" />
<text x="476.60" y="460.80" font-size="10.4" text-anchor="middle" font-weight="normal" fill="#000" textLength="19.2" lengthAdjust="spacingAndGlyphs">10000</text>
<text x="367.90" y="477.40" font-size="12.8" text-anchor="start" font-weight="bold" fill="#000" textLength="47.1" lengthAdjust="spacingAndGlyphs">DORA (nM)</text>
<text x="268.30" y="370.00" font-size="11.8" text-anchor="middle" font-weight="bold" fill="#000" textLength="38" lengthAdjust="spacingAndGlyphs" transform="rotate(-90 268.30 370.00)">VEN (nM)</text>
<g><rect x="478.90" y="297.00" width="7.90" height="2" fill="#e81c1e"/><rect x="478.90" y="299.00" width="7.90" height="5" fill="#e82425"/><rect x="478.90" y="304.00" width="7.90" height="5" fill="#e93030"/><rect x="478.90" y="309.00" width="7.90" height="5" fill="#ea3c3e"/><rect x="478.90" y="314.00" width="7.90" height="5" fill="#ec4a4c"/><rect x="478.90" y="319.00" width="7.90" height="5" fill="#ed5b5d"/><rect x="478.90" y="324.00" width="7.90" height="4" fill="#ef6b6d"/><rect x="478.90" y="328.00" width="7.90" height="5" fill="#f0787a"/><rect x="478.90" y="333.00" width="7.90" height="5" fill="#f18284"/><rect x="478.90" y="338.00" width="7.90" height="5" fill="#f28e90"/><rect x="478.90" y="343.00" width="7.90" height="5" fill="#f49d9f"/><rect x="478.90" y="348.00" width="7.90" height="5" fill="#f6adaf"/><rect x="478.90" y="353.00" width="7.90" height="4" fill="#f8bfc0"/><rect x="478.90" y="357.00" width="7.90" height="5" fill="#f9d3d3"/><rect x="478.90" y="362.00" width="7.90" height="5" fill="#fbe7e7"/><rect x="478.90" y="372.00" width="7.90" height="5" fill="#e8f2e4"/><rect x="478.90" y="377.00" width="7.90" height="5" fill="#deecd6"/><rect x="478.90" y="382.00" width="7.90" height="4" fill="#d3e6c8"/><rect x="478.90" y="386.00" width="7.90" height="5" fill="#c7e0b8"/><rect x="478.90" y="391.00" width="7.90" height="5" fill="#b9d9a3"/><rect x="478.90" y="396.00" width="7.90" height="5" fill="#aad28c"/><rect x="478.90" y="401.00" width="7.90" height="5" fill="#9ecc77"/><rect x="478.90" y="406.00" width="7.90" height="5" fill="#92c663"/><rect x="478.90" y="411.00" width="7.90" height="4" fill="#87c150"/><rect x="478.90" y="415.00" width="7.90" height="5" fill="#81bf4d"/><rect x="478.90" y="420.00" width="7.90" height="5" fill="#7cbe49"/><rect x="478.90" y="425.00" width="7.90" height="5" fill="#76bc46"/><rect x="478.90" y="430.00" width="7.90" height="5" fill="#73bc47"/><rect x="478.90" y="435.00" width="7.90" height="5" fill="#6fbb47"/><rect x="478.90" y="440.00" width="7.90" height="2" fill="#6cbb48"/></g>
<text x="489.80" y="300.70" font-size="10" text-anchor="start" font-weight="normal" fill="#000" >30</text>
<text x="489.80" y="324.67" font-size="10" text-anchor="start" font-weight="normal" fill="#000" >20</text>
<text x="489.80" y="348.64" font-size="10" text-anchor="start" font-weight="normal" fill="#000" >10</text>
<text x="489.80" y="372.61" font-size="10" text-anchor="start" font-weight="normal" fill="#000" >0</text>
<text x="489.80" y="396.58" font-size="10" text-anchor="start" font-weight="normal" fill="#000" >−10</text>
<text x="489.80" y="420.55" font-size="10" text-anchor="start" font-weight="normal" fill="#000" >−20</text>
<text x="489.80" y="444.52" font-size="10" text-anchor="start" font-weight="normal" fill="#000" >−30</text>
<text x="492.50" y="280.20" font-size="9.5" text-anchor="middle" font-weight="normal" fill="#000" >Synergy</text>
<text x="492.50" y="288.60" font-size="9.5" text-anchor="middle" font-weight="normal" fill="#000" >score</text>
<text x="9.50" y="508.70" font-size="15.2" text-anchor="start" font-weight="bold" fill="#000" >E</text>
<text x="124.80" y="511.00" font-size="12.4" text-anchor="start" font-weight="normal" fill="#000" textLength="89.4" lengthAdjust="spacingAndGlyphs">AML 20−00494</text>
<text x="90.40" y="526.60" font-size="10.6" text-anchor="middle" font-weight="normal" fill="#000" >DORA</text>
<text x="171.20" y="526.60" font-size="10.6" text-anchor="middle" font-weight="normal" fill="#000" >VEN</text>
<text x="251.20" y="526.60" font-size="10.6" text-anchor="middle" font-weight="normal" fill="#000" >VEN+DORA</text>
<line x1="53.30" y1="526.80" x2="53.30" y2="662.70" stroke="#000" stroke-width="1.3" />
<line x1="52.70" y1="662.00" x2="128.80" y2="662.00" stroke="#000" stroke-width="1.3" />
<line x1="134.20" y1="662.00" x2="208.80" y2="662.00" stroke="#000" stroke-width="1.3" />
<line x1="213.70" y1="662.00" x2="289.20" y2="662.00" stroke="#000" stroke-width="1.3" />
<line x1="49.00" y1="656.00" x2="53.30" y2="656.00" stroke="#000" stroke-width="1.1" />
<text x="44.60" y="659.50" font-size="9.8" text-anchor="end" font-weight="normal" fill="#000" textLength="6.16" lengthAdjust="spacingAndGlyphs">0</text>
<line x1="49.00" y1="631.29" x2="53.30" y2="631.29" stroke="#000" stroke-width="1.1" />
<text x="44.60" y="634.79" font-size="9.8" text-anchor="end" font-weight="normal" fill="#000" textLength="12.32" lengthAdjust="spacingAndGlyphs">20</text>
<line x1="49.00" y1="606.58" x2="53.30" y2="606.58" stroke="#000" stroke-width="1.1" />
<text x="44.60" y="610.08" font-size="9.8" text-anchor="end" font-weight="normal" fill="#000" textLength="12.32" lengthAdjust="spacingAndGlyphs">40</text>
<line x1="49.00" y1="581.87" x2="53.30" y2="581.87" stroke="#000" stroke-width="1.1" />
<text x="44.60" y="585.37" font-size="9.8" text-anchor="end" font-weight="normal" fill="#000" textLength="12.32" lengthAdjust="spacingAndGlyphs">60</text>
<line x1="49.00" y1="557.16" x2="53.30" y2="557.16" stroke="#000" stroke-width="1.1" />
<text x="44.60" y="560.66" font-size="9.8" text-anchor="end" font-weight="normal" fill="#000" textLength="12.32" lengthAdjust="spacingAndGlyphs">80</text>
<line x1="49.00" y1="532.45" x2="53.30" y2="532.45" stroke="#000" stroke-width="1.1" />
<text x="44.60" y="535.95" font-size="9.8" text-anchor="end" font-weight="normal" fill="#000" textLength="18.48" lengthAdjust="spacingAndGlyphs">100</text>
<rect x="59.25" y="607.82" width="30.25" height="48.18" fill="#C8102E" stroke="none" stroke-width="1"/>
<line x1="74.38" y1="662.00" x2="74.38" y2="666.00" stroke="#000" stroke-width="1.1" />
<text x="74.38" y="677.50" font-size="10.2" text-anchor="middle" font-weight="normal" fill="#000" >MNCs</text>
<rect x="93.25" y="544.80" width="30.50" height="111.20" fill="#C8102E" stroke="none" stroke-width="1"/>
<line x1="108.50" y1="662.00" x2="108.50" y2="666.00" stroke="#000" stroke-width="1.1" />
<text x="108.50" y="677.50" font-size="10.2" text-anchor="middle" font-weight="normal" fill="#000" >Stroma</text>
<rect x="139.25" y="598.55" width="30.25" height="57.45" fill="#134F85" stroke="none" stroke-width="1"/>
<line x1="154.38" y1="662.00" x2="154.38" y2="666.00" stroke="#000" stroke-width="1.1" />
<text x="154.38" y="677.50" font-size="10.2" text-anchor="middle" font-weight="normal" fill="#000" >MNCs</text>
<rect x="173.25" y="532.45" width="30.75" height="123.55" fill="#134F85" stroke="none" stroke-width="1"/>
<line x1="188.62" y1="662.00" x2="188.62" y2="666.00" stroke="#000" stroke-width="1.1" />
<text x="188.62" y="677.50" font-size="10.2" text-anchor="middle" font-weight="normal" fill="#000" >Stroma</text>
<rect x="219.25" y="645.37" width="30.75" height="10.63" fill="#3CB44F" stroke="none" stroke-width="1"/>
<line x1="234.62" y1="662.00" x2="234.62" y2="666.00" stroke="#000" stroke-width="1.1" />
<text x="234.62" y="677.50" font-size="10.2" text-anchor="middle" font-weight="normal" fill="#000" >MNCs</text>
<rect x="253.60" y="543.57" width="30.65" height="112.43" fill="#3CB44F" stroke="none" stroke-width="1"/>
<line x1="268.93" y1="662.00" x2="268.93" y2="666.00" stroke="#000" stroke-width="1.1" />
<text x="268.93" y="677.50" font-size="10.2" text-anchor="middle" font-weight="normal" fill="#000" >Stroma</text>
<text x="22.00" y="593.80" font-size="12.8" text-anchor="middle" font-weight="normal" fill="#000" textLength="64.5" lengthAdjust="spacingAndGlyphs" transform="rotate(-90 22.00 593.80)" stroke="#000" stroke-width="0.25">AUC (% of max)</text>
<text x="304.00" y="507.00" font-size="15.2" text-anchor="start" font-weight="bold" fill="#000" >F</text>
<line x1="341.20" y1="527.00" x2="341.20" y2="662.70" stroke="#000" stroke-width="1.3" />
<line x1="340.60" y1="662.00" x2="501.70" y2="662.00" stroke="#000" stroke-width="1.3" />
<line x1="336.60" y1="656.20" x2="341.20" y2="656.20" stroke="#000" stroke-width="1.1" />
<text x="332.70" y="659.70" font-size="9.8" text-anchor="end" font-weight="normal" fill="#000" textLength="6.16" lengthAdjust="spacingAndGlyphs">0</text>
<line x1="336.60" y1="631.65" x2="341.20" y2="631.65" stroke="#000" stroke-width="1.1" />
<text x="332.70" y="635.15" font-size="9.8" text-anchor="end" font-weight="normal" fill="#000" textLength="12.32" lengthAdjust="spacingAndGlyphs">20</text>
<line x1="336.60" y1="607.10" x2="341.20" y2="607.10" stroke="#000" stroke-width="1.1" />
<text x="332.70" y="610.60" font-size="9.8" text-anchor="end" font-weight="normal" fill="#000" textLength="12.32" lengthAdjust="spacingAndGlyphs">40</text>
<line x1="336.60" y1="582.55" x2="341.20" y2="582.55" stroke="#000" stroke-width="1.1" />
<text x="332.70" y="586.05" font-size="9.8" text-anchor="end" font-weight="normal" fill="#000" textLength="12.32" lengthAdjust="spacingAndGlyphs">60</text>
<line x1="336.60" y1="558.00" x2="341.20" y2="558.00" stroke="#000" stroke-width="1.1" />
<text x="332.70" y="561.50" font-size="9.8" text-anchor="end" font-weight="normal" fill="#000" textLength="12.32" lengthAdjust="spacingAndGlyphs">80</text>
<line x1="336.60" y1="533.45" x2="341.20" y2="533.45" stroke="#000" stroke-width="1.1" />
<text x="332.70" y="536.95" font-size="9.8" text-anchor="end" font-weight="normal" fill="#000" textLength="18.48" lengthAdjust="spacingAndGlyphs">100</text>
<line x1="348.10" y1="662.00" x2="348.10" y2="666.30" stroke="#000" stroke-width="1.1" />
<text x="348.10" y="677.20" font-size="9.8" text-anchor="middle" font-weight="normal" fill="#000" textLength="12.32" lengthAdjust="spacingAndGlyphs">10</text>
<line x1="397.60" y1="662.00" x2="397.60" y2="666.30" stroke="#000" stroke-width="1.1" />
<text x="397.60" y="677.20" font-size="9.8" text-anchor="middle" font-weight="normal" fill="#000" textLength="18.48" lengthAdjust="spacingAndGlyphs">100</text>
<line x1="447.10" y1="662.00" x2="447.10" y2="666.30" stroke="#000" stroke-width="1.1" />
<text x="447.10" y="677.20" font-size="9.8" text-anchor="middle" font-weight="normal" fill="#000" textLength="24.64" lengthAdjust="spacingAndGlyphs">1000</text>
<line x1="496.60" y1="662.00" x2="496.60" y2="666.30" stroke="#000" stroke-width="1.1" />
<text x="496.60" y="677.20" font-size="9.8" text-anchor="middle" font-weight="normal" fill="#000" textLength="30.80" lengthAdjust="spacingAndGlyphs">10000</text>
<text x="383.60" y="692.40" font-size="12.4" text-anchor="start" font-weight="bold" fill="#000" textLength="76.2" lengthAdjust="spacingAndGlyphs">Concentration (nM)</text>
<text x="312.60" y="595.00" font-size="11.5" text-anchor="middle" font-weight="normal" fill="#000" textLength="100" lengthAdjust="spacingAndGlyphs" transform="rotate(-90 312.60 595.00)" stroke="#000" stroke-width="0.25">Viability (% of untreated)</text>
<text x="350.20" y="653.90" font-size="10.6" text-anchor="start" font-weight="normal" fill="#000" textLength="27.2" lengthAdjust="spacingAndGlyphs">HS−5</text>
<polyline points="354.87,534.14 355.58,534.14 356.29,534.14 357.00,534.14 357.72,534.14 358.43,534.14 359.14,534.13 359.85,534.13 360.57,534.13 361.28,534.13 361.99,534.13 362.70,534.13 363.41,534.12 364.13,534.12 364.84,534.12 365.55,534.12 366.26,534.12 366.98,534.11 367.69,534.11 368.40,534.11 369.11,534.11 369.82,534.10 370.54,534.10 371.25,534.10 371.96,534.10 372.67,534.09 373.39,534.09 374.10,534.09 374.81,534.08 375.52,534.08 376.23,534.08 376.95,534.08 377.66,534.07 378.37,534.07 379.08,534.07 379.80,534.06 380.51,534.06 381.22,534.05 381.93,534.05 382.64,534.05 383.36,534.04 384.07,534.04 384.78,534.03 385.49,534.03 386.21,534.03 386.92,534.02 387.63,534.02 388.34,534.01 389.05,534.01 389.77,534.00 390.48,534.00 391.19,533.99 391.90,533.99 392.62,533.98 393.33,533.98 394.04,533.97 394.75,533.96 395.46,533.96 396.18,533.95 396.89,533.95 397.60,533.94 398.31,533.93 399.03,533.93 399.74,533.92 400.45,533.92 401.16,533.91 401.87,533.90 402.59,533.90 403.30,533.89 404.01,533.88 404.72,533.88 405.44,533.87 406.15,533.86 406.86,533.85 407.57,533.85 408.28,533.84 409.00,533.83 409.71,533.82 410.42,533.82 411.13,533.81 411.85,533.80 412.56,533.79 413.27,533.79 413.98,533.78 414.69,533.77 415.41,533.76 416.12,533.75 416.83,533.75 417.54,533.74 418.26,533.73 418.97,533.72 419.68,533.71 420.39,533.70 421.10,533.70 421.82,533.69 422.53,533.68 423.24,533.67 423.95,533.66 424.67,533.66 425.38,533.65 426.09,533.64 426.80,533.63 427.51,533.62 428.23,533.62 428.94,533.61 429.65,533.60 430.36,533.59 431.08,533.58 431.79,533.58 432.50,533.57 433.21,533.56 433.92,533.55 434.64,533.55 435.35,533.54 436.06,533.53 436.77,533.53 437.49,533.52 438.20,533.51 438.91,533.50 439.62,533.50 440.33,533.49 441.05,533.48 441.76,533.48 442.47,533.47 443.18,533.46 443.90,533.46 444.61,533.45 445.32,533.45 446.03,533.44 446.74,533.43 447.46,533.43 448.17,533.42 448.88,533.42 449.59,533.41 450.31,533.41 451.02,533.40 451.73,533.40 452.44,533.39 453.15,533.39 453.87,533.38 454.58,533.38 455.29,533.37 456.00,533.37 456.72,533.36 457.43,533.36 458.14,533.35 458.85,533.35 459.56,533.35 460.28,533.34 460.99,533.34 461.70,533.33 462.41,533.33 463.13,533.33 463.84,533.32 464.55,533.32 465.26,533.32 465.97,533.31 466.69,533.31 467.40,533.31 468.11,533.30 468.82,533.30 469.54,533.30 470.25,533.30 470.96,533.29 471.67,533.29 472.38,533.29 473.10,533.29 473.81,533.28 474.52,533.28 475.23,533.28 475.95,533.28 476.66,533.27 477.37,533.27 478.08,533.27 478.79,533.27 479.51,533.27 480.22,533.26 480.93,533.26 481.64,533.26 482.36,533.26 483.07,533.26 483.78,533.26 484.49,533.25 485.20,533.25 485.92,533.25 486.63,533.25 487.34,533.25 488.05,533.25 488.77,533.25 489.48,533.24 490.19,533.24 490.90,533.24 491.61,533.24 492.33,533.24 493.04,533.24 493.75,533.24 494.46,533.24 495.18,533.24 495.89,533.23 496.60,533.23" stroke="#C8102E" stroke-width="1.9" fill="none" />
<polyline points="354.87,541.00 355.58,540.94 356.29,540.88 357.00,540.81 357.72,540.75 358.43,540.68 359.14,540.62 359.85,540.55 360.57,540.48 361.28,540.41 361.99,540.34 362.70,540.27 363.41,540.20 364.13,540.13 364.84,540.06 365.55,539.99 366.26,539.91 366.98,539.84 367.69,539.77 368.40,539.69 369.11,539.62 369.82,539.54 370.54,539.46 371.25,539.39 371.96,539.31 372.67,539.24 373.39,539.16 374.10,539.08 374.81,539.00 375.52,538.93 376.23,538.85 376.95,538.77 377.66,538.69 378.37,538.62 379.08,538.54 379.80,538.46 380.51,538.38 381.22,538.31 381.93,538.23 382.64,538.15 383.36,538.07 384.07,538.00 384.78,537.92 385.49,537.84 386.21,537.77 386.92,537.69 387.63,537.62 388.34,537.54 389.05,537.47 389.77,537.40 390.48,537.32 391.19,537.25 391.90,537.18 392.62,537.11 393.33,537.04 394.04,536.97 394.75,536.90 395.46,536.83 396.18,536.76 396.89,536.70 397.60,536.63 398.31,536.56 399.03,536.50 399.74,536.44 400.45,536.37 401.16,536.31 401.87,536.25 402.59,536.19 403.30,536.13 404.01,536.07 404.72,536.01 405.44,535.95 406.15,535.90 406.86,535.84 407.57,535.79 408.28,535.73 409.00,535.68 409.71,535.63 410.42,535.58 411.13,535.53 411.85,535.48 412.56,535.43 413.27,535.38 413.98,535.34 414.69,535.29 415.41,535.25 416.12,535.20 416.83,535.16 417.54,535.12 418.26,535.08 418.97,535.04 419.68,535.00 420.39,534.96 421.10,534.92 421.82,534.88 422.53,534.85 423.24,534.81 423.95,534.77 424.67,534.74 425.38,534.71 426.09,534.67 426.80,534.64 427.51,534.61 428.23,534.58 428.94,534.55 429.65,534.52 430.36,534.49 431.08,534.47 431.79,534.44 432.50,534.41 433.21,534.39 433.92,534.36 434.64,534.34 435.35,534.31 436.06,534.29 436.77,534.27 437.49,534.25 438.20,534.22 438.91,534.20 439.62,534.18 440.33,534.16 441.05,534.14 441.76,534.12 442.47,534.11 443.18,534.09 443.90,534.07 444.61,534.05 445.32,534.04 446.03,534.02 446.74,534.00 447.46,533.99 448.17,533.97 448.88,533.96 449.59,533.94 450.31,533.93 451.02,533.92 451.73,533.90 452.44,533.89 453.15,533.88 453.87,533.87 454.58,533.85 455.29,533.84 456.00,533.83 456.72,533.82 457.43,533.81 458.14,533.80 458.85,533.79 459.56,533.78 460.28,533.77 460.99,533.76 461.70,533.75 462.41,533.74 463.13,533.74 463.84,533.73 464.55,533.72 465.26,533.71 465.97,533.70 466.69,533.70 467.40,533.69 468.11,533.68 468.82,533.68 469.54,533.67 470.25,533.66 470.96,533.66 471.67,533.65 472.38,533.65 473.10,533.64 473.81,533.63 474.52,533.63 475.23,533.62 475.95,533.62 476.66,533.61 477.37,533.61 478.08,533.61 478.79,533.60 479.51,533.60 480.22,533.59 480.93,533.59 481.64,533.58 482.36,533.58 483.07,533.58 483.78,533.57 484.49,533.57 485.20,533.57 485.92,533.56 486.63,533.56 487.34,533.56 488.05,533.55 488.77,533.55 489.48,533.55 490.19,533.54 490.90,533.54 491.61,533.54 492.33,533.54 493.04,533.53 493.75,533.53 494.46,533.53 495.18,533.53 495.89,533.52 496.60,533.52" stroke="#1F5C99" stroke-width="1.9" fill="none" />
<polyline points="354.87,542.66 355.58,542.61 356.29,542.56 357.00,542.51 357.72,542.46 358.43,542.41 359.14,542.36 359.85,542.31 360.57,542.25 361.28,542.20 361.99,542.14 362.70,542.09 363.41,542.03 364.13,541.98 364.84,541.92 365.55,541.86 366.26,541.80 366.98,541.74 367.69,541.68 368.40,541.62 369.11,541.56 369.82,541.50 370.54,541.44 371.25,541.38 371.96,541.31 372.67,541.25 373.39,541.18 374.10,541.12 374.81,541.05 375.52,540.99 376.23,540.92 376.95,540.85 377.66,540.79 378.37,540.72 379.08,540.65 379.80,540.58 380.51,540.51 381.22,540.44 381.93,540.37 382.64,540.30 383.36,540.23 384.07,540.16 384.78,540.09 385.49,540.02 386.21,539.95 386.92,539.88 387.63,539.81 388.34,539.73 389.05,539.66 389.77,539.59 390.48,539.52 391.19,539.44 391.90,539.37 392.62,539.30 393.33,539.23 394.04,539.15 394.75,539.08 395.46,539.01 396.18,538.94 396.89,538.87 397.60,538.79 398.31,538.72 399.03,538.65 399.74,538.58 400.45,538.51 401.16,538.44 401.87,538.37 402.59,538.30 403.30,538.22 404.01,538.15 404.72,538.09 405.44,538.02 406.15,537.95 406.86,537.88 407.57,537.81 408.28,537.74 409.00,537.68 409.71,537.61 410.42,537.54 411.13,537.48 411.85,537.41 412.56,537.35 413.27,537.28 413.98,537.22 414.69,537.16 415.41,537.09 416.12,537.03 416.83,536.97 417.54,536.91 418.26,536.85 418.97,536.79 419.68,536.73 420.39,536.67 421.10,536.62 421.82,536.56 422.53,536.50 423.24,536.45 423.95,536.39 424.67,536.34 425.38,536.28 426.09,536.23 426.80,536.18 427.51,536.13 428.23,536.08 428.94,536.03 429.65,535.98 430.36,535.93 431.08,535.88 431.79,535.83 432.50,535.78 433.21,535.74 433.92,535.69 434.64,535.65 435.35,535.60 436.06,535.56 436.77,535.52 437.49,535.48 438.20,535.44 438.91,535.39 439.62,535.36 440.33,535.32 441.05,535.28 441.76,535.24 442.47,535.20 443.18,535.17 443.90,535.13 444.61,535.09 445.32,535.06 446.03,535.02 446.74,534.99 447.46,534.96 448.17,534.93 448.88,534.89 449.59,534.86 450.31,534.83 451.02,534.80 451.73,534.77 452.44,534.74 453.15,534.72 453.87,534.69 454.58,534.66 455.29,534.63 456.00,534.61 456.72,534.58 457.43,534.56 458.14,534.53 458.85,534.51 459.56,534.48 460.28,534.46 460.99,534.44 461.70,534.42 462.41,534.39 463.13,534.37 463.84,534.35 464.55,534.33 465.26,534.31 465.97,534.29 466.69,534.27 467.40,534.25 468.11,534.24 468.82,534.22 469.54,534.20 470.25,534.18 470.96,534.17 471.67,534.15 472.38,534.13 473.10,534.12 473.81,534.10 474.52,534.09 475.23,534.07 475.95,534.06 476.66,534.04 477.37,534.03 478.08,534.02 478.79,534.00 479.51,533.99 480.22,533.98 480.93,533.97 481.64,533.95 482.36,533.94 483.07,533.93 483.78,533.92 484.49,533.91 485.20,533.90 485.92,533.89 486.63,533.88 487.34,533.87 488.05,533.86 488.77,533.85 489.48,533.84 490.19,533.83 490.90,533.82 491.61,533.81 492.33,533.80 493.04,533.79 493.75,533.78 494.46,533.78 495.18,533.77 495.89,533.76 496.60,533.75" stroke="#3CB44F" stroke-width="1.9" fill="none" />
<polyline points="354.87,600.98 355.58,601.65 356.29,602.33 357.00,603.03 357.72,603.74 358.43,604.46 359.14,605.20 359.85,605.95 360.57,606.72 361.28,607.49 361.99,608.28 362.70,609.08 363.41,609.88 364.13,610.70 364.84,611.53 365.55,612.36 366.26,613.20 366.98,614.05 367.69,614.90 368.40,615.75 369.11,616.61 369.82,617.48 370.54,618.34 371.25,619.20 371.96,620.07 372.67,620.93 373.39,621.79 374.10,622.65 374.81,623.50 375.52,624.35 376.23,625.19 376.95,626.03 377.66,626.85 378.37,627.67 379.08,628.49 379.80,629.29 380.51,630.08 381.22,630.86 381.93,631.62 382.64,632.38 383.36,633.12 384.07,633.85 384.78,634.57 385.49,635.27 386.21,635.96 386.92,636.63 387.63,637.29 388.34,637.93 389.05,638.56 389.77,639.17 390.48,639.77 391.19,640.35 391.90,640.91 392.62,641.46 393.33,642.00 394.04,642.51 394.75,643.02 395.46,643.51 396.18,643.98 396.89,644.44 397.60,644.88 398.31,645.31 399.03,645.73 399.74,646.13 400.45,646.52 401.16,646.89 401.87,647.25 402.59,647.60 403.30,647.94 404.01,648.26 404.72,648.57 405.44,648.87 406.15,649.16 406.86,649.44 407.57,649.71 408.28,649.97 409.00,650.22 409.71,650.45 410.42,650.68 411.13,650.90 411.85,651.11 412.56,651.32 413.27,651.51 413.98,651.70 414.69,651.88 415.41,652.05 416.12,652.21 416.83,652.37 417.54,652.52 418.26,652.67 418.97,652.81 419.68,652.94 420.39,653.07 421.10,653.19 421.82,653.30 422.53,653.42 423.24,653.52 423.95,653.63 424.67,653.72 425.38,653.82 426.09,653.91 426.80,653.99 427.51,654.08 428.23,654.15 428.94,654.23 429.65,654.30 430.36,654.37 431.08,654.44 431.79,654.50 432.50,654.56 433.21,654.62 433.92,654.67 434.64,654.72 435.35,654.77 436.06,654.82 436.77,654.87 437.49,654.91 438.20,654.95 438.91,654.99 439.62,655.03 440.33,655.07 441.05,655.10 441.76,655.13 442.47,655.16 443.18,655.20 443.90,655.22 444.61,655.25 445.32,655.28 446.03,655.30 446.74,655.33 447.46,655.35 448.17,655.37 448.88,655.39 449.59,655.41 450.31,655.43 451.02,655.45 451.73,655.47 452.44,655.48 453.15,655.50 453.87,655.51 454.58,655.53 455.29,655.54 456.00,655.56 456.72,655.57 457.43,655.58 458.14,655.59 458.85,655.60 459.56,655.61 460.28,655.62 460.99,655.63 461.70,655.64 462.41,655.65 463.13,655.66 463.84,655.67 464.55,655.67 465.26,655.68 465.97,655.69 466.69,655.70 467.40,655.70 468.11,655.71 468.82,655.71 469.54,655.72 470.25,655.72 470.96,655.73 471.67,655.73 472.38,655.74 473.10,655.74 473.81,655.75 474.52,655.75 475.23,655.75 475.95,655.76 476.66,655.76 477.37,655.76 478.08,655.77 478.79,655.77 479.51,655.77 480.22,655.78 480.93,655.78 481.64,655.78 482.36,655.78 483.07,655.79 483.78,655.79 484.49,655.79 485.20,655.79 485.92,655.79 486.63,655.79 487.34,655.80 488.05,655.80 488.77,655.80 489.48,655.80 490.19,655.80 490.90,655.80 491.61,655.81 492.33,655.81 493.04,655.81 493.75,655.81 494.46,655.81 495.18,655.81 495.89,655.81 496.60,655.81" stroke="#52237A" stroke-width="1.9" fill="none" />
<circle cx="354.87" cy="533.45" r="2.15" fill="#C8102E"/>
<circle cx="378.54" cy="534.06" r="2.15" fill="#C8102E"/>
<circle cx="402.05" cy="533.70" r="2.15" fill="#C8102E"/>
<circle cx="425.73" cy="533.45" r="2.15" fill="#C8102E"/>
<circle cx="449.36" cy="533.45" r="2.15" fill="#C8102E"/>
<circle cx="472.98" cy="533.45" r="2.15" fill="#C8102E"/>
<circle cx="496.60" cy="533.45" r="2.15" fill="#C8102E"/>
<circle cx="354.87" cy="542.04" r="2.15" fill="#1F5C99"/>
<circle cx="378.54" cy="538.36" r="2.15" fill="#1F5C99"/>
<circle cx="402.05" cy="539.59" r="2.15" fill="#1F5C99"/>
<circle cx="425.73" cy="533.45" r="2.15" fill="#1F5C99"/>
<circle cx="449.36" cy="533.45" r="2.15" fill="#1F5C99"/>
<circle cx="472.98" cy="533.45" r="2.15" fill="#1F5C99"/>
<circle cx="496.60" cy="533.45" r="2.15" fill="#1F5C99"/>
<circle cx="354.87" cy="542.66" r="2.15" fill="#3CB44F"/>
<circle cx="378.54" cy="547.32" r="2.15" fill="#3CB44F"/>
<circle cx="402.05" cy="533.45" r="2.15" fill="#3CB44F"/>
<circle cx="425.73" cy="533.45" r="2.15" fill="#3CB44F"/>
<circle cx="449.36" cy="542.66" r="2.15" fill="#3CB44F"/>
<circle cx="472.98" cy="533.45" r="2.15" fill="#3CB44F"/>
<circle cx="496.60" cy="533.45" r="2.15" fill="#3CB44F"/>
<circle cx="354.87" cy="600.96" r="2.15" fill="#52237A"/>
<circle cx="378.54" cy="624.53" r="2.15" fill="#52237A"/>
<circle cx="402.05" cy="651.90" r="2.15" fill="#52237A"/>
<circle cx="425.73" cy="655.71" r="2.15" fill="#52237A"/>
<circle cx="449.36" cy="655.83" r="2.15" fill="#52237A"/>
<circle cx="472.98" cy="655.83" r="2.15" fill="#52237A"/>
<circle cx="496.60" cy="655.83" r="2.15" fill="#52237A"/>
<text x="417.10" y="575.80" font-size="10.2" text-anchor="start" font-weight="normal" fill="#000" textLength="44.4" lengthAdjust="spacingAndGlyphs">Treatment</text>
<line x1="417.70" y1="584.80" x2="431.40" y2="584.80" stroke="#C8102E" stroke-width="1.9" />
<circle cx="424.6" cy="584.80" r="2.1" fill="#C8102E"/>
<text x="435.20" y="588.50" font-size="10" text-anchor="start" font-weight="normal" fill="#000" textLength="30.5" lengthAdjust="spacingAndGlyphs">DORA</text>
<line x1="417.70" y1="595.60" x2="431.40" y2="595.60" stroke="#1F5C99" stroke-width="1.9" />
<circle cx="424.6" cy="595.60" r="2.1" fill="#1F5C99"/>
<text x="435.20" y="599.30" font-size="10" text-anchor="start" font-weight="normal" fill="#000" textLength="21.5" lengthAdjust="spacingAndGlyphs">VEN</text>
<line x1="417.70" y1="606.90" x2="431.40" y2="606.90" stroke="#3CB44F" stroke-width="1.9" />
<circle cx="424.6" cy="606.90" r="2.1" fill="#3CB44F"/>
<text x="435.20" y="610.60" font-size="10" text-anchor="start" font-weight="normal" fill="#000" textLength="53.9" lengthAdjust="spacingAndGlyphs">VEN+DORA</text>
<line x1="417.70" y1="618.00" x2="431.40" y2="618.00" stroke="#52237A" stroke-width="1.9" />
<circle cx="424.6" cy="618.00" r="2.1" fill="#52237A"/>
<text x="435.20" y="621.70" font-size="10" text-anchor="start" font-weight="normal" fill="#000" textLength="19.5" lengthAdjust="spacingAndGlyphs">FSV</text>
<rect x="0" y="0" width="1.2" height="703" fill="#000"/><rect x="0" y="0" width="520" height="1.35" fill="#000"/><rect x="518.1" y="0" width="1.9" height="703" fill="#000"/><rect x="0" y="701.1" width="520" height="1.9" fill="#000"/>
</svg>
</body></html>
